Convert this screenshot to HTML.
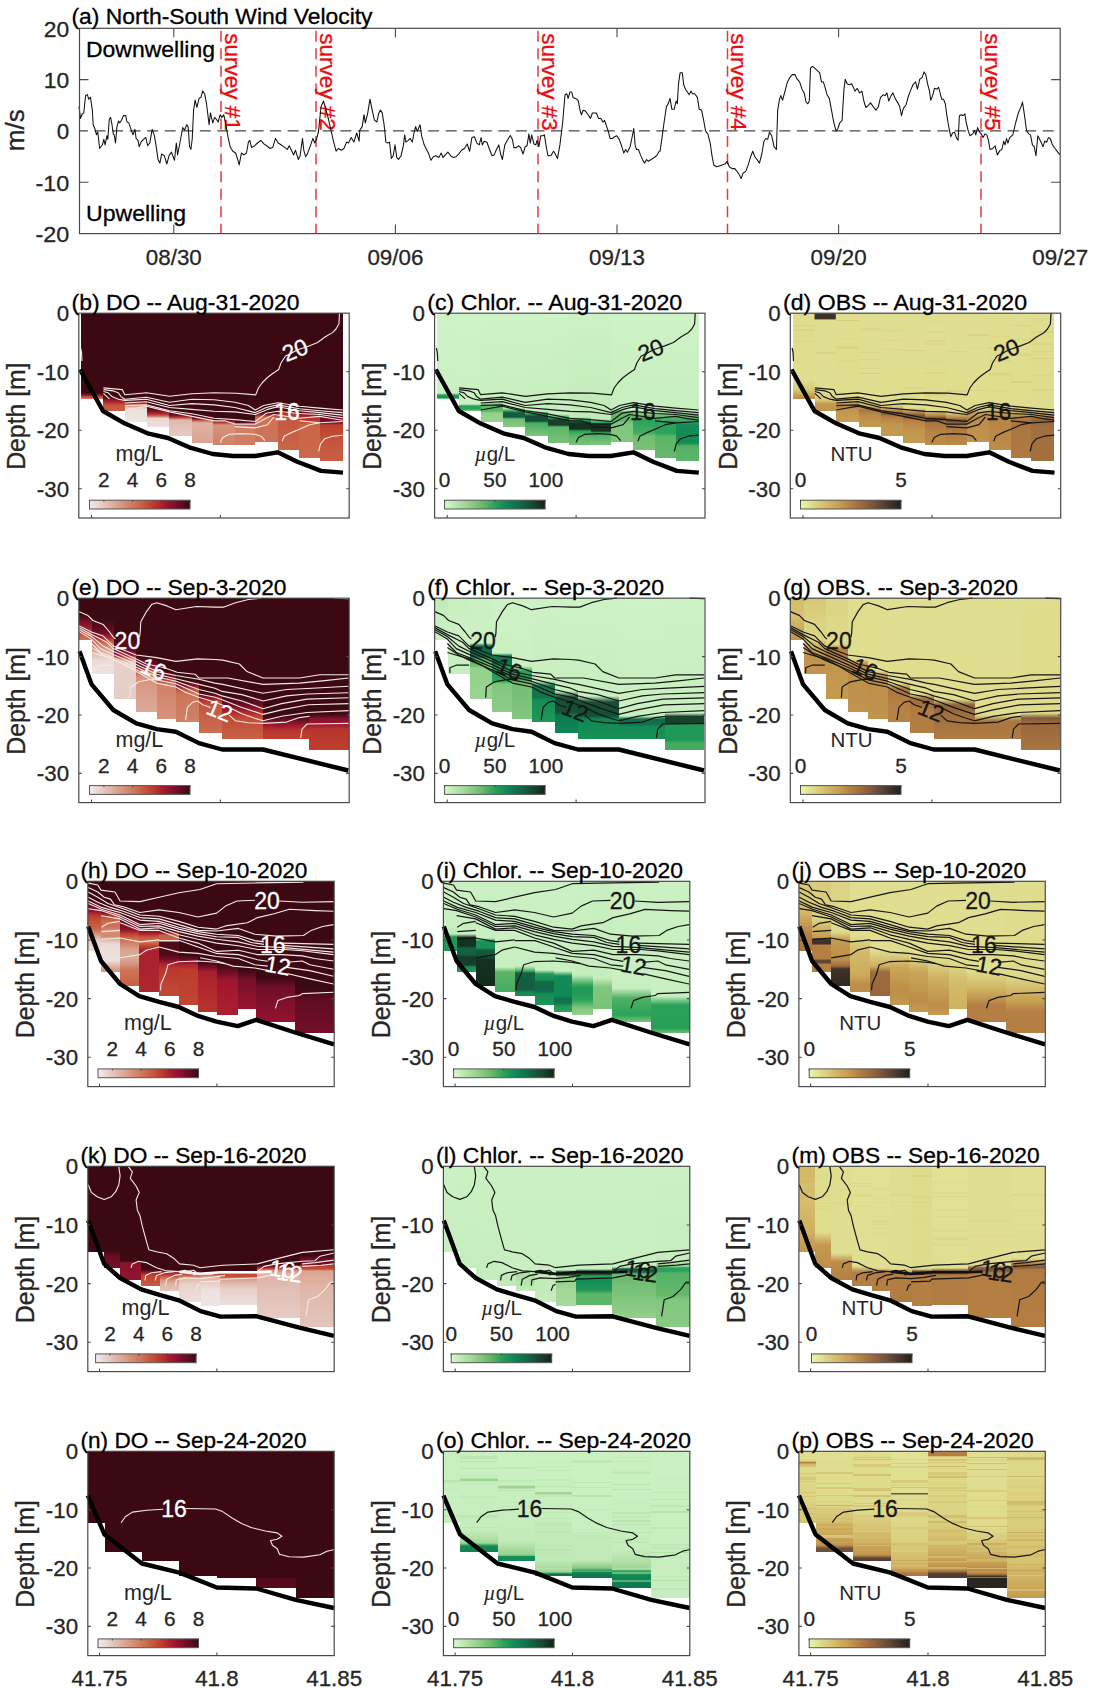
<!DOCTYPE html><html><head><meta charset="utf-8"><title>Figure</title><style>html,body{margin:0;padding:0;background:#fff}svg{display:block}text{font-family:"Liberation Sans",sans-serif}</style></head><body><svg width="1096" height="1688" viewBox="0 0 1096 1688" font-family="Liberation Sans, sans-serif"><defs><linearGradient id="g1" gradientUnits="userSpaceOnUse" x1="0" y1="313.2" x2="0" y2="399.2"><stop offset="0.9279" stop-color="#3c0912"/><stop offset="0.9512" stop-color="#90132d"/><stop offset="0.9744" stop-color="#c5563d"/><stop offset="1.0000" stop-color="#d18167"/></linearGradient><linearGradient id="g2" gradientUnits="userSpaceOnUse" x1="0" y1="313.2" x2="0" y2="410.7"><stop offset="0.8595" stop-color="#3c0912"/><stop offset="0.8903" stop-color="#90132d"/><stop offset="0.9210" stop-color="#b7332e"/><stop offset="0.9415" stop-color="#c5563d"/><stop offset="1.0000" stop-color="#c76044"/></linearGradient><linearGradient id="g3" gradientUnits="userSpaceOnUse" x1="0" y1="313.2" x2="0" y2="422.0"><stop offset="0.7886" stop-color="#3c0912"/><stop offset="0.8254" stop-color="#a41630"/><stop offset="0.8438" stop-color="#c96648"/><stop offset="0.8621" stop-color="#e0b7aa"/><stop offset="0.8805" stop-color="#eddfdc"/><stop offset="1.0000" stop-color="#eee5e2"/></linearGradient><linearGradient id="g4" gradientUnits="userSpaceOnUse" x1="0" y1="313.2" x2="0" y2="427.0"><stop offset="0.8243" stop-color="#3c0912"/><stop offset="0.8682" stop-color="#90132d"/><stop offset="0.8946" stop-color="#c04632"/><stop offset="0.9121" stop-color="#d89c88"/><stop offset="0.9253" stop-color="#ead7d2"/><stop offset="1.0000" stop-color="#eddfdc"/></linearGradient><linearGradient id="g5" gradientUnits="userSpaceOnUse" x1="0" y1="313.2" x2="0" y2="436.0"><stop offset="0.8127" stop-color="#3c0912"/><stop offset="0.8371" stop-color="#90132d"/><stop offset="0.8534" stop-color="#c5563d"/><stop offset="0.8697" stop-color="#e0b7aa"/><stop offset="1.0000" stop-color="#e6ccc5"/></linearGradient><linearGradient id="g6" gradientUnits="userSpaceOnUse" x1="0" y1="313.2" x2="0" y2="442.6"><stop offset="0.7944" stop-color="#3c0912"/><stop offset="0.8176" stop-color="#90132d"/><stop offset="0.8331" stop-color="#cd7458"/><stop offset="0.8485" stop-color="#deb2a3"/><stop offset="1.0031" stop-color="#dba592"/></linearGradient><linearGradient id="g7" gradientUnits="userSpaceOnUse" x1="0" y1="313.2" x2="0" y2="444.5"><stop offset="0.8058" stop-color="#3c0912"/><stop offset="0.8210" stop-color="#7d102a"/><stop offset="0.8363" stop-color="#c04632"/><stop offset="0.8515" stop-color="#d6947e"/><stop offset="1.0000" stop-color="#d18167"/></linearGradient><linearGradient id="g8" gradientUnits="userSpaceOnUse" x1="0" y1="313.2" x2="0" y2="444.5"><stop offset="0.8210" stop-color="#3c0912"/><stop offset="0.8439" stop-color="#7d102a"/><stop offset="0.8553" stop-color="#c96648"/><stop offset="0.8667" stop-color="#d18167"/><stop offset="1.0000" stop-color="#cf7c61"/></linearGradient><linearGradient id="g9" gradientUnits="userSpaceOnUse" x1="0" y1="313.2" x2="0" y2="442.0"><stop offset="0.7593" stop-color="#3c0912"/><stop offset="0.7826" stop-color="#680d24"/><stop offset="0.7981" stop-color="#c04632"/><stop offset="0.8137" stop-color="#cd7458"/><stop offset="1.0000" stop-color="#cd7458"/></linearGradient><linearGradient id="g10" gradientUnits="userSpaceOnUse" x1="0" y1="313.2" x2="0" y2="450.2"><stop offset="0.6920" stop-color="#3c0912"/><stop offset="0.7212" stop-color="#680d24"/><stop offset="0.7358" stop-color="#b9362e"/><stop offset="0.7650" stop-color="#c5563d"/><stop offset="0.9985" stop-color="#c96648"/></linearGradient><linearGradient id="g11" gradientUnits="userSpaceOnUse" x1="0" y1="313.2" x2="0" y2="457.9"><stop offset="0.6690" stop-color="#3c0912"/><stop offset="0.6966" stop-color="#7d102a"/><stop offset="0.7173" stop-color="#b32c2e"/><stop offset="0.7519" stop-color="#be402e"/><stop offset="0.7657" stop-color="#c96648"/><stop offset="1.0007" stop-color="#ca694b"/></linearGradient><linearGradient id="g12" gradientUnits="userSpaceOnUse" x1="0" y1="313.2" x2="0" y2="461.1"><stop offset="0.6815" stop-color="#3c0912"/><stop offset="0.7018" stop-color="#680d24"/><stop offset="0.7424" stop-color="#7d102a"/><stop offset="0.7559" stop-color="#be402e"/><stop offset="0.8573" stop-color="#c4533b"/><stop offset="0.9993" stop-color="#c76044"/></linearGradient><linearGradient id="g13" x1="0" y1="0" x2="1" y2="0"><stop offset="0.000" stop-color="#f1edec"/><stop offset="0.062" stop-color="#ecdcd8"/><stop offset="0.125" stop-color="#e6cbc3"/><stop offset="0.188" stop-color="#e1baae"/><stop offset="0.250" stop-color="#dcaa99"/><stop offset="0.312" stop-color="#d89984"/><stop offset="0.375" stop-color="#d3886f"/><stop offset="0.438" stop-color="#ce775c"/><stop offset="0.500" stop-color="#c96648"/><stop offset="0.562" stop-color="#c4523a"/><stop offset="0.625" stop-color="#be3e2d"/><stop offset="0.688" stop-color="#b12a2e"/><stop offset="0.750" stop-color="#a41630"/><stop offset="0.812" stop-color="#8c122c"/><stop offset="0.875" stop-color="#730e29"/><stop offset="0.938" stop-color="#580c1e"/><stop offset="1.000" stop-color="#3c0912"/></linearGradient><linearGradient id="g14" gradientUnits="userSpaceOnUse" x1="0" y1="313.2" x2="0" y2="399.2"><stop offset="-0.0023" stop-color="#cef3c6"/><stop offset="0.9279" stop-color="#cbf1c3"/><stop offset="0.9570" stop-color="#1f9757"/><stop offset="0.9802" stop-color="#1f9757"/><stop offset="1.0000" stop-color="#a2d798"/></linearGradient><linearGradient id="g15" gradientUnits="userSpaceOnUse" x1="0" y1="313.2" x2="0" y2="410.7"><stop offset="-0.0021" stop-color="#cef3c6"/><stop offset="0.9313" stop-color="#cbf1c3"/><stop offset="0.9518" stop-color="#2aa259"/><stop offset="0.9826" stop-color="#2aa259"/><stop offset="1.0000" stop-color="#82c77f"/></linearGradient><linearGradient id="g16" gradientUnits="userSpaceOnUse" x1="0" y1="313.2" x2="0" y2="422.0"><stop offset="-0.0018" stop-color="#cef3c6"/><stop offset="0.8162" stop-color="#c8efc0"/><stop offset="0.8438" stop-color="#5cb568"/><stop offset="0.8989" stop-color="#5cb568"/><stop offset="0.9173" stop-color="#94cf8b"/><stop offset="1.0000" stop-color="#9cd493"/></linearGradient><linearGradient id="g17" gradientUnits="userSpaceOnUse" x1="0" y1="313.2" x2="0" y2="427.0"><stop offset="-0.0018" stop-color="#cef3c6"/><stop offset="0.8330" stop-color="#c8efc0"/><stop offset="0.8594" stop-color="#2aa259"/><stop offset="0.8770" stop-color="#145c3f"/><stop offset="0.9121" stop-color="#145c3f"/><stop offset="0.9297" stop-color="#71be72"/><stop offset="1.0000" stop-color="#89ca84"/></linearGradient><linearGradient id="g18" gradientUnits="userSpaceOnUse" x1="0" y1="313.2" x2="0" y2="436.0"><stop offset="-0.0016" stop-color="#cef3c6"/><stop offset="0.3811" stop-color="#cbf1c3"/><stop offset="0.7964" stop-color="#c6edbd"/><stop offset="0.8208" stop-color="#2aa259"/><stop offset="0.8371" stop-color="#174f36"/><stop offset="0.8779" stop-color="#174f36"/><stop offset="0.8941" stop-color="#43ac61"/><stop offset="1.0000" stop-color="#82c77f"/></linearGradient><linearGradient id="g19" gradientUnits="userSpaceOnUse" x1="0" y1="313.2" x2="0" y2="442.6"><stop offset="-0.0015" stop-color="#cef3c6"/><stop offset="0.3617" stop-color="#caf0c2"/><stop offset="0.7790" stop-color="#c6edbd"/><stop offset="0.8099" stop-color="#2aa259"/><stop offset="0.8253" stop-color="#17412c"/><stop offset="0.8640" stop-color="#17412c"/><stop offset="0.8794" stop-color="#5cb568"/><stop offset="1.0031" stop-color="#78c277"/></linearGradient><linearGradient id="g20" gradientUnits="userSpaceOnUse" x1="0" y1="313.2" x2="0" y2="444.5"><stop offset="-0.0015" stop-color="#cdf2c5"/><stop offset="0.3564" stop-color="#c8efc0"/><stop offset="0.7906" stop-color="#c1eab8"/><stop offset="0.8210" stop-color="#148c56"/><stop offset="0.8363" stop-color="#143220"/><stop offset="0.8819" stop-color="#143220"/><stop offset="0.8972" stop-color="#2aa259"/><stop offset="0.9353" stop-color="#5cb568"/><stop offset="1.0000" stop-color="#78c277"/></linearGradient><linearGradient id="g21" gradientUnits="userSpaceOnUse" x1="0" y1="313.2" x2="0" y2="444.5"><stop offset="-0.0015" stop-color="#cdf2c5"/><stop offset="0.3564" stop-color="#c8efc0"/><stop offset="0.8058" stop-color="#c1eab8"/><stop offset="0.8363" stop-color="#148c56"/><stop offset="0.8515" stop-color="#143220"/><stop offset="0.8972" stop-color="#143220"/><stop offset="0.9124" stop-color="#43ac61"/><stop offset="1.0000" stop-color="#82c77f"/></linearGradient><linearGradient id="g22" gradientUnits="userSpaceOnUse" x1="0" y1="313.2" x2="0" y2="442.0"><stop offset="-0.0016" stop-color="#cef3c6"/><stop offset="0.7516" stop-color="#c8efc0"/><stop offset="0.7671" stop-color="#5cb568"/><stop offset="0.8292" stop-color="#66b96b"/><stop offset="0.8602" stop-color="#82c77f"/><stop offset="1.0000" stop-color="#82c77f"/></linearGradient><linearGradient id="g23" gradientUnits="userSpaceOnUse" x1="0" y1="313.2" x2="0" y2="450.2"><stop offset="-0.0015" stop-color="#cef3c6"/><stop offset="0.7066" stop-color="#c8efc0"/><stop offset="0.7358" stop-color="#82c77f"/><stop offset="0.7796" stop-color="#2aa259"/><stop offset="0.8745" stop-color="#43ac61"/><stop offset="0.8964" stop-color="#71be72"/><stop offset="0.9985" stop-color="#78c277"/></linearGradient><linearGradient id="g24" gradientUnits="userSpaceOnUse" x1="0" y1="313.2" x2="0" y2="457.9"><stop offset="-0.0014" stop-color="#cef3c6"/><stop offset="0.6690" stop-color="#c8efc0"/><stop offset="0.6966" stop-color="#82c77f"/><stop offset="0.7519" stop-color="#2aa259"/><stop offset="0.8279" stop-color="#2aa259"/><stop offset="0.8487" stop-color="#5cb568"/><stop offset="1.0007" stop-color="#66b96b"/></linearGradient><linearGradient id="g25" gradientUnits="userSpaceOnUse" x1="0" y1="313.2" x2="0" y2="461.1"><stop offset="-0.0014" stop-color="#cef3c6"/><stop offset="0.6680" stop-color="#c8efc0"/><stop offset="0.6951" stop-color="#71be72"/><stop offset="0.7559" stop-color="#148c56"/><stop offset="0.8776" stop-color="#148c56"/><stop offset="0.8979" stop-color="#52b165"/><stop offset="0.9993" stop-color="#5cb568"/></linearGradient><linearGradient id="g26" x1="0" y1="0" x2="1" y2="0"><stop offset="0.000" stop-color="#d7f9d0"/><stop offset="0.062" stop-color="#c6eebe"/><stop offset="0.125" stop-color="#b6e3ac"/><stop offset="0.188" stop-color="#a5d99c"/><stop offset="0.250" stop-color="#94cf8b"/><stop offset="0.312" stop-color="#7ec47c"/><stop offset="0.375" stop-color="#68ba6c"/><stop offset="0.438" stop-color="#49ae62"/><stop offset="0.500" stop-color="#2aa259"/><stop offset="0.562" stop-color="#1c9457"/><stop offset="0.625" stop-color="#0e8755"/><stop offset="0.688" stop-color="#10784e"/><stop offset="0.750" stop-color="#126948"/><stop offset="0.812" stop-color="#15583d"/><stop offset="0.875" stop-color="#184832"/><stop offset="0.938" stop-color="#153623"/><stop offset="1.000" stop-color="#122414"/></linearGradient><linearGradient id="g27" gradientUnits="userSpaceOnUse" x1="0" y1="313.2" x2="0" y2="399.2"><stop offset="-0.0023" stop-color="#e0dd8f"/><stop offset="0.7767" stop-color="#e0dd8f"/><stop offset="0.8930" stop-color="#d7c877"/><stop offset="0.9628" stop-color="#c49a50"/><stop offset="1.0000" stop-color="#bd8d49"/></linearGradient><linearGradient id="g28" gradientUnits="userSpaceOnUse" x1="0" y1="313.2" x2="0" y2="410.7"><stop offset="-0.0021" stop-color="#e0df91"/><stop offset="0.8082" stop-color="#e0de90"/><stop offset="0.8903" stop-color="#d7c877"/><stop offset="0.9313" stop-color="#c49a50"/><stop offset="1.0000" stop-color="#c1954d"/></linearGradient><linearGradient id="g29" gradientUnits="userSpaceOnUse" x1="0" y1="313.2" x2="0" y2="422.0"><stop offset="-0.0018" stop-color="#e0de90"/><stop offset="0.7610" stop-color="#e0dd8f"/><stop offset="0.8162" stop-color="#cfb161"/><stop offset="0.8529" stop-color="#b57f43"/><stop offset="0.8897" stop-color="#c1954d"/><stop offset="1.0000" stop-color="#c7a052"/></linearGradient><linearGradient id="g30" gradientUnits="userSpaceOnUse" x1="0" y1="313.2" x2="0" y2="427.0"><stop offset="-0.0018" stop-color="#e0df91"/><stop offset="0.7627" stop-color="#e0de90"/><stop offset="0.8155" stop-color="#cfb161"/><stop offset="0.8506" stop-color="#a97540"/><stop offset="0.9033" stop-color="#bd8d49"/><stop offset="1.0000" stop-color="#c49a50"/></linearGradient><linearGradient id="g31" gradientUnits="userSpaceOnUse" x1="0" y1="313.2" x2="0" y2="436.0"><stop offset="-0.0016" stop-color="#e0df91"/><stop offset="0.7394" stop-color="#e0dd8f"/><stop offset="0.7883" stop-color="#c49a50"/><stop offset="0.8127" stop-color="#80593b"/><stop offset="0.8453" stop-color="#b57f43"/><stop offset="0.9023" stop-color="#c1954d"/><stop offset="1.0000" stop-color="#c49a50"/></linearGradient><linearGradient id="g32" gradientUnits="userSpaceOnUse" x1="0" y1="313.2" x2="0" y2="442.6"><stop offset="-0.0015" stop-color="#e0df91"/><stop offset="0.7326" stop-color="#e0dd8f"/><stop offset="0.7635" stop-color="#bd8d49"/><stop offset="0.7944" stop-color="#70503a"/><stop offset="0.8253" stop-color="#b57f43"/><stop offset="0.9026" stop-color="#c1954d"/><stop offset="1.0031" stop-color="#c49a50"/></linearGradient><linearGradient id="g33" gradientUnits="userSpaceOnUse" x1="0" y1="313.2" x2="0" y2="444.5"><stop offset="-0.0015" stop-color="#e0df91"/><stop offset="0.7372" stop-color="#dfdc8d"/><stop offset="0.7829" stop-color="#b57f43"/><stop offset="0.8058" stop-color="#503c30"/><stop offset="0.8286" stop-color="#a97540"/><stop offset="0.9048" stop-color="#b88446"/><stop offset="1.0000" stop-color="#bd8d49"/></linearGradient><linearGradient id="g34" gradientUnits="userSpaceOnUse" x1="0" y1="313.2" x2="0" y2="444.5"><stop offset="-0.0015" stop-color="#e0df91"/><stop offset="0.7525" stop-color="#dfdc8d"/><stop offset="0.7982" stop-color="#b57f43"/><stop offset="0.8210" stop-color="#604635"/><stop offset="0.8439" stop-color="#a97540"/><stop offset="1.0000" stop-color="#bb8a48"/></linearGradient><linearGradient id="g35" gradientUnits="userSpaceOnUse" x1="0" y1="313.2" x2="0" y2="442.0"><stop offset="-0.0016" stop-color="#e0df91"/><stop offset="0.7360" stop-color="#e0dd8f"/><stop offset="0.7671" stop-color="#caa658"/><stop offset="0.8059" stop-color="#bd8d49"/><stop offset="1.0000" stop-color="#c1954d"/></linearGradient><linearGradient id="g36" gradientUnits="userSpaceOnUse" x1="0" y1="313.2" x2="0" y2="450.2"><stop offset="-0.0015" stop-color="#e0dd8f"/><stop offset="0.6774" stop-color="#e0dd8f"/><stop offset="0.7212" stop-color="#caa658"/><stop offset="0.7650" stop-color="#b88446"/><stop offset="0.9985" stop-color="#bd8d49"/></linearGradient><linearGradient id="g37" gradientUnits="userSpaceOnUse" x1="0" y1="313.2" x2="0" y2="457.9"><stop offset="-0.0014" stop-color="#e0de90"/><stop offset="0.6551" stop-color="#e0dd8f"/><stop offset="0.6897" stop-color="#caa658"/><stop offset="0.7381" stop-color="#a97540"/><stop offset="1.0007" stop-color="#b07b42"/></linearGradient><linearGradient id="g38" gradientUnits="userSpaceOnUse" x1="0" y1="313.2" x2="0" y2="461.1"><stop offset="-0.0014" stop-color="#e0dd8f"/><stop offset="0.6545" stop-color="#dfdc8d"/><stop offset="0.6951" stop-color="#bd8d49"/><stop offset="0.7221" stop-color="#90623c"/><stop offset="0.7627" stop-color="#a26f3f"/><stop offset="0.9993" stop-color="#a26f3f"/></linearGradient><linearGradient id="g39" x1="0" y1="0" x2="1" y2="0"><stop offset="0.000" stop-color="#e9f6ab"/><stop offset="0.062" stop-color="#e4e89a"/><stop offset="0.125" stop-color="#ded98a"/><stop offset="0.188" stop-color="#d8ca7a"/><stop offset="0.250" stop-color="#d3bc6a"/><stop offset="0.312" stop-color="#ceae5e"/><stop offset="0.375" stop-color="#c8a153"/><stop offset="0.438" stop-color="#be904b"/><stop offset="0.500" stop-color="#b57f43"/><stop offset="0.562" stop-color="#a67240"/><stop offset="0.625" stop-color="#98663c"/><stop offset="0.688" stop-color="#845b3b"/><stop offset="0.750" stop-color="#70503a"/><stop offset="0.812" stop-color="#5c4434"/><stop offset="0.875" stop-color="#48372d"/><stop offset="0.938" stop-color="#352b24"/><stop offset="1.000" stop-color="#221f1b"/></linearGradient><linearGradient id="g40" gradientUnits="userSpaceOnUse" x1="0" y1="598.2" x2="0" y2="639.7"><stop offset="0.4048" stop-color="#3c0912"/><stop offset="0.5735" stop-color="#7d102a"/><stop offset="0.7904" stop-color="#ae262f"/><stop offset="0.8627" stop-color="#c5563d"/><stop offset="1.0000" stop-color="#cd7458"/></linearGradient><linearGradient id="g41" gradientUnits="userSpaceOnUse" x1="0" y1="598.2" x2="0" y2="673.5"><stop offset="0.2895" stop-color="#3c0912"/><stop offset="0.4622" stop-color="#710e28"/><stop offset="0.5286" stop-color="#ae262f"/><stop offset="0.5817" stop-color="#c96648"/><stop offset="0.6746" stop-color="#d89c88"/><stop offset="0.7543" stop-color="#e4c4bb"/><stop offset="0.8340" stop-color="#ecddd8"/><stop offset="1.0000" stop-color="#ede2df"/></linearGradient><linearGradient id="g42" gradientUnits="userSpaceOnUse" x1="0" y1="598.2" x2="0" y2="699.1"><stop offset="0.3449" stop-color="#3c0912"/><stop offset="0.5134" stop-color="#680d24"/><stop offset="0.5629" stop-color="#98142e"/><stop offset="0.5927" stop-color="#c96648"/><stop offset="0.6224" stop-color="#e0b7aa"/><stop offset="0.6521" stop-color="#e8d2cb"/><stop offset="0.9990" stop-color="#e6ccc5"/></linearGradient><linearGradient id="g43" gradientUnits="userSpaceOnUse" x1="0" y1="598.2" x2="0" y2="711.9"><stop offset="0.4996" stop-color="#3c0912"/><stop offset="0.5875" stop-color="#680d24"/><stop offset="0.6227" stop-color="#ae262f"/><stop offset="0.6491" stop-color="#c96648"/><stop offset="0.7018" stop-color="#d6947e"/><stop offset="1.0009" stop-color="#dcaa99"/></linearGradient><linearGradient id="g44" gradientUnits="userSpaceOnUse" x1="0" y1="598.2" x2="0" y2="718.9"><stop offset="0.6031" stop-color="#3c0912"/><stop offset="0.6529" stop-color="#7d102a"/><stop offset="0.6860" stop-color="#c04632"/><stop offset="0.7191" stop-color="#d18167"/><stop offset="1.0008" stop-color="#d6927b"/></linearGradient><linearGradient id="g45" gradientUnits="userSpaceOnUse" x1="0" y1="598.2" x2="0" y2="721.8"><stop offset="0.6699" stop-color="#3c0912"/><stop offset="0.7104" stop-color="#90132d"/><stop offset="0.7427" stop-color="#c5563d"/><stop offset="0.7751" stop-color="#cd7458"/><stop offset="1.0016" stop-color="#d18167"/></linearGradient><linearGradient id="g46" gradientUnits="userSpaceOnUse" x1="0" y1="598.2" x2="0" y2="733.3"><stop offset="0.6943" stop-color="#3c0912"/><stop offset="0.7313" stop-color="#7d102a"/><stop offset="0.7609" stop-color="#b9362e"/><stop offset="0.7979" stop-color="#c5563d"/><stop offset="0.9978" stop-color="#cb6e51"/></linearGradient><linearGradient id="g47" gradientUnits="userSpaceOnUse" x1="0" y1="598.2" x2="0" y2="738.7"><stop offset="0.6890" stop-color="#3c0912"/><stop offset="0.7601" stop-color="#680d24"/><stop offset="0.8100" stop-color="#ae262f"/><stop offset="0.8527" stop-color="#c24c37"/><stop offset="1.0021" stop-color="#c76044"/></linearGradient><linearGradient id="g48" gradientUnits="userSpaceOnUse" x1="0" y1="598.2" x2="0" y2="738.7"><stop offset="0.8384" stop-color="#3c0912"/><stop offset="0.8811" stop-color="#7d102a"/><stop offset="0.9167" stop-color="#aa202f"/><stop offset="0.9452" stop-color="#b9362e"/><stop offset="1.0021" stop-color="#be402e"/></linearGradient><linearGradient id="g49" gradientUnits="userSpaceOnUse" x1="0" y1="598.2" x2="0" y2="750.2"><stop offset="0.7618" stop-color="#3c0912"/><stop offset="0.7947" stop-color="#89122c"/><stop offset="0.8276" stop-color="#98142e"/><stop offset="0.8605" stop-color="#b7332e"/><stop offset="0.9987" stop-color="#be402e"/></linearGradient><linearGradient id="g50" x1="0" y1="0" x2="1" y2="0"><stop offset="0.000" stop-color="#f1edec"/><stop offset="0.062" stop-color="#ecdcd8"/><stop offset="0.125" stop-color="#e6cbc3"/><stop offset="0.188" stop-color="#e1baae"/><stop offset="0.250" stop-color="#dcaa99"/><stop offset="0.312" stop-color="#d89984"/><stop offset="0.375" stop-color="#d3886f"/><stop offset="0.438" stop-color="#ce775c"/><stop offset="0.500" stop-color="#c96648"/><stop offset="0.562" stop-color="#c4523a"/><stop offset="0.625" stop-color="#be3e2d"/><stop offset="0.688" stop-color="#b12a2e"/><stop offset="0.750" stop-color="#a41630"/><stop offset="0.812" stop-color="#8c122c"/><stop offset="0.875" stop-color="#730e29"/><stop offset="0.938" stop-color="#580c1e"/><stop offset="1.000" stop-color="#3c0912"/></linearGradient><linearGradient id="g51" gradientUnits="userSpaceOnUse" x1="0" y1="598.2" x2="0" y2="639.7"><stop offset="-0.0048" stop-color="#c1eab8"/><stop offset="0.5253" stop-color="#c8efc0"/><stop offset="1.0000" stop-color="#cbf1c3"/></linearGradient><linearGradient id="g52" gradientUnits="userSpaceOnUse" x1="0" y1="598.2" x2="0" y2="673.5"><stop offset="-0.0027" stop-color="#c8efc0"/><stop offset="0.5551" stop-color="#cdf2c5"/><stop offset="0.7543" stop-color="#c8efc0"/><stop offset="1.0000" stop-color="#c6edbd"/></linearGradient><linearGradient id="g53" gradientUnits="userSpaceOnUse" x1="0" y1="598.2" x2="0" y2="699.1"><stop offset="-0.0020" stop-color="#cbf1c3"/><stop offset="0.4440" stop-color="#cbf1c3"/><stop offset="0.4737" stop-color="#126948"/><stop offset="0.5828" stop-color="#126948"/><stop offset="0.6026" stop-color="#5cb568"/><stop offset="0.6720" stop-color="#71be72"/><stop offset="0.6918" stop-color="#94cf8b"/><stop offset="0.9990" stop-color="#9cd493"/></linearGradient><linearGradient id="g54" gradientUnits="userSpaceOnUse" x1="0" y1="598.2" x2="0" y2="711.9"><stop offset="-0.0018" stop-color="#cdf2c5"/><stop offset="0.4820" stop-color="#cbf1c3"/><stop offset="0.5084" stop-color="#10754d"/><stop offset="0.5787" stop-color="#10754d"/><stop offset="0.5963" stop-color="#1f9757"/><stop offset="0.7282" stop-color="#2aa259"/><stop offset="0.7546" stop-color="#82c77f"/><stop offset="1.0009" stop-color="#8dcc86"/></linearGradient><linearGradient id="g55" gradientUnits="userSpaceOnUse" x1="0" y1="598.2" x2="0" y2="718.9"><stop offset="-0.0017" stop-color="#cdf2c5"/><stop offset="0.5617" stop-color="#cbf1c3"/><stop offset="0.6031" stop-color="#2aa259"/><stop offset="0.6694" stop-color="#2aa259"/><stop offset="0.6943" stop-color="#71be72"/><stop offset="1.0008" stop-color="#82c77f"/></linearGradient><linearGradient id="g56" gradientUnits="userSpaceOnUse" x1="0" y1="598.2" x2="0" y2="721.8"><stop offset="-0.0016" stop-color="#cdf2c5"/><stop offset="0.6699" stop-color="#c8efc0"/><stop offset="0.7104" stop-color="#10754d"/><stop offset="0.7994" stop-color="#10754d"/><stop offset="0.8236" stop-color="#148c56"/><stop offset="1.0016" stop-color="#1f9757"/></linearGradient><linearGradient id="g57" gradientUnits="userSpaceOnUse" x1="0" y1="598.2" x2="0" y2="733.3"><stop offset="-0.0015" stop-color="#cdf2c5"/><stop offset="0.6869" stop-color="#c8efc0"/><stop offset="0.7313" stop-color="#174f36"/><stop offset="0.8423" stop-color="#174f36"/><stop offset="0.8645" stop-color="#10754d"/><stop offset="0.9978" stop-color="#0f8855"/></linearGradient><linearGradient id="g58" gradientUnits="userSpaceOnUse" x1="0" y1="598.2" x2="0" y2="738.7"><stop offset="-0.0014" stop-color="#cdf2c5"/><stop offset="0.6961" stop-color="#c8efc0"/><stop offset="0.7388" stop-color="#174f36"/><stop offset="0.8384" stop-color="#174f36"/><stop offset="0.8598" stop-color="#0f8855"/><stop offset="1.0021" stop-color="#189156"/></linearGradient><linearGradient id="g59" gradientUnits="userSpaceOnUse" x1="0" y1="598.2" x2="0" y2="738.7"><stop offset="-0.0014" stop-color="#cef3c6"/><stop offset="0.8384" stop-color="#c8efc0"/><stop offset="0.8598" stop-color="#11704b"/><stop offset="0.8954" stop-color="#11704b"/><stop offset="0.9167" stop-color="#148c56"/><stop offset="1.0021" stop-color="#189156"/></linearGradient><linearGradient id="g60" gradientUnits="userSpaceOnUse" x1="0" y1="598.2" x2="0" y2="750.2"><stop offset="-0.0013" stop-color="#cdf2c5"/><stop offset="0.7553" stop-color="#c8efc0"/><stop offset="0.7783" stop-color="#17412c"/><stop offset="0.8211" stop-color="#17412c"/><stop offset="0.8342" stop-color="#1f9757"/><stop offset="0.9329" stop-color="#1f9757"/><stop offset="0.9526" stop-color="#43ac61"/><stop offset="0.9987" stop-color="#43ac61"/></linearGradient><linearGradient id="g61" x1="0" y1="0" x2="1" y2="0"><stop offset="0.000" stop-color="#d7f9d0"/><stop offset="0.062" stop-color="#c6eebe"/><stop offset="0.125" stop-color="#b6e3ac"/><stop offset="0.188" stop-color="#a5d99c"/><stop offset="0.250" stop-color="#94cf8b"/><stop offset="0.312" stop-color="#7ec47c"/><stop offset="0.375" stop-color="#68ba6c"/><stop offset="0.438" stop-color="#49ae62"/><stop offset="0.500" stop-color="#2aa259"/><stop offset="0.562" stop-color="#1c9457"/><stop offset="0.625" stop-color="#0e8755"/><stop offset="0.688" stop-color="#10784e"/><stop offset="0.750" stop-color="#126948"/><stop offset="0.812" stop-color="#15583d"/><stop offset="0.875" stop-color="#184832"/><stop offset="0.938" stop-color="#153623"/><stop offset="1.000" stop-color="#122414"/></linearGradient><linearGradient id="g62" gradientUnits="userSpaceOnUse" x1="0" y1="598.2" x2="0" y2="639.7"><stop offset="-0.0048" stop-color="#d3bc6a"/><stop offset="0.4048" stop-color="#d6c372"/><stop offset="0.6458" stop-color="#cfb161"/><stop offset="1.0000" stop-color="#c1954d"/></linearGradient><linearGradient id="g63" gradientUnits="userSpaceOnUse" x1="0" y1="598.2" x2="0" y2="673.5"><stop offset="-0.0027" stop-color="#d7c877"/><stop offset="0.3559" stop-color="#dcd384"/><stop offset="0.5551" stop-color="#dcd384"/><stop offset="0.6348" stop-color="#cfb161"/><stop offset="0.7410" stop-color="#c1954d"/><stop offset="1.0000" stop-color="#c1954d"/></linearGradient><linearGradient id="g64" gradientUnits="userSpaceOnUse" x1="0" y1="598.2" x2="0" y2="699.1"><stop offset="-0.0020" stop-color="#dcd384"/><stop offset="0.4539" stop-color="#dfdc8d"/><stop offset="0.5035" stop-color="#b57f43"/><stop offset="0.5629" stop-color="#b57f43"/><stop offset="0.6323" stop-color="#c1954d"/><stop offset="0.9990" stop-color="#c49a50"/></linearGradient><linearGradient id="g65" gradientUnits="userSpaceOnUse" x1="0" y1="598.2" x2="0" y2="711.9"><stop offset="-0.0018" stop-color="#e0dd8f"/><stop offset="0.5347" stop-color="#e0dd8f"/><stop offset="0.5787" stop-color="#bd8d49"/><stop offset="1.0009" stop-color="#c1954d"/></linearGradient><linearGradient id="g66" gradientUnits="userSpaceOnUse" x1="0" y1="598.2" x2="0" y2="718.9"><stop offset="-0.0017" stop-color="#e0de90"/><stop offset="0.6031" stop-color="#e0dd8f"/><stop offset="0.6446" stop-color="#bd8d49"/><stop offset="1.0008" stop-color="#c1954d"/></linearGradient><linearGradient id="g67" gradientUnits="userSpaceOnUse" x1="0" y1="598.2" x2="0" y2="721.8"><stop offset="-0.0016" stop-color="#e0df91"/><stop offset="0.6861" stop-color="#e0dd8f"/><stop offset="0.7346" stop-color="#a97540"/><stop offset="0.8236" stop-color="#b57f43"/><stop offset="1.0016" stop-color="#b88446"/></linearGradient><linearGradient id="g68" gradientUnits="userSpaceOnUse" x1="0" y1="598.2" x2="0" y2="733.3"><stop offset="-0.0015" stop-color="#e0df91"/><stop offset="0.7091" stop-color="#e0dd8f"/><stop offset="0.7461" stop-color="#9e6b3d"/><stop offset="0.8275" stop-color="#b07b42"/><stop offset="0.9978" stop-color="#b57f43"/></linearGradient><linearGradient id="g69" gradientUnits="userSpaceOnUse" x1="0" y1="598.2" x2="0" y2="738.7"><stop offset="-0.0014" stop-color="#e0df91"/><stop offset="0.7174" stop-color="#e0dd8f"/><stop offset="0.7601" stop-color="#90623c"/><stop offset="0.8313" stop-color="#a26f3f"/><stop offset="1.0021" stop-color="#b07b42"/></linearGradient><linearGradient id="g70" gradientUnits="userSpaceOnUse" x1="0" y1="598.2" x2="0" y2="738.7"><stop offset="-0.0014" stop-color="#e0df91"/><stop offset="0.8313" stop-color="#e0dd8f"/><stop offset="0.8740" stop-color="#a97540"/><stop offset="1.0021" stop-color="#b07b42"/></linearGradient><linearGradient id="g71" gradientUnits="userSpaceOnUse" x1="0" y1="598.2" x2="0" y2="750.2"><stop offset="-0.0013" stop-color="#e0dd8f"/><stop offset="0.7553" stop-color="#dfdb8c"/><stop offset="0.7882" stop-color="#80593b"/><stop offset="0.8145" stop-color="#99673c"/><stop offset="0.9987" stop-color="#a97540"/></linearGradient><linearGradient id="g72" x1="0" y1="0" x2="1" y2="0"><stop offset="0.000" stop-color="#e9f6ab"/><stop offset="0.062" stop-color="#e4e89a"/><stop offset="0.125" stop-color="#ded98a"/><stop offset="0.188" stop-color="#d8ca7a"/><stop offset="0.250" stop-color="#d3bc6a"/><stop offset="0.312" stop-color="#ceae5e"/><stop offset="0.375" stop-color="#c8a153"/><stop offset="0.438" stop-color="#be904b"/><stop offset="0.500" stop-color="#b57f43"/><stop offset="0.562" stop-color="#a67240"/><stop offset="0.625" stop-color="#98663c"/><stop offset="0.688" stop-color="#845b3b"/><stop offset="0.750" stop-color="#70503a"/><stop offset="0.812" stop-color="#5c4434"/><stop offset="0.875" stop-color="#48372d"/><stop offset="0.938" stop-color="#352b24"/><stop offset="1.000" stop-color="#221f1b"/></linearGradient><linearGradient id="g73" gradientUnits="userSpaceOnUse" x1="0" y1="881.3" x2="0" y2="950.8"><stop offset="0.2691" stop-color="#3c0912"/><stop offset="0.3698" stop-color="#710e28"/><stop offset="0.4273" stop-color="#90132d"/><stop offset="0.4849" stop-color="#b9362e"/><stop offset="0.5568" stop-color="#c24c37"/><stop offset="0.6863" stop-color="#c96648"/><stop offset="0.7727" stop-color="#d89c88"/><stop offset="0.8446" stop-color="#e6ccc5"/><stop offset="1.0029" stop-color="#ecddd8"/></linearGradient><linearGradient id="g74" gradientUnits="userSpaceOnUse" x1="0" y1="881.3" x2="0" y2="971.9"><stop offset="0.2837" stop-color="#3c0912"/><stop offset="0.3499" stop-color="#7d102a"/><stop offset="0.3830" stop-color="#be402e"/><stop offset="0.4272" stop-color="#c96648"/><stop offset="0.5044" stop-color="#cd7458"/><stop offset="0.5486" stop-color="#d58f77"/><stop offset="0.6038" stop-color="#d3876d"/><stop offset="0.6479" stop-color="#e0b7aa"/><stop offset="0.6921" stop-color="#ebdad5"/><stop offset="0.8687" stop-color="#ede2df"/><stop offset="0.9128" stop-color="#e4c4bb"/><stop offset="0.9570" stop-color="#dba592"/><stop offset="1.0011" stop-color="#d79781"/></linearGradient><linearGradient id="g75" gradientUnits="userSpaceOnUse" x1="0" y1="881.3" x2="0" y2="985.9"><stop offset="0.3222" stop-color="#3c0912"/><stop offset="0.4082" stop-color="#680d24"/><stop offset="0.4656" stop-color="#90132d"/><stop offset="0.5038" stop-color="#be402e"/><stop offset="0.5421" stop-color="#c96648"/><stop offset="0.5994" stop-color="#d3876d"/><stop offset="0.6568" stop-color="#dba592"/><stop offset="0.7333" stop-color="#dcaa99"/><stop offset="0.7906" stop-color="#d6947e"/><stop offset="0.8480" stop-color="#cd7458"/><stop offset="1.0010" stop-color="#c76044"/></linearGradient><linearGradient id="g76" gradientUnits="userSpaceOnUse" x1="0" y1="881.3" x2="0" y2="991.7"><stop offset="0.3596" stop-color="#3c0912"/><stop offset="0.4321" stop-color="#710e28"/><stop offset="0.4683" stop-color="#a41630"/><stop offset="0.5045" stop-color="#c5563d"/><stop offset="0.5498" stop-color="#cd7458"/><stop offset="0.5861" stop-color="#c04632"/><stop offset="0.6223" stop-color="#aa202f"/><stop offset="1.0027" stop-color="#ae262f"/></linearGradient><linearGradient id="g77" gradientUnits="userSpaceOnUse" x1="0" y1="881.3" x2="0" y2="996.1"><stop offset="0.4329" stop-color="#3c0912"/><stop offset="0.4503" stop-color="#90132d"/><stop offset="0.4678" stop-color="#c76044"/><stop offset="0.5200" stop-color="#c96648"/><stop offset="0.5331" stop-color="#520b1b"/><stop offset="0.6420" stop-color="#520b1b"/><stop offset="0.6855" stop-color="#7d102a"/><stop offset="0.7204" stop-color="#aa202f"/><stop offset="0.7552" stop-color="#b9362e"/><stop offset="0.9991" stop-color="#c24c37"/></linearGradient><linearGradient id="g78" gradientUnits="userSpaceOnUse" x1="0" y1="881.3" x2="0" y2="1005.1"><stop offset="0.5953" stop-color="#3c0912"/><stop offset="0.6438" stop-color="#7d102a"/><stop offset="0.6761" stop-color="#ae262f"/><stop offset="0.7165" stop-color="#bd3c2d"/><stop offset="0.9992" stop-color="#c04632"/></linearGradient><linearGradient id="g79" gradientUnits="userSpaceOnUse" x1="0" y1="881.3" x2="0" y2="1011.5"><stop offset="0.6198" stop-color="#3c0912"/><stop offset="0.6659" stop-color="#7d102a"/><stop offset="0.6966" stop-color="#aa202f"/><stop offset="0.9962" stop-color="#b7332e"/></linearGradient><linearGradient id="g80" gradientUnits="userSpaceOnUse" x1="0" y1="881.3" x2="0" y2="1014.7"><stop offset="0.6199" stop-color="#3c0912"/><stop offset="0.7024" stop-color="#7d102a"/><stop offset="0.7399" stop-color="#a0152f"/><stop offset="1.0022" stop-color="#aa202f"/></linearGradient><linearGradient id="g81" gradientUnits="userSpaceOnUse" x1="0" y1="881.3" x2="0" y2="1008.9"><stop offset="0.6951" stop-color="#3c0912"/><stop offset="0.7735" stop-color="#790f2a"/><stop offset="1.0008" stop-color="#98142e"/></linearGradient><linearGradient id="g82" gradientUnits="userSpaceOnUse" x1="0" y1="881.3" x2="0" y2="1021.7"><stop offset="0.6887" stop-color="#3c0912"/><stop offset="0.7600" stop-color="#710e28"/><stop offset="1.0021" stop-color="#94132e"/></linearGradient><linearGradient id="g83" gradientUnits="userSpaceOnUse" x1="0" y1="881.3" x2="0" y2="1033.2"><stop offset="0.7156" stop-color="#3c0912"/><stop offset="0.7749" stop-color="#5f0c21"/><stop offset="0.9987" stop-color="#750e29"/></linearGradient><linearGradient id="g84" x1="0" y1="0" x2="1" y2="0"><stop offset="0.000" stop-color="#f1edec"/><stop offset="0.062" stop-color="#ecdcd8"/><stop offset="0.125" stop-color="#e6cbc3"/><stop offset="0.188" stop-color="#e1baae"/><stop offset="0.250" stop-color="#dcaa99"/><stop offset="0.312" stop-color="#d89984"/><stop offset="0.375" stop-color="#d3886f"/><stop offset="0.438" stop-color="#ce775c"/><stop offset="0.500" stop-color="#c96648"/><stop offset="0.562" stop-color="#c4523a"/><stop offset="0.625" stop-color="#be3e2d"/><stop offset="0.688" stop-color="#b12a2e"/><stop offset="0.750" stop-color="#a41630"/><stop offset="0.812" stop-color="#8c122c"/><stop offset="0.875" stop-color="#730e29"/><stop offset="0.938" stop-color="#580c1e"/><stop offset="1.000" stop-color="#3c0912"/></linearGradient><linearGradient id="g85" gradientUnits="userSpaceOnUse" x1="0" y1="881.3" x2="0" y2="950.8"><stop offset="-0.0043" stop-color="#cbf1c3"/><stop offset="0.6288" stop-color="#c8efc0"/><stop offset="0.7583" stop-color="#c1eab8"/><stop offset="0.8014" stop-color="#1f9757"/><stop offset="1.0029" stop-color="#1f9757"/></linearGradient><linearGradient id="g86" gradientUnits="userSpaceOnUse" x1="0" y1="881.3" x2="0" y2="971.9"><stop offset="-0.0033" stop-color="#cbf1c3"/><stop offset="0.5817" stop-color="#c8efc0"/><stop offset="0.6203" stop-color="#143220"/><stop offset="0.7141" stop-color="#143220"/><stop offset="0.7362" stop-color="#136143"/><stop offset="0.8135" stop-color="#136143"/><stop offset="0.8355" stop-color="#163b27"/><stop offset="0.9238" stop-color="#17412c"/><stop offset="0.9459" stop-color="#148c56"/><stop offset="1.0011" stop-color="#1f9757"/></linearGradient><linearGradient id="g87" gradientUnits="userSpaceOnUse" x1="0" y1="881.3" x2="0" y2="985.9"><stop offset="-0.0029" stop-color="#cbf1c3"/><stop offset="0.5421" stop-color="#c8efc0"/><stop offset="0.5707" stop-color="#189156"/><stop offset="0.6377" stop-color="#189156"/><stop offset="0.6568" stop-color="#145c3f"/><stop offset="0.7237" stop-color="#174f36"/><stop offset="0.7524" stop-color="#14301e"/><stop offset="1.0010" stop-color="#132d1b"/></linearGradient><linearGradient id="g88" gradientUnits="userSpaceOnUse" x1="0" y1="881.3" x2="0" y2="991.7"><stop offset="-0.0027" stop-color="#cbf1c3"/><stop offset="0.7763" stop-color="#c8efc0"/><stop offset="0.8216" stop-color="#5cb568"/><stop offset="1.0027" stop-color="#43ac61"/></linearGradient><linearGradient id="g89" gradientUnits="userSpaceOnUse" x1="0" y1="881.3" x2="0" y2="996.1"><stop offset="-0.0026" stop-color="#cbf1c3"/><stop offset="0.7378" stop-color="#c8efc0"/><stop offset="0.7814" stop-color="#43ac61"/><stop offset="0.7988" stop-color="#136143"/><stop offset="0.9469" stop-color="#145c3f"/><stop offset="0.9643" stop-color="#148c56"/><stop offset="0.9991" stop-color="#148c56"/></linearGradient><linearGradient id="g90" gradientUnits="userSpaceOnUse" x1="0" y1="881.3" x2="0" y2="1005.1"><stop offset="-0.0024" stop-color="#cbf1c3"/><stop offset="0.7165" stop-color="#c8efc0"/><stop offset="0.7488" stop-color="#1f9757"/><stop offset="0.7973" stop-color="#148c56"/><stop offset="0.8134" stop-color="#126948"/><stop offset="0.8861" stop-color="#126948"/><stop offset="0.9103" stop-color="#148c56"/><stop offset="0.9992" stop-color="#1f9757"/></linearGradient><linearGradient id="g91" gradientUnits="userSpaceOnUse" x1="0" y1="881.3" x2="0" y2="1011.5"><stop offset="-0.0023" stop-color="#cbf1c3"/><stop offset="0.6889" stop-color="#c8efc0"/><stop offset="0.7273" stop-color="#148c56"/><stop offset="0.8810" stop-color="#0f8855"/><stop offset="0.9040" stop-color="#11704b"/><stop offset="0.9347" stop-color="#10754d"/><stop offset="0.9578" stop-color="#1f9757"/><stop offset="0.9962" stop-color="#2aa259"/></linearGradient><linearGradient id="g92" gradientUnits="userSpaceOnUse" x1="0" y1="881.3" x2="0" y2="1014.7"><stop offset="-0.0022" stop-color="#cbf1c3"/><stop offset="0.7024" stop-color="#c6edbd"/><stop offset="0.7699" stop-color="#43ac61"/><stop offset="0.7999" stop-color="#1f9757"/><stop offset="0.8898" stop-color="#2aa259"/><stop offset="0.9498" stop-color="#82c77f"/><stop offset="1.0022" stop-color="#94cf8b"/></linearGradient><linearGradient id="g93" gradientUnits="userSpaceOnUse" x1="0" y1="881.3" x2="0" y2="1008.9"><stop offset="-0.0024" stop-color="#c8efc0"/><stop offset="0.7578" stop-color="#c6edbd"/><stop offset="0.8284" stop-color="#82c77f"/><stop offset="1.0008" stop-color="#78c277"/></linearGradient><linearGradient id="g94" gradientUnits="userSpaceOnUse" x1="0" y1="881.3" x2="0" y2="1021.7"><stop offset="-0.0021" stop-color="#cbf1c3"/><stop offset="0.7600" stop-color="#c8efc0"/><stop offset="0.8312" stop-color="#52b165"/><stop offset="0.9523" stop-color="#2aa259"/><stop offset="1.0021" stop-color="#7bc37a"/></linearGradient><linearGradient id="g95" gradientUnits="userSpaceOnUse" x1="0" y1="881.3" x2="0" y2="1033.2"><stop offset="-0.0020" stop-color="#cbf1c3"/><stop offset="0.7551" stop-color="#c8efc0"/><stop offset="0.8144" stop-color="#2aa259"/><stop offset="0.9658" stop-color="#269e58"/><stop offset="0.9987" stop-color="#71be72"/></linearGradient><linearGradient id="g96" x1="0" y1="0" x2="1" y2="0"><stop offset="0.000" stop-color="#d7f9d0"/><stop offset="0.062" stop-color="#c6eebe"/><stop offset="0.125" stop-color="#b6e3ac"/><stop offset="0.188" stop-color="#a5d99c"/><stop offset="0.250" stop-color="#94cf8b"/><stop offset="0.312" stop-color="#7ec47c"/><stop offset="0.375" stop-color="#68ba6c"/><stop offset="0.438" stop-color="#49ae62"/><stop offset="0.500" stop-color="#2aa259"/><stop offset="0.562" stop-color="#1c9457"/><stop offset="0.625" stop-color="#0e8755"/><stop offset="0.688" stop-color="#10784e"/><stop offset="0.750" stop-color="#126948"/><stop offset="0.812" stop-color="#15583d"/><stop offset="0.875" stop-color="#184832"/><stop offset="0.938" stop-color="#153623"/><stop offset="1.000" stop-color="#122414"/></linearGradient><linearGradient id="g97" gradientUnits="userSpaceOnUse" x1="0" y1="881.3" x2="0" y2="950.8"><stop offset="-0.0043" stop-color="#d7c877"/><stop offset="0.2691" stop-color="#d7c877"/><stop offset="0.4849" stop-color="#cfb161"/><stop offset="0.7727" stop-color="#b57f43"/><stop offset="1.0029" stop-color="#a97540"/></linearGradient><linearGradient id="g98" gradientUnits="userSpaceOnUse" x1="0" y1="881.3" x2="0" y2="971.9"><stop offset="-0.0033" stop-color="#d9cc7c"/><stop offset="0.4272" stop-color="#dbd181"/><stop offset="0.5375" stop-color="#cfb161"/><stop offset="0.6258" stop-color="#c49a50"/><stop offset="0.6369" stop-color="#403229"/><stop offset="0.6921" stop-color="#403229"/><stop offset="0.7031" stop-color="#b57f43"/><stop offset="0.8576" stop-color="#b57f43"/><stop offset="0.8687" stop-color="#604635"/><stop offset="0.9018" stop-color="#604635"/><stop offset="0.9128" stop-color="#b57f43"/><stop offset="1.0011" stop-color="#b57f43"/></linearGradient><linearGradient id="g99" gradientUnits="userSpaceOnUse" x1="0" y1="881.3" x2="0" y2="985.9"><stop offset="-0.0029" stop-color="#dcd384"/><stop offset="0.4847" stop-color="#dfdb8c"/><stop offset="0.5612" stop-color="#c49a50"/><stop offset="0.7524" stop-color="#bd8d49"/><stop offset="0.8098" stop-color="#9e6b3d"/><stop offset="0.8384" stop-color="#403229"/><stop offset="1.0010" stop-color="#312922"/></linearGradient><linearGradient id="g100" gradientUnits="userSpaceOnUse" x1="0" y1="881.3" x2="0" y2="991.7"><stop offset="-0.0027" stop-color="#e0df91"/><stop offset="0.4864" stop-color="#e0dd8f"/><stop offset="0.6223" stop-color="#d3bc6a"/><stop offset="0.8487" stop-color="#ccab5b"/><stop offset="0.9393" stop-color="#bd8d49"/><stop offset="1.0027" stop-color="#bd8d49"/></linearGradient><linearGradient id="g101" gradientUnits="userSpaceOnUse" x1="0" y1="881.3" x2="0" y2="996.1"><stop offset="-0.0026" stop-color="#e0df91"/><stop offset="0.5984" stop-color="#e0dd8f"/><stop offset="0.7378" stop-color="#cfb161"/><stop offset="0.7901" stop-color="#9e6b3d"/><stop offset="0.9991" stop-color="#99673c"/></linearGradient><linearGradient id="g102" gradientUnits="userSpaceOnUse" x1="0" y1="881.3" x2="0" y2="1005.1"><stop offset="-0.0024" stop-color="#e0df91"/><stop offset="0.5549" stop-color="#e0dd8f"/><stop offset="0.7003" stop-color="#caa658"/><stop offset="0.8780" stop-color="#bd8d49"/><stop offset="0.9992" stop-color="#c49a50"/></linearGradient><linearGradient id="g103" gradientUnits="userSpaceOnUse" x1="0" y1="881.3" x2="0" y2="1011.5"><stop offset="-0.0023" stop-color="#e0df91"/><stop offset="0.5661" stop-color="#e0dd8f"/><stop offset="0.6966" stop-color="#caa658"/><stop offset="0.9117" stop-color="#bd8d49"/><stop offset="0.9962" stop-color="#c49a50"/></linearGradient><linearGradient id="g104" gradientUnits="userSpaceOnUse" x1="0" y1="881.3" x2="0" y2="1014.7"><stop offset="-0.0022" stop-color="#e0df91"/><stop offset="0.5750" stop-color="#e0dd8f"/><stop offset="0.7249" stop-color="#cfb161"/><stop offset="0.9273" stop-color="#bd8d49"/><stop offset="1.0022" stop-color="#c49a50"/></linearGradient><linearGradient id="g105" gradientUnits="userSpaceOnUse" x1="0" y1="881.3" x2="0" y2="1008.9"><stop offset="-0.0024" stop-color="#e0df91"/><stop offset="0.6168" stop-color="#e0dd8f"/><stop offset="0.7892" stop-color="#d3bc6a"/><stop offset="1.0008" stop-color="#cfb161"/></linearGradient><linearGradient id="g106" gradientUnits="userSpaceOnUse" x1="0" y1="881.3" x2="0" y2="1021.7"><stop offset="-0.0021" stop-color="#e0df91"/><stop offset="0.6318" stop-color="#e0dd8f"/><stop offset="0.7742" stop-color="#cfb161"/><stop offset="0.8811" stop-color="#b57f43"/><stop offset="1.0021" stop-color="#b57f43"/></linearGradient><linearGradient id="g107" gradientUnits="userSpaceOnUse" x1="0" y1="881.3" x2="0" y2="1033.2"><stop offset="-0.0020" stop-color="#e0dd8f"/><stop offset="0.6169" stop-color="#dfdb8c"/><stop offset="0.7683" stop-color="#caa658"/><stop offset="0.8604" stop-color="#b57f43"/><stop offset="0.9987" stop-color="#b57f43"/></linearGradient><linearGradient id="g108" x1="0" y1="0" x2="1" y2="0"><stop offset="0.000" stop-color="#e9f6ab"/><stop offset="0.062" stop-color="#e4e89a"/><stop offset="0.125" stop-color="#ded98a"/><stop offset="0.188" stop-color="#d8ca7a"/><stop offset="0.250" stop-color="#d3bc6a"/><stop offset="0.312" stop-color="#ceae5e"/><stop offset="0.375" stop-color="#c8a153"/><stop offset="0.438" stop-color="#be904b"/><stop offset="0.500" stop-color="#b57f43"/><stop offset="0.562" stop-color="#a67240"/><stop offset="0.625" stop-color="#98663c"/><stop offset="0.688" stop-color="#845b3b"/><stop offset="0.750" stop-color="#70503a"/><stop offset="0.812" stop-color="#5c4434"/><stop offset="0.875" stop-color="#48372d"/><stop offset="0.938" stop-color="#352b24"/><stop offset="1.000" stop-color="#221f1b"/></linearGradient><linearGradient id="g109" gradientUnits="userSpaceOnUse" x1="0" y1="1166.3" x2="0" y2="1252.4"><stop offset="0.9954" stop-color="#3c0912"/></linearGradient><linearGradient id="g110" gradientUnits="userSpaceOnUse" x1="0" y1="1166.3" x2="0" y2="1267.7"><stop offset="0.8254" stop-color="#3c0912"/><stop offset="0.8846" stop-color="#680d24"/><stop offset="1.0030" stop-color="#710e28"/></linearGradient><linearGradient id="g111" gradientUnits="userSpaceOnUse" x1="0" y1="1166.3" x2="0" y2="1279.9"><stop offset="0.8336" stop-color="#3c0912"/><stop offset="0.8512" stop-color="#89122c"/><stop offset="1.0009" stop-color="#90132d"/></linearGradient><linearGradient id="g112" gradientUnits="userSpaceOnUse" x1="0" y1="1166.3" x2="0" y2="1286.2"><stop offset="0.8649" stop-color="#3c0912"/><stop offset="0.8816" stop-color="#90132d"/><stop offset="0.9066" stop-color="#be402e"/><stop offset="0.9983" stop-color="#c76044"/></linearGradient><linearGradient id="g113" gradientUnits="userSpaceOnUse" x1="0" y1="1166.3" x2="0" y2="1290.7"><stop offset="0.8336" stop-color="#3c0912"/><stop offset="0.8497" stop-color="#90132d"/><stop offset="0.8738" stop-color="#be402e"/><stop offset="0.8979" stop-color="#cd7458"/><stop offset="0.9220" stop-color="#d89c88"/><stop offset="0.9542" stop-color="#e0b7aa"/><stop offset="1.0024" stop-color="#e4c4bb"/></linearGradient><linearGradient id="g114" gradientUnits="userSpaceOnUse" x1="0" y1="1166.3" x2="0" y2="1301.6"><stop offset="0.7738" stop-color="#3c0912"/><stop offset="0.7886" stop-color="#ae262f"/><stop offset="0.8108" stop-color="#cd7458"/><stop offset="0.8330" stop-color="#e0b7aa"/><stop offset="0.8699" stop-color="#e8d2cb"/><stop offset="1.0030" stop-color="#eddfdc"/></linearGradient><linearGradient id="g115" gradientUnits="userSpaceOnUse" x1="0" y1="1166.3" x2="0" y2="1306.0"><stop offset="0.7566" stop-color="#3c0912"/><stop offset="0.7709" stop-color="#c04632"/><stop offset="0.7924" stop-color="#dcaa99"/><stop offset="0.8282" stop-color="#e6ccc5"/><stop offset="0.8855" stop-color="#ede2df"/><stop offset="1.0000" stop-color="#eee5e2"/></linearGradient><linearGradient id="g116" gradientUnits="userSpaceOnUse" x1="0" y1="1166.3" x2="0" y2="1305.4"><stop offset="0.7527" stop-color="#3c0912"/><stop offset="0.7635" stop-color="#d89c88"/><stop offset="0.7743" stop-color="#c04632"/><stop offset="0.7958" stop-color="#c5563d"/><stop offset="0.8102" stop-color="#d89c88"/><stop offset="0.8390" stop-color="#e0b7aa"/><stop offset="0.8893" stop-color="#e8d2cb"/><stop offset="0.9971" stop-color="#eddfdc"/></linearGradient><linearGradient id="g117" gradientUnits="userSpaceOnUse" x1="0" y1="1166.3" x2="0" y2="1318.2"><stop offset="0.6498" stop-color="#3c0912"/><stop offset="0.6695" stop-color="#ae262f"/><stop offset="0.6827" stop-color="#d18167"/><stop offset="0.7024" stop-color="#deb2a3"/><stop offset="0.8144" stop-color="#e2bfb4"/><stop offset="0.9987" stop-color="#e6ccc5"/></linearGradient><linearGradient id="g118" gradientUnits="userSpaceOnUse" x1="0" y1="1166.3" x2="0" y2="1326.5"><stop offset="0.5599" stop-color="#3c0912"/><stop offset="0.5724" stop-color="#680d24"/><stop offset="0.6099" stop-color="#680d24"/><stop offset="0.6223" stop-color="#be402e"/><stop offset="0.6411" stop-color="#c24c37"/><stop offset="0.6536" stop-color="#dba592"/><stop offset="0.7722" stop-color="#e0b7aa"/><stop offset="0.9969" stop-color="#e4c4bb"/></linearGradient><linearGradient id="g119" x1="0" y1="0" x2="1" y2="0"><stop offset="0.000" stop-color="#f1edec"/><stop offset="0.062" stop-color="#ecdcd8"/><stop offset="0.125" stop-color="#e6cbc3"/><stop offset="0.188" stop-color="#e1baae"/><stop offset="0.250" stop-color="#dcaa99"/><stop offset="0.312" stop-color="#d89984"/><stop offset="0.375" stop-color="#d3886f"/><stop offset="0.438" stop-color="#ce775c"/><stop offset="0.500" stop-color="#c96648"/><stop offset="0.562" stop-color="#c4523a"/><stop offset="0.625" stop-color="#be3e2d"/><stop offset="0.688" stop-color="#b12a2e"/><stop offset="0.750" stop-color="#a41630"/><stop offset="0.812" stop-color="#8c122c"/><stop offset="0.875" stop-color="#730e29"/><stop offset="0.938" stop-color="#580c1e"/><stop offset="1.000" stop-color="#3c0912"/></linearGradient><linearGradient id="g120" gradientUnits="userSpaceOnUse" x1="0" y1="1166.3" x2="0" y2="1252.4"><stop offset="-0.0035" stop-color="#cbf1c3"/><stop offset="0.9954" stop-color="#c8efc0"/></linearGradient><linearGradient id="g121" gradientUnits="userSpaceOnUse" x1="0" y1="1166.3" x2="0" y2="1267.7"><stop offset="-0.0030" stop-color="#cbf1c3"/><stop offset="1.0030" stop-color="#c6edbd"/></linearGradient><linearGradient id="g122" gradientUnits="userSpaceOnUse" x1="0" y1="1166.3" x2="0" y2="1279.9"><stop offset="-0.0026" stop-color="#cbf1c3"/><stop offset="1.0009" stop-color="#c6edbd"/></linearGradient><linearGradient id="g123" gradientUnits="userSpaceOnUse" x1="0" y1="1166.3" x2="0" y2="1286.2"><stop offset="-0.0025" stop-color="#cbf1c3"/><stop offset="0.8899" stop-color="#c8efc0"/><stop offset="0.9149" stop-color="#c3ebba"/><stop offset="0.9983" stop-color="#c3ebba"/></linearGradient><linearGradient id="g124" gradientUnits="userSpaceOnUse" x1="0" y1="1166.3" x2="0" y2="1290.7"><stop offset="-0.0024" stop-color="#cbf1c3"/><stop offset="0.8416" stop-color="#c8efc0"/><stop offset="0.8658" stop-color="#acdda3"/><stop offset="1.0024" stop-color="#c3ebba"/></linearGradient><linearGradient id="g125" gradientUnits="userSpaceOnUse" x1="0" y1="1166.3" x2="0" y2="1301.6"><stop offset="-0.0022" stop-color="#cbf1c3"/><stop offset="0.7738" stop-color="#c8efc0"/><stop offset="0.7960" stop-color="#c1eab8"/><stop offset="1.0030" stop-color="#c6edbd"/></linearGradient><linearGradient id="g126" gradientUnits="userSpaceOnUse" x1="0" y1="1166.3" x2="0" y2="1306.0"><stop offset="-0.0021" stop-color="#cbf1c3"/><stop offset="0.7423" stop-color="#c8efc0"/><stop offset="0.7566" stop-color="#17412c"/><stop offset="0.7781" stop-color="#17412c"/><stop offset="0.7888" stop-color="#94cf8b"/><stop offset="0.8855" stop-color="#a2d798"/><stop offset="1.0000" stop-color="#a7da9d"/></linearGradient><linearGradient id="g127" gradientUnits="userSpaceOnUse" x1="0" y1="1166.3" x2="0" y2="1305.4"><stop offset="-0.0022" stop-color="#cbf1c3"/><stop offset="0.7383" stop-color="#c8efc0"/><stop offset="0.7527" stop-color="#17412c"/><stop offset="0.7743" stop-color="#17412c"/><stop offset="0.7886" stop-color="#2aa259"/><stop offset="0.8174" stop-color="#148c56"/><stop offset="0.8893" stop-color="#1f9757"/><stop offset="0.9180" stop-color="#5cb568"/><stop offset="0.9971" stop-color="#5cb568"/></linearGradient><linearGradient id="g128" gradientUnits="userSpaceOnUse" x1="0" y1="1166.3" x2="0" y2="1318.2"><stop offset="-0.0020" stop-color="#cbf1c3"/><stop offset="0.6629" stop-color="#c8efc0"/><stop offset="0.6761" stop-color="#145c3f"/><stop offset="0.6959" stop-color="#145c3f"/><stop offset="0.7090" stop-color="#66b96b"/><stop offset="0.8144" stop-color="#78c277"/><stop offset="0.9987" stop-color="#94cf8b"/></linearGradient><linearGradient id="g129" gradientUnits="userSpaceOnUse" x1="0" y1="1166.3" x2="0" y2="1326.5"><stop offset="-0.0019" stop-color="#cbf1c3"/><stop offset="0.5849" stop-color="#c6edbd"/><stop offset="0.6223" stop-color="#a2d798"/><stop offset="0.6348" stop-color="#2aa259"/><stop offset="0.6536" stop-color="#2aa259"/><stop offset="0.6660" stop-color="#52b165"/><stop offset="0.8034" stop-color="#66b96b"/><stop offset="0.8346" stop-color="#82c77f"/><stop offset="0.9969" stop-color="#89ca84"/></linearGradient><linearGradient id="g130" x1="0" y1="0" x2="1" y2="0"><stop offset="0.000" stop-color="#d7f9d0"/><stop offset="0.062" stop-color="#c6eebe"/><stop offset="0.125" stop-color="#b6e3ac"/><stop offset="0.188" stop-color="#a5d99c"/><stop offset="0.250" stop-color="#94cf8b"/><stop offset="0.312" stop-color="#7ec47c"/><stop offset="0.375" stop-color="#68ba6c"/><stop offset="0.438" stop-color="#49ae62"/><stop offset="0.500" stop-color="#2aa259"/><stop offset="0.562" stop-color="#1c9457"/><stop offset="0.625" stop-color="#0e8755"/><stop offset="0.688" stop-color="#10784e"/><stop offset="0.750" stop-color="#126948"/><stop offset="0.812" stop-color="#15583d"/><stop offset="0.875" stop-color="#184832"/><stop offset="0.938" stop-color="#153623"/><stop offset="1.000" stop-color="#122414"/></linearGradient><linearGradient id="g131" gradientUnits="userSpaceOnUse" x1="0" y1="1166.3" x2="0" y2="1252.4"><stop offset="-0.0035" stop-color="#d1b866"/><stop offset="0.3914" stop-color="#d4be6d"/><stop offset="0.7398" stop-color="#cfb161"/><stop offset="0.9954" stop-color="#c1954d"/></linearGradient><linearGradient id="g132" gradientUnits="userSpaceOnUse" x1="0" y1="1166.3" x2="0" y2="1267.7"><stop offset="-0.0030" stop-color="#e0dd8f"/><stop offset="0.6479" stop-color="#e0dd8f"/><stop offset="0.7761" stop-color="#c49a50"/><stop offset="1.0030" stop-color="#bd8d49"/></linearGradient><linearGradient id="g133" gradientUnits="userSpaceOnUse" x1="0" y1="1166.3" x2="0" y2="1279.9"><stop offset="-0.0026" stop-color="#e0df91"/><stop offset="0.7632" stop-color="#e0df91"/><stop offset="0.8424" stop-color="#bd8d49"/><stop offset="1.0009" stop-color="#b57f43"/></linearGradient><linearGradient id="g134" gradientUnits="userSpaceOnUse" x1="0" y1="1166.3" x2="0" y2="1286.2"><stop offset="-0.0025" stop-color="#e1e294"/><stop offset="0.8315" stop-color="#e0df91"/><stop offset="0.8816" stop-color="#b57f43"/><stop offset="0.9983" stop-color="#b57f43"/></linearGradient><linearGradient id="g135" gradientUnits="userSpaceOnUse" x1="0" y1="1166.3" x2="0" y2="1290.7"><stop offset="-0.0024" stop-color="#e1e294"/><stop offset="0.8175" stop-color="#e0df91"/><stop offset="0.8497" stop-color="#b57f43"/><stop offset="1.0024" stop-color="#b57f43"/></linearGradient><linearGradient id="g136" gradientUnits="userSpaceOnUse" x1="0" y1="1166.3" x2="0" y2="1301.6"><stop offset="-0.0022" stop-color="#e0df91"/><stop offset="0.7591" stop-color="#e0df91"/><stop offset="0.7960" stop-color="#b57f43"/><stop offset="1.0030" stop-color="#b07b42"/></linearGradient><linearGradient id="g137" gradientUnits="userSpaceOnUse" x1="0" y1="1166.3" x2="0" y2="1306.0"><stop offset="-0.0021" stop-color="#dfdc8d"/><stop offset="0.7351" stop-color="#dfdb8c"/><stop offset="0.7530" stop-color="#604635"/><stop offset="0.7709" stop-color="#604635"/><stop offset="0.7817" stop-color="#b57f43"/><stop offset="1.0000" stop-color="#b57f43"/></linearGradient><linearGradient id="g138" gradientUnits="userSpaceOnUse" x1="0" y1="1166.3" x2="0" y2="1305.4"><stop offset="-0.0022" stop-color="#e1e294"/><stop offset="0.7311" stop-color="#e0df91"/><stop offset="0.7527" stop-color="#604635"/><stop offset="0.7671" stop-color="#604635"/><stop offset="0.7815" stop-color="#b07b42"/><stop offset="0.9971" stop-color="#b07b42"/></linearGradient><linearGradient id="g139" gradientUnits="userSpaceOnUse" x1="0" y1="1166.3" x2="0" y2="1318.2"><stop offset="-0.0020" stop-color="#e0df91"/><stop offset="0.6498" stop-color="#e0df91"/><stop offset="0.6695" stop-color="#80593b"/><stop offset="0.6893" stop-color="#80593b"/><stop offset="0.7024" stop-color="#b57f43"/><stop offset="0.9987" stop-color="#b57f43"/></linearGradient><linearGradient id="g140" gradientUnits="userSpaceOnUse" x1="0" y1="1166.3" x2="0" y2="1326.5"><stop offset="-0.0019" stop-color="#e1e193"/><stop offset="0.5724" stop-color="#e0df91"/><stop offset="0.6099" stop-color="#b57f43"/><stop offset="0.6286" stop-color="#80593b"/><stop offset="0.6473" stop-color="#b07b42"/><stop offset="0.9969" stop-color="#b57f43"/></linearGradient><linearGradient id="g141" x1="0" y1="0" x2="1" y2="0"><stop offset="0.000" stop-color="#e9f6ab"/><stop offset="0.062" stop-color="#e4e89a"/><stop offset="0.125" stop-color="#ded98a"/><stop offset="0.188" stop-color="#d8ca7a"/><stop offset="0.250" stop-color="#d3bc6a"/><stop offset="0.312" stop-color="#ceae5e"/><stop offset="0.375" stop-color="#c8a153"/><stop offset="0.438" stop-color="#be904b"/><stop offset="0.500" stop-color="#b57f43"/><stop offset="0.562" stop-color="#a67240"/><stop offset="0.625" stop-color="#98663c"/><stop offset="0.688" stop-color="#845b3b"/><stop offset="0.750" stop-color="#70503a"/><stop offset="0.812" stop-color="#5c4434"/><stop offset="0.875" stop-color="#48372d"/><stop offset="0.938" stop-color="#352b24"/><stop offset="1.000" stop-color="#221f1b"/></linearGradient><linearGradient id="g142" gradientUnits="userSpaceOnUse" x1="0" y1="1451.3" x2="0" y2="1522.7"><stop offset="-0.0042" stop-color="#3c0912"/></linearGradient><linearGradient id="g143" gradientUnits="userSpaceOnUse" x1="0" y1="1451.3" x2="0" y2="1551.7"><stop offset="-0.0030" stop-color="#3c0912"/></linearGradient><linearGradient id="g144" gradientUnits="userSpaceOnUse" x1="0" y1="1451.3" x2="0" y2="1561.4"><stop offset="-0.0027" stop-color="#3c0912"/></linearGradient><linearGradient id="g145" gradientUnits="userSpaceOnUse" x1="0" y1="1451.3" x2="0" y2="1576.1"><stop offset="-0.0024" stop-color="#3c0912"/></linearGradient><linearGradient id="g146" gradientUnits="userSpaceOnUse" x1="0" y1="1451.3" x2="0" y2="1578.0"><stop offset="-0.0024" stop-color="#3c0912"/></linearGradient><linearGradient id="g147" gradientUnits="userSpaceOnUse" x1="0" y1="1451.3" x2="0" y2="1588.0"><stop offset="-0.0022" stop-color="#3c0912"/><stop offset="0.9232" stop-color="#3c0912"/><stop offset="0.9305" stop-color="#560b1d"/><stop offset="1.0000" stop-color="#560b1d"/></linearGradient><linearGradient id="g148" gradientUnits="userSpaceOnUse" x1="0" y1="1451.3" x2="0" y2="1598.0"><stop offset="-0.0020" stop-color="#3c0912"/></linearGradient><linearGradient id="g149" x1="0" y1="0" x2="1" y2="0"><stop offset="0.000" stop-color="#f1edec"/><stop offset="0.062" stop-color="#ecdcd8"/><stop offset="0.125" stop-color="#e6cbc3"/><stop offset="0.188" stop-color="#e1baae"/><stop offset="0.250" stop-color="#dcaa99"/><stop offset="0.312" stop-color="#d89984"/><stop offset="0.375" stop-color="#d3886f"/><stop offset="0.438" stop-color="#ce775c"/><stop offset="0.500" stop-color="#c96648"/><stop offset="0.562" stop-color="#c4523a"/><stop offset="0.625" stop-color="#be3e2d"/><stop offset="0.688" stop-color="#b12a2e"/><stop offset="0.750" stop-color="#a41630"/><stop offset="0.812" stop-color="#8c122c"/><stop offset="0.875" stop-color="#730e29"/><stop offset="0.938" stop-color="#580c1e"/><stop offset="1.000" stop-color="#3c0912"/></linearGradient><linearGradient id="g150" gradientUnits="userSpaceOnUse" x1="0" y1="1451.3" x2="0" y2="1522.7"><stop offset="-0.0042" stop-color="#c8efc0"/><stop offset="0.9902" stop-color="#c8efc0"/></linearGradient><linearGradient id="g151" gradientUnits="userSpaceOnUse" x1="0" y1="1451.3" x2="0" y2="1551.7"><stop offset="-0.0030" stop-color="#c8efc0"/><stop offset="0.2659" stop-color="#c8efc0"/><stop offset="0.2759" stop-color="#9cd493"/><stop offset="0.2908" stop-color="#9cd493"/><stop offset="0.3008" stop-color="#c8efc0"/><stop offset="0.7839" stop-color="#c6edbd"/><stop offset="0.9133" stop-color="#a2d798"/><stop offset="0.9432" stop-color="#148c56"/><stop offset="1.0000" stop-color="#0f8152"/></linearGradient><linearGradient id="g152" gradientUnits="userSpaceOnUse" x1="0" y1="1451.3" x2="0" y2="1561.4"><stop offset="-0.0027" stop-color="#cbf1c3"/><stop offset="0.3106" stop-color="#c8efc0"/><stop offset="0.3197" stop-color="#9cd493"/><stop offset="0.3333" stop-color="#9cd493"/><stop offset="0.3424" stop-color="#c8efc0"/><stop offset="0.8056" stop-color="#c4ecbb"/><stop offset="0.9237" stop-color="#9cd493"/><stop offset="0.9510" stop-color="#148c56"/><stop offset="1.0000" stop-color="#148c56"/></linearGradient><linearGradient id="g153" gradientUnits="userSpaceOnUse" x1="0" y1="1451.3" x2="0" y2="1576.1"><stop offset="-0.0024" stop-color="#cbf1c3"/><stop offset="0.3221" stop-color="#c8efc0"/><stop offset="0.3301" stop-color="#a2d798"/><stop offset="0.3421" stop-color="#a2d798"/><stop offset="0.3502" stop-color="#c8efc0"/><stop offset="0.5825" stop-color="#c7eebf"/><stop offset="0.6066" stop-color="#c3ebba"/><stop offset="0.8710" stop-color="#c1eab8"/><stop offset="0.9671" stop-color="#9cd493"/><stop offset="0.9832" stop-color="#10754d"/><stop offset="0.9992" stop-color="#10754d"/></linearGradient><linearGradient id="g154" gradientUnits="userSpaceOnUse" x1="0" y1="1451.3" x2="0" y2="1578.0"><stop offset="-0.0024" stop-color="#cbf1c3"/><stop offset="0.6448" stop-color="#c8efc0"/><stop offset="0.6764" stop-color="#c3ebba"/><stop offset="0.8579" stop-color="#c1eab8"/><stop offset="0.9211" stop-color="#89ca84"/><stop offset="0.9526" stop-color="#0f8152"/><stop offset="1.0000" stop-color="#10754d"/></linearGradient><linearGradient id="g155" gradientUnits="userSpaceOnUse" x1="0" y1="1451.3" x2="0" y2="1588.0"><stop offset="-0.0022" stop-color="#cbf1c3"/><stop offset="0.2831" stop-color="#c8efc0"/><stop offset="0.7220" stop-color="#c6edbd"/><stop offset="0.8537" stop-color="#a2d798"/><stop offset="0.8830" stop-color="#1f9757"/><stop offset="0.9122" stop-color="#0f8855"/><stop offset="1.0000" stop-color="#10754d"/></linearGradient><linearGradient id="g156" gradientUnits="userSpaceOnUse" x1="0" y1="1451.3" x2="0" y2="1598.0"><stop offset="-0.0020" stop-color="#cbf1c3"/><stop offset="1.0000" stop-color="#c6edbd"/></linearGradient><linearGradient id="g157" x1="0" y1="0" x2="1" y2="0"><stop offset="0.000" stop-color="#d7f9d0"/><stop offset="0.062" stop-color="#c6eebe"/><stop offset="0.125" stop-color="#b6e3ac"/><stop offset="0.188" stop-color="#a5d99c"/><stop offset="0.250" stop-color="#94cf8b"/><stop offset="0.312" stop-color="#7ec47c"/><stop offset="0.375" stop-color="#68ba6c"/><stop offset="0.438" stop-color="#49ae62"/><stop offset="0.500" stop-color="#2aa259"/><stop offset="0.562" stop-color="#1c9457"/><stop offset="0.625" stop-color="#0e8755"/><stop offset="0.688" stop-color="#10784e"/><stop offset="0.750" stop-color="#126948"/><stop offset="0.812" stop-color="#15583d"/><stop offset="0.875" stop-color="#184832"/><stop offset="0.938" stop-color="#153623"/><stop offset="1.000" stop-color="#122414"/></linearGradient><linearGradient id="g158" gradientUnits="userSpaceOnUse" x1="0" y1="1451.3" x2="0" y2="1522.7"><stop offset="-0.0042" stop-color="#e0df91"/><stop offset="0.1359" stop-color="#e0dd8f"/><stop offset="0.1499" stop-color="#b57f43"/><stop offset="0.1779" stop-color="#b57f43"/><stop offset="0.1919" stop-color="#dfdb8c"/><stop offset="0.6821" stop-color="#dcd384"/><stop offset="0.9902" stop-color="#d6c372"/></linearGradient><linearGradient id="g159" gradientUnits="userSpaceOnUse" x1="0" y1="1451.3" x2="0" y2="1551.7"><stop offset="-0.0030" stop-color="#e0df91"/><stop offset="0.4851" stop-color="#dfdc8d"/><stop offset="0.7839" stop-color="#cfb161"/><stop offset="0.9333" stop-color="#c1954d"/><stop offset="0.9681" stop-color="#70503a"/><stop offset="1.0000" stop-color="#70503a"/></linearGradient><linearGradient id="g160" gradientUnits="userSpaceOnUse" x1="0" y1="1451.3" x2="0" y2="1561.4"><stop offset="-0.0027" stop-color="#dfdc8d"/><stop offset="0.5332" stop-color="#dfdb8c"/><stop offset="0.8056" stop-color="#cfb161"/><stop offset="0.9419" stop-color="#c1954d"/><stop offset="0.9691" stop-color="#604635"/><stop offset="1.0000" stop-color="#503c30"/></linearGradient><linearGradient id="g161" gradientUnits="userSpaceOnUse" x1="0" y1="1451.3" x2="0" y2="1576.1"><stop offset="-0.0024" stop-color="#e1e294"/><stop offset="0.3301" stop-color="#e0df91"/><stop offset="0.3341" stop-color="#403229"/><stop offset="0.3438" stop-color="#403229"/><stop offset="0.3478" stop-color="#e0df91"/><stop offset="0.7107" stop-color="#dbd181"/><stop offset="0.9351" stop-color="#cfb161"/><stop offset="0.9671" stop-color="#b57f43"/><stop offset="0.9992" stop-color="#a97540"/></linearGradient><linearGradient id="g162" gradientUnits="userSpaceOnUse" x1="0" y1="1451.3" x2="0" y2="1578.0"><stop offset="-0.0024" stop-color="#e0dd8f"/><stop offset="0.0016" stop-color="#b57f43"/><stop offset="0.0371" stop-color="#b57f43"/><stop offset="0.0450" stop-color="#e0dd8f"/><stop offset="0.5422" stop-color="#dbd181"/><stop offset="0.7790" stop-color="#cfb161"/><stop offset="0.9369" stop-color="#bd8d49"/><stop offset="0.9684" stop-color="#503c30"/><stop offset="1.0000" stop-color="#503c30"/></linearGradient><linearGradient id="g163" gradientUnits="userSpaceOnUse" x1="0" y1="1451.3" x2="0" y2="1588.0"><stop offset="-0.0022" stop-color="#e0df91"/><stop offset="0.5757" stop-color="#dfdb8c"/><stop offset="0.7952" stop-color="#caa658"/><stop offset="0.8976" stop-color="#b57f43"/><stop offset="0.9195" stop-color="#2b251f"/><stop offset="1.0000" stop-color="#2b251f"/></linearGradient><linearGradient id="g164" gradientUnits="userSpaceOnUse" x1="0" y1="1451.3" x2="0" y2="1598.0"><stop offset="-0.0020" stop-color="#dfdb8c"/><stop offset="0.3320" stop-color="#dbd181"/><stop offset="0.7410" stop-color="#d6c372"/><stop offset="0.9455" stop-color="#caa658"/><stop offset="1.0000" stop-color="#c49a50"/></linearGradient><linearGradient id="g165" x1="0" y1="0" x2="1" y2="0"><stop offset="0.000" stop-color="#e9f6ab"/><stop offset="0.062" stop-color="#e4e89a"/><stop offset="0.125" stop-color="#ded98a"/><stop offset="0.188" stop-color="#d8ca7a"/><stop offset="0.250" stop-color="#d3bc6a"/><stop offset="0.312" stop-color="#ceae5e"/><stop offset="0.375" stop-color="#c8a153"/><stop offset="0.438" stop-color="#be904b"/><stop offset="0.500" stop-color="#b57f43"/><stop offset="0.562" stop-color="#a67240"/><stop offset="0.625" stop-color="#98663c"/><stop offset="0.688" stop-color="#845b3b"/><stop offset="0.750" stop-color="#70503a"/><stop offset="0.812" stop-color="#5c4434"/><stop offset="0.875" stop-color="#48372d"/><stop offset="0.938" stop-color="#352b24"/><stop offset="1.000" stop-color="#221f1b"/></linearGradient></defs><rect width="100%" height="100%" fill="#fff"/><path d="M79.5 130.9 H1060.2" stroke="#1a1a1a" stroke-width="1" stroke-dasharray="11 6.56" stroke-dashoffset="2.6" fill="none"/>
<path d="M221.0 28.3 V233.6" stroke="#e23a46" stroke-width="1.5" stroke-dasharray="11 6.55" stroke-dashoffset="15.1" fill="none"/>
<text x="224.7" y="33.2" font-size="22.50" text-anchor="start" fill="#ee0a12" stroke="#ee0a12" stroke-width="0.3" textLength="97.5" lengthAdjust="spacingAndGlyphs" transform="rotate(90 224.7 33.2)">survey #1</text>
<path d="M316.0 28.3 V233.6" stroke="#e23a46" stroke-width="1.5" stroke-dasharray="11 6.55" stroke-dashoffset="15.1" fill="none"/>
<text x="319.7" y="33.2" font-size="22.50" text-anchor="start" fill="#ee0a12" stroke="#ee0a12" stroke-width="0.3" textLength="97.5" lengthAdjust="spacingAndGlyphs" transform="rotate(90 319.7 33.2)">survey #2</text>
<path d="M538.0 28.3 V233.6" stroke="#e23a46" stroke-width="1.5" stroke-dasharray="11 6.55" stroke-dashoffset="15.1" fill="none"/>
<text x="541.7" y="33.2" font-size="22.50" text-anchor="start" fill="#ee0a12" stroke="#ee0a12" stroke-width="0.3" textLength="97.5" lengthAdjust="spacingAndGlyphs" transform="rotate(90 541.7 33.2)">survey #3</text>
<path d="M727.5 28.3 V233.6" stroke="#e23a46" stroke-width="1.5" stroke-dasharray="11 6.55" stroke-dashoffset="15.1" fill="none"/>
<text x="731.2" y="33.2" font-size="22.50" text-anchor="start" fill="#ee0a12" stroke="#ee0a12" stroke-width="0.3" textLength="97.5" lengthAdjust="spacingAndGlyphs" transform="rotate(90 731.2 33.2)">survey #4</text>
<path d="M981.0 28.3 V233.6" stroke="#e23a46" stroke-width="1.5" stroke-dasharray="11 6.55" stroke-dashoffset="15.1" fill="none"/>
<text x="984.7" y="33.2" font-size="22.50" text-anchor="start" fill="#ee0a12" stroke="#ee0a12" stroke-width="0.3" textLength="97.5" lengthAdjust="spacingAndGlyphs" transform="rotate(90 984.7 33.2)">survey #5</text>
<path d="M79.0 106.5 L80.5 118.4 L82.3 113.8 L83.8 112.9 L85.6 95.5 L87.4 94.6 L88.7 99.2 L90.5 97.4 L92.3 110.1 L93.2 124.7 L95.1 129.3 L96.5 134.8 L97.8 132.0 L99.6 148.5 L102.4 144.8 L103.8 139.3 L105.1 144.8 L106.9 135.7 L107.8 139.3 L109.3 119.3 L110.6 117.4 L112.0 124.7 L113.3 133.9 L114.2 134.8 L115.5 143.0 L117.0 126.6 L118.4 121.1 L119.7 122.9 L121.5 120.2 L123.4 115.6 L125.7 115.6 L127.0 122.0 L128.8 122.9 L130.7 128.4 L133.0 134.8 L134.9 129.3 L136.1 138.4 L138.0 140.3 L139.2 146.6 L141.1 142.1 L143.4 139.3 L145.8 137.5 L147.6 145.7 L149.8 143.0 L152.2 129.3 L154.4 135.7 L156.2 146.6 L158.0 159.4 L159.9 163.1 L161.7 153.9 L164.4 155.8 L166.8 164.0 L169.0 155.8 L171.4 152.1 L174.5 160.3 L176.3 143.0 L177.6 154.9 L179.9 143.0 L182.7 127.5 L184.5 130.2 L186.7 124.7 L188.1 126.6 L189.6 146.6 L190.9 149.4 L192.2 139.3 L193.6 110.1 L195.1 100.1 L196.9 107.4 L199.1 98.3 L200.9 97.4 L202.7 91.0 L204.6 93.7 L206.4 102.8 L209.1 124.7 L210.4 112.9 L212.8 122.9 L214.6 117.4 L216.4 119.3 L218.2 122.0 L220.1 114.7 L221.9 117.4 L223.7 114.7 L225.5 122.9 L227.4 133.9 L230.1 146.6 L232.8 151.2 L235.6 153.0 L238.0 160.3 L239.2 164.9 L241.4 153.0 L243.8 154.9 L246.5 153.0 L248.4 142.1 L249.8 140.3 L251.6 147.6 L254.7 145.7 L257.5 143.0 L260.8 140.3 L263.9 143.9 L266.6 145.7 L270.0 148.5 L272.7 147.6 L275.5 138.4 L278.2 143.0 L280.9 144.8 L283.7 146.6 L287.3 149.4 L289.2 145.7 L291.9 151.2 L293.7 154.9 L295.5 150.3 L298.3 159.4 L300.1 155.8 L302.5 138.4 L303.8 150.3 L305.6 156.7 L307.4 153.9 L310.1 146.6 L312.9 138.4 L314.7 143.0 L316.5 139.3 L318.4 132.0 L321.1 106.5 L323.5 101.0 L325.7 108.3 L328.0 117.4 L330.2 126.6 L333.0 139.3 L336.1 151.2 L338.4 148.5 L341.2 150.3 L343.9 148.5 L346.6 142.1 L348.5 143.0 L351.2 137.5 L353.9 142.1 L356.7 133.0 L359.1 141.2 L359.8 130.2 L362.2 126.6 L364.0 114.7 L365.3 122.9 L367.6 113.8 L370.0 99.2 L371.8 108.3 L374.4 120.2 L376.8 122.0 L378.6 113.8 L380.4 110.1 L382.2 112.9 L384.1 124.7 L385.9 142.1 L387.7 143.0 L389.5 142.1 L391.4 158.5 L393.2 155.8 L395.0 144.8 L396.8 157.6 L398.6 159.4 L401.0 155.8 L403.2 146.6 L404.7 134.8 L405.9 142.1 L408.3 140.3 L410.1 138.4 L412.3 142.1 L414.2 132.0 L415.6 126.6 L417.4 131.1 L420.0 124.7 L421.8 136.6 L424.2 144.8 L426.6 149.4 L428.8 153.9 L430.9 160.3 L433.3 156.7 L436.1 155.8 L438.8 157.6 L441.2 153.0 L443.0 157.6 L445.2 154.9 L447.9 152.1 L450.7 155.8 L453.4 157.6 L456.1 156.7 L458.9 153.9 L461.6 150.3 L464.3 148.5 L465.0 147.6 L467.2 144.0 L469.6 151.3 L471.9 137.6 L474.5 136.7 L476.9 143.1 L479.2 144.9 L481.1 137.6 L482.3 144.9 L484.2 141.2 L486.9 142.2 L489.6 149.5 L492.0 155.8 L494.2 154.9 L496.4 149.5 L498.8 144.9 L500.6 154.0 L502.4 159.5 L504.8 144.9 L507.3 140.3 L510.3 135.4 L512.4 139.4 L513.9 147.6 L516.1 147.6 L518.8 145.8 L520.7 147.6 L523.0 154.0 L525.2 146.7 L527.0 145.8 L528.9 133.9 L530.3 143.1 L531.6 134.9 L534.0 144.0 L535.8 144.9 L537.1 140.3 L538.9 146.7 L540.7 135.8 L543.1 135.8 L544.4 134.9 L546.2 146.7 L548.0 155.8 L550.8 155.8 L553.5 151.3 L555.3 154.0 L557.5 158.6 L559.9 144.9 L562.6 123.0 L565.0 94.7 L566.8 93.8 L568.1 98.4 L569.9 92.0 L571.8 92.0 L573.0 97.4 L575.4 98.4 L578.1 100.2 L580.0 110.2 L581.4 114.8 L583.2 110.2 L585.4 111.1 L588.2 114.8 L590.5 118.4 L592.4 113.0 L594.6 113.0 L596.4 113.0 L598.6 118.4 L600.9 118.4 L602.8 122.1 L604.6 120.3 L606.4 125.7 L608.2 131.2 L610.1 138.5 L612.4 138.5 L614.6 136.7 L616.8 135.8 L619.2 139.4 L621.6 145.8 L623.8 153.1 L625.6 149.5 L627.4 152.2 L630.1 146.7 L632.0 137.6 L633.8 128.5 L635.1 144.9 L636.5 149.5 L638.4 149.5 L640.5 154.9 L642.9 160.4 L644.7 163.1 L646.6 159.5 L648.4 161.3 L651.1 159.5 L653.9 157.7 L656.6 155.8 L659.3 151.3 L660.0 151.3 L661.8 139.4 L664.0 123.0 L666.4 106.6 L668.2 103.8 L670.0 98.4 L671.9 109.3 L674.2 109.3 L676.1 101.1 L677.3 103.8 L678.6 82.8 L680.1 72.8 L682.3 72.8 L683.7 84.7 L685.5 89.2 L687.4 92.0 L689.2 94.7 L691.0 91.1 L692.5 93.8 L694.7 93.8 L697.4 97.4 L699.2 109.3 L701.6 110.2 L703.8 121.2 L705.6 131.2 L707.8 133.9 L710.2 143.1 L712.0 155.8 L713.8 165.0 L716.6 166.8 L719.3 165.9 L722.0 165.0 L724.8 164.1 L727.2 161.3 L729.3 166.8 L732.1 168.6 L734.8 168.6 L737.6 172.3 L739.4 175.0 L741.2 178.6 L743.0 173.2 L745.8 171.4 L748.5 164.1 L750.3 157.7 L752.7 151.3 L754.9 156.8 L757.6 160.4 L759.5 163.1 L761.8 154.0 L764.0 141.2 L765.8 138.5 L767.7 139.4 L769.5 132.1 L771.7 135.8 L774.1 146.7 L776.4 149.5 L777.7 110.2 L779.5 99.3 L780.8 95.6 L782.6 100.2 L785.0 91.1 L787.4 81.9 L789.9 77.4 L792.3 74.6 L795.0 74.6 L797.2 79.2 L799.6 81.9 L802.0 89.2 L804.2 92.9 L806.0 102.0 L807.8 103.8 L809.3 101.1 L810.5 68.2 L812.4 66.4 L814.7 68.2 L816.9 70.1 L819.7 72.8 L821.5 81.9 L823.3 81.9 L825.1 87.4 L827.0 94.7 L829.3 98.4 L831.5 110.2 L833.7 122.1 L836.1 131.2 L837.9 128.5 L839.7 123.0 L842.1 120.3 L843.9 90.1 L845.2 79.2 L847.0 83.8 L849.4 84.7 L851.6 83.8 L853.4 87.4 L855.0 91.1 L857.2 88.3 L859.6 92.9 L861.9 91.1 L864.1 102.0 L865.9 107.5 L868.1 105.7 L870.5 102.9 L873.2 106.6 L876.0 110.2 L878.4 106.6 L880.5 97.4 L883.3 94.7 L885.1 95.6 L886.9 92.9 L888.8 101.1 L891.1 95.6 L893.0 92.9 L895.1 98.4 L897.9 102.9 L899.7 106.6 L901.5 115.7 L903.4 108.4 L906.1 104.7 L908.3 96.5 L910.7 90.1 L913.0 84.7 L915.6 81.9 L917.4 89.2 L919.8 79.2 L922.2 77.4 L924.0 71.9 L925.8 74.6 L927.6 83.8 L929.5 91.1 L930.7 100.2 L932.6 95.6 L934.4 88.3 L936.8 89.2 L938.6 87.4 L940.4 93.8 L941.7 99.3 L943.5 99.3 L945.3 103.8 L946.6 113.9 L948.1 123.0 L949.5 130.3 L950.8 136.7 L952.6 133.0 L954.5 132.1 L956.3 137.6 L958.1 140.3 L959.4 115.7 L961.2 114.8 L963.0 115.7 L964.9 113.9 L966.3 123.0 L968.1 130.3 L970.0 135.8 L972.7 133.9 L974.5 130.3 L975.8 134.9 L977.6 127.6 L979.5 132.1 L981.3 133.9 L983.1 137.6 L984.9 133.9 L986.8 134.9 L988.6 141.2 L990.0 149.5 L992.8 148.5 L995.1 145.8 L997.3 154.9 L1000.1 150.4 L1001.9 149.5 L1003.7 141.2 L1005.0 144.9 L1006.5 138.5 L1007.9 143.1 L1009.7 137.6 L1012.8 134.9 L1015.6 123.0 L1018.3 113.0 L1021.1 106.6 L1022.5 102.0 L1024.3 113.9 L1026.5 130.3 L1028.7 133.9 L1030.5 134.9 L1032.4 144.9 L1034.2 146.7 L1036.0 155.8 L1037.8 135.8 L1039.7 139.4 L1041.5 143.1 L1043.0 146.7 L1044.8 141.2 L1046.6 142.2 L1048.4 137.6 L1050.3 138.5 L1052.1 144.0 L1055.0 148.5 L1059.9 154.9" stroke="#111" stroke-width="1.05" fill="none" stroke-linejoin="round"/>
<rect x="79.5" y="28.3" width="980.7" height="205.3" fill="none" stroke="#4a4a4a" stroke-width="1.2"/>
<path d="M79.5 79.6 h9 M1060.2 79.6 h-9" stroke="#4a4a4a" stroke-width="1.1"/>
<path d="M79.5 182.3 h9 M1060.2 182.3 h-9" stroke="#4a4a4a" stroke-width="1.1"/>
<path d="M173.8 233.6 v-9 M173.8 28.3 v9" stroke="#4a4a4a" stroke-width="1.1"/>
<text x="173.8" y="265.0" font-size="22.00" text-anchor="middle" fill="#262626" stroke="#262626" stroke-width="0.3" textLength="56.0" lengthAdjust="spacingAndGlyphs">08/30</text>
<path d="M395.4 233.6 v-9 M395.4 28.3 v9" stroke="#4a4a4a" stroke-width="1.1"/>
<text x="395.4" y="265.0" font-size="22.00" text-anchor="middle" fill="#262626" stroke="#262626" stroke-width="0.3" textLength="56.0" lengthAdjust="spacingAndGlyphs">09/06</text>
<path d="M617.0 233.6 v-9 M617.0 28.3 v9" stroke="#4a4a4a" stroke-width="1.1"/>
<text x="617.0" y="265.0" font-size="22.00" text-anchor="middle" fill="#262626" stroke="#262626" stroke-width="0.3" textLength="56.0" lengthAdjust="spacingAndGlyphs">09/13</text>
<path d="M838.6 233.6 v-9 M838.6 28.3 v9" stroke="#4a4a4a" stroke-width="1.1"/>
<text x="838.6" y="265.0" font-size="22.00" text-anchor="middle" fill="#262626" stroke="#262626" stroke-width="0.3" textLength="56.0" lengthAdjust="spacingAndGlyphs">09/20</text>
<text x="1060.2" y="265.0" font-size="22.00" text-anchor="middle" fill="#262626" stroke="#262626" stroke-width="0.3" textLength="56.0" lengthAdjust="spacingAndGlyphs">09/27</text>
<text x="69.2" y="36.5" font-size="22.40" text-anchor="end" fill="#262626" stroke="#262626" stroke-width="0.3" textLength="25.4" lengthAdjust="spacingAndGlyphs">20</text>
<text x="69.2" y="87.8" font-size="22.40" text-anchor="end" fill="#262626" stroke="#262626" stroke-width="0.3" textLength="25.4" lengthAdjust="spacingAndGlyphs">10</text>
<text x="69.2" y="139.1" font-size="22.40" text-anchor="end" fill="#262626" stroke="#262626" stroke-width="0.3">0</text>
<text x="69.2" y="190.5" font-size="22.40" text-anchor="end" fill="#262626" stroke="#262626" stroke-width="0.3" textLength="33.8" lengthAdjust="spacingAndGlyphs">-10</text>
<text x="69.2" y="241.8" font-size="22.40" text-anchor="end" fill="#262626" stroke="#262626" stroke-width="0.3" textLength="33.8" lengthAdjust="spacingAndGlyphs">-20</text>
<text x="23.8" y="130.3" font-size="26.00" text-anchor="middle" fill="#262626" stroke="#262626" stroke-width="0.3" transform="rotate(-90 23.8 130.3)">m/s</text>
<text x="71.5" y="24.0" font-size="22.00" text-anchor="start" fill="#000" stroke="#000" stroke-width="0.3" textLength="301.0" lengthAdjust="spacingAndGlyphs">(a) North-South Wind Velocity</text>
<text x="86.0" y="57.0" font-size="22.00" text-anchor="start" fill="#000" stroke="#000" stroke-width="0.3" textLength="129.0" lengthAdjust="spacingAndGlyphs">Downwelling</text>
<text x="86.0" y="221.0" font-size="22.00" text-anchor="start" fill="#000" stroke="#000" stroke-width="0.3" textLength="100.0" lengthAdjust="spacingAndGlyphs">Upwelling</text>
<rect x="81.10" y="313.20" width="22.30" height="86.00" fill="url(#g1)" shape-rendering="crispEdges"/>
<rect x="103.40" y="313.20" width="21.40" height="97.50" fill="url(#g2)" shape-rendering="crispEdges"/>
<rect x="124.80" y="313.20" width="22.40" height="108.80" fill="url(#g3)" shape-rendering="crispEdges"/>
<rect x="147.20" y="313.20" width="22.10" height="113.80" fill="url(#g4)" shape-rendering="crispEdges"/>
<rect x="169.30" y="313.20" width="22.60" height="122.80" fill="url(#g5)" shape-rendering="crispEdges"/>
<rect x="191.90" y="313.20" width="21.10" height="129.40" fill="url(#g6)" shape-rendering="crispEdges"/>
<rect x="213.00" y="313.20" width="21.90" height="131.30" fill="url(#g7)" shape-rendering="crispEdges"/>
<rect x="234.90" y="313.20" width="20.40" height="131.30" fill="url(#g8)" shape-rendering="crispEdges"/>
<rect x="255.30" y="313.20" width="22.40" height="128.80" fill="url(#g9)" shape-rendering="crispEdges"/>
<rect x="277.70" y="313.20" width="21.30" height="137.00" fill="url(#g10)" shape-rendering="crispEdges"/>
<rect x="299.00" y="313.20" width="20.80" height="144.70" fill="url(#g11)" shape-rendering="crispEdges"/>
<rect x="319.80" y="313.20" width="23.00" height="147.90" fill="url(#g12)" shape-rendering="crispEdges"/>
<path d="M339.5 313.0 L338.9 324.0 L336.0 329.0 L332.8 332.4 L325.0 337.0 L317.6 342.5 L309.0 345.9 L297.0 350.0 L290.0 354.0 L285.5 356.0 L281.0 363.0 L278.7 369.5 L272.0 374.0 L266.9 378.0 L262.0 383.0 L258.4 388.0 L255.7 394.9 L236.5 393.2 L214.2 392.8 L191.9 393.8 L169.5 396.3 L146.5 392.8 L124.8 394.7 L122.3 389.6 L103.4 387.9" stroke="#f5e9e6" stroke-width="1.1" fill="none" stroke-linejoin="round"/>
<path d="M103.4 389.6 L113.3 390.9 L118.4 392.8 L121.0 396.6 L124.8 399.2 L146.5 397.2 L169.5 402.3 L191.9 399.2 L214.2 399.8 L234.9 402.3 L248.3 405.5 L255.3 410.0 L263.6 405.5 L277.7 402.7 L299.4 406.2 L319.8 408.1 L342.8 410.0" stroke="#f5e9e6" stroke-width="1.1" fill="none" stroke-linejoin="round"/>
<path d="M103.4 391.5 L108.2 392.8 L112.0 396.6 L118.4 399.2 L124.8 400.4 L146.5 399.2 L169.5 405.5 L191.9 403.6 L214.2 404.9 L234.9 407.5 L255.3 412.6 L266.2 407.5 L277.7 404.9 L299.4 408.7 L319.8 410.7 L342.8 412.6" stroke="#f5e9e6" stroke-width="1.1" fill="none" stroke-linejoin="round"/>
<path d="M103.4 393.4 L106.9 396.6 L109.5 398.9" stroke="#f5e9e6" stroke-width="1.1" fill="none" stroke-linejoin="round"/>
<path d="M124.8 403.0 L146.5 401.7 L169.5 407.5 L191.9 409.4 L214.2 411.3 L234.9 411.9 L255.3 414.5 L267.5 409.4 L277.7 406.8 L299.4 410.7 L319.8 412.6 L342.8 415.1" stroke="#f5e9e6" stroke-width="1.1" fill="none" stroke-linejoin="round"/>
<path d="M124.8 405.5 L146.5 404.9 L169.5 410.7 L191.9 413.8 L214.2 418.3 L234.9 419.6 L255.3 421.5 L266.2 413.2 L277.7 411.3 L299.4 413.5 L319.8 414.5 L342.8 417.7" stroke="#f5e9e6" stroke-width="1.1" fill="none" stroke-linejoin="round"/>
<path d="M124.8 410.0 L146.5 406.2 L169.5 411.9 L191.9 416.4 L214.2 420.9 L225.3 420.9 L234.9 424.1 L255.3 424.1 L266.2 418.3 L273.9 414.5 L299.4 418.3 L319.8 416.4 L330.1 418.3 L342.8 420.2" stroke="#f5e9e6" stroke-width="1.1" fill="none" stroke-linejoin="round"/>
<path d="M234.9 426.6 L255.3 427.9 L267.5 424.7 L273.9 417.0" stroke="#f5e9e6" stroke-width="1.1" fill="none" stroke-linejoin="round"/>
<path d="M299.4 420.9 L319.8 422.8 L342.8 421.5" stroke="#f5e9e6" stroke-width="1.1" fill="none" stroke-linejoin="round"/>
<path d="M220.2 442.6 L222.8 437.5 L229.2 434.3 L241.9 433.6 L254.7 434.3 L261.1 436.2 L264.9 440.7" stroke="#f5e9e6" stroke-width="1.1" fill="none" stroke-linejoin="round"/>
<path d="M282.2 441.3 L284.1 436.2 L291.7 432.4 L299.4 429.2 L309.6 424.7 L319.8 422.8" stroke="#f5e9e6" stroke-width="1.1" fill="none" stroke-linejoin="round"/>
<path d="M318.6 451.5 L320.5 443.9 L324.9 438.7 L332.6 436.2 L342.8 435.2" stroke="#f5e9e6" stroke-width="1.1" fill="none" stroke-linejoin="round"/>
<path d="M80.6 348.0 L81.5 352.0 L82.0 361.0" stroke="#f5e9e6" stroke-width="1.1" fill="none" stroke-linejoin="round"/>
<text x="298.0" y="357.5" font-size="23.00" text-anchor="middle" fill="#ffffff" stroke="#ffffff" stroke-width="0.3" transform="rotate(-22 298.0 357.5)">20</text>
<text x="287.0" y="420.0" font-size="23.00" text-anchor="middle" fill="#ffffff" stroke="#ffffff" stroke-width="0.3" transform="rotate(0 287.0 420.0)">16</text>
<path d="M80.0 369.5 L103.0 411.0 L125.0 423.6 L148.6 433.7 L168.0 438.0 L190.9 447.9 L212.8 454.0 L233.0 456.0 L255.0 456.0 L277.7 452.3 L297.3 461.8 L321.0 470.9 L343.0 472.6" stroke="#000" stroke-width="4.4" fill="none" stroke-linejoin="round"/>
<rect x="78.8" y="313.2" width="270.4" height="204.8" fill="none" stroke="#4a4a4a" stroke-width="1.2"/>
<text x="69.1" y="321.2" font-size="22.30" text-anchor="end" fill="#262626" stroke="#262626" stroke-width="0.3">0</text>
<path d="M78.8 371.7 h3 M349.2 371.7 h-3" stroke="#4a4a4a" stroke-width="1.1"/>
<text x="69.1" y="379.7" font-size="22.30" text-anchor="end" fill="#262626" stroke="#262626" stroke-width="0.3">-10</text>
<path d="M78.8 430.2 h3 M349.2 430.2 h-3" stroke="#4a4a4a" stroke-width="1.1"/>
<text x="69.1" y="438.2" font-size="22.30" text-anchor="end" fill="#262626" stroke="#262626" stroke-width="0.3">-20</text>
<path d="M78.8 488.7 h3 M349.2 488.7 h-3" stroke="#4a4a4a" stroke-width="1.1"/>
<text x="69.1" y="496.7" font-size="22.30" text-anchor="end" fill="#262626" stroke="#262626" stroke-width="0.3">-30</text>
<path d="M91.5 518.0 v-3" stroke="#4a4a4a" stroke-width="1.1"/>
<path d="M220.4 518.0 v-3" stroke="#4a4a4a" stroke-width="1.1"/>
<text x="25.4" y="416.1" font-size="25.00" text-anchor="middle" fill="#262626" stroke="#262626" stroke-width="0.3" textLength="107.5" lengthAdjust="spacingAndGlyphs" transform="rotate(-90 25.4 416.1)">Depth [m]</text>
<text x="71.5" y="309.6" font-size="22.00" text-anchor="start" fill="#000" stroke="#000" stroke-width="0.3" textLength="228.0" lengthAdjust="spacingAndGlyphs">(b) DO -- Aug-31-2020</text>
<rect x="89.5" y="500.2" width="100.5" height="8.8" fill="url(#g13)" stroke="#555" stroke-width="1"/>
<path d="M103.9 500.2 v1.6" stroke="#333" stroke-width="0.8"/>
<text x="103.9" y="487.3" font-size="20.80" text-anchor="middle" fill="#262626" stroke="#262626" stroke-width="0.3">2</text>
<path d="M132.6 500.2 v1.6" stroke="#333" stroke-width="0.8"/>
<text x="132.6" y="487.3" font-size="20.80" text-anchor="middle" fill="#262626" stroke="#262626" stroke-width="0.3">4</text>
<path d="M161.3 500.2 v1.6" stroke="#333" stroke-width="0.8"/>
<text x="161.3" y="487.3" font-size="20.80" text-anchor="middle" fill="#262626" stroke="#262626" stroke-width="0.3">6</text>
<path d="M190.0 500.2 v1.6" stroke="#333" stroke-width="0.8"/>
<text x="190.0" y="487.3" font-size="20.80" text-anchor="middle" fill="#262626" stroke="#262626" stroke-width="0.3">8</text>
<text x="115.5" y="461.1" font-size="21.5" fill="#262626">mg/L</text>
<rect x="436.85" y="313.20" width="22.30" height="86.00" fill="url(#g14)" shape-rendering="crispEdges"/>
<rect x="459.15" y="313.20" width="21.40" height="97.50" fill="url(#g15)" shape-rendering="crispEdges"/>
<rect x="480.55" y="313.20" width="22.40" height="108.80" fill="url(#g16)" shape-rendering="crispEdges"/>
<rect x="502.95" y="313.20" width="22.10" height="113.80" fill="url(#g17)" shape-rendering="crispEdges"/>
<rect x="525.05" y="313.20" width="22.60" height="122.80" fill="url(#g18)" shape-rendering="crispEdges"/>
<rect x="547.65" y="313.20" width="21.10" height="129.40" fill="url(#g19)" shape-rendering="crispEdges"/>
<rect x="568.75" y="313.20" width="21.90" height="131.30" fill="url(#g20)" shape-rendering="crispEdges"/>
<rect x="590.65" y="313.20" width="20.40" height="131.30" fill="url(#g21)" shape-rendering="crispEdges"/>
<rect x="611.05" y="313.20" width="22.40" height="128.80" fill="url(#g22)" shape-rendering="crispEdges"/>
<rect x="633.45" y="313.20" width="21.30" height="137.00" fill="url(#g23)" shape-rendering="crispEdges"/>
<rect x="654.75" y="313.20" width="20.80" height="144.70" fill="url(#g24)" shape-rendering="crispEdges"/>
<rect x="675.55" y="313.20" width="23.00" height="147.90" fill="url(#g25)" shape-rendering="crispEdges"/>
<path d="M695.2 313.0 L694.6 324.0 L691.8 329.0 L688.5 332.4 L680.8 337.0 L673.4 342.5 L664.8 345.9 L652.8 350.0 L645.8 354.0 L641.2 356.0 L636.8 363.0 L634.5 369.5 L627.8 374.0 L622.6 378.0 L617.8 383.0 L614.1 388.0 L611.5 394.9 L592.2 393.2 L570.0 392.8 L547.6 393.8 L525.2 396.3 L502.2 392.8 L480.6 394.7 L478.1 389.6 L459.1 387.9" stroke="#151515" stroke-width="1.2" fill="none" stroke-linejoin="round"/>
<path d="M459.1 389.6 L469.1 390.9 L474.2 392.8 L476.7 396.6 L480.6 399.2 L502.3 397.2 L525.3 402.3 L547.6 399.2 L570.0 399.8 L590.7 402.3 L604.1 405.5 L611.1 410.0 L619.4 405.5 L633.4 402.7 L655.1 406.2 L675.6 408.1 L698.6 410.0" stroke="#151515" stroke-width="1.2" fill="none" stroke-linejoin="round"/>
<path d="M459.1 391.5 L464.0 392.8 L467.8 396.6 L474.2 399.2 L480.6 400.4 L502.3 399.2 L525.3 405.5 L547.6 403.6 L570.0 404.9 L590.7 407.5 L611.1 412.6 L621.9 407.5 L633.4 404.9 L655.1 408.7 L675.6 410.7 L698.6 412.6" stroke="#151515" stroke-width="1.2" fill="none" stroke-linejoin="round"/>
<path d="M459.1 393.4 L462.7 396.6 L465.2 398.9" stroke="#151515" stroke-width="1.2" fill="none" stroke-linejoin="round"/>
<path d="M480.6 403.0 L502.3 401.7 L525.3 407.5 L547.6 409.4 L570.0 411.3 L590.7 411.9 L611.1 414.5 L623.2 409.4 L633.4 406.8 L655.1 410.7 L675.6 412.6 L698.6 415.1" stroke="#151515" stroke-width="1.2" fill="none" stroke-linejoin="round"/>
<path d="M480.6 405.5 L502.3 404.9 L525.3 410.7 L547.6 413.8 L570.0 418.3 L590.7 419.6 L611.1 421.5 L621.9 413.2 L633.4 411.3 L655.1 413.5 L675.6 414.5 L698.6 417.7" stroke="#151515" stroke-width="1.2" fill="none" stroke-linejoin="round"/>
<path d="M480.6 410.0 L502.3 406.2 L525.3 411.9 L547.6 416.4 L570.0 420.9 L581.1 420.9 L590.7 424.1 L611.1 424.1 L621.9 418.3 L629.6 414.5 L655.1 418.3 L675.6 416.4 L685.8 418.3 L698.6 420.2" stroke="#151515" stroke-width="1.2" fill="none" stroke-linejoin="round"/>
<path d="M590.7 426.6 L611.1 427.9 L623.2 424.7 L629.6 417.0" stroke="#151515" stroke-width="1.2" fill="none" stroke-linejoin="round"/>
<path d="M655.1 420.9 L675.6 422.8 L698.6 421.5" stroke="#151515" stroke-width="1.2" fill="none" stroke-linejoin="round"/>
<path d="M576.0 442.6 L578.5 437.5 L584.9 434.3 L597.7 433.6 L610.4 434.3 L616.8 436.2 L620.7 440.7" stroke="#151515" stroke-width="1.2" fill="none" stroke-linejoin="round"/>
<path d="M637.9 441.3 L639.8 436.2 L647.5 432.4 L655.1 429.2 L665.4 424.7 L675.6 422.8" stroke="#151515" stroke-width="1.2" fill="none" stroke-linejoin="round"/>
<path d="M674.3 451.5 L676.2 443.9 L680.7 438.7 L688.4 436.2 L698.6 435.2" stroke="#151515" stroke-width="1.2" fill="none" stroke-linejoin="round"/>
<path d="M436.4 348.0 L437.2 352.0 L437.8 361.0" stroke="#151515" stroke-width="1.2" fill="none" stroke-linejoin="round"/>
<text x="653.8" y="357.5" font-size="23.00" text-anchor="middle" fill="#151515" stroke="#151515" stroke-width="0.3" transform="rotate(-22 653.8 357.5)">20</text>
<text x="642.8" y="420.0" font-size="23.00" text-anchor="middle" fill="#151515" stroke="#151515" stroke-width="0.3" transform="rotate(0 642.8 420.0)">16</text>
<path d="M435.8 369.5 L458.8 411.0 L480.8 423.6 L504.4 433.7 L523.8 438.0 L546.6 447.9 L568.5 454.0 L588.8 456.0 L610.8 456.0 L633.5 452.3 L653.0 461.8 L676.8 470.9 L698.8 472.6" stroke="#000" stroke-width="4.4" fill="none" stroke-linejoin="round"/>
<rect x="434.6" y="313.2" width="270.4" height="204.8" fill="none" stroke="#4a4a4a" stroke-width="1.2"/>
<text x="424.9" y="321.2" font-size="22.30" text-anchor="end" fill="#262626" stroke="#262626" stroke-width="0.3">0</text>
<path d="M434.6 371.7 h3 M705.0 371.7 h-3" stroke="#4a4a4a" stroke-width="1.1"/>
<text x="424.9" y="379.7" font-size="22.30" text-anchor="end" fill="#262626" stroke="#262626" stroke-width="0.3">-10</text>
<path d="M434.6 430.2 h3 M705.0 430.2 h-3" stroke="#4a4a4a" stroke-width="1.1"/>
<text x="424.9" y="438.2" font-size="22.30" text-anchor="end" fill="#262626" stroke="#262626" stroke-width="0.3">-20</text>
<path d="M434.6 488.7 h3 M705.0 488.7 h-3" stroke="#4a4a4a" stroke-width="1.1"/>
<text x="424.9" y="496.7" font-size="22.30" text-anchor="end" fill="#262626" stroke="#262626" stroke-width="0.3">-30</text>
<path d="M447.2 518.0 v-3" stroke="#4a4a4a" stroke-width="1.1"/>
<path d="M576.1 518.0 v-3" stroke="#4a4a4a" stroke-width="1.1"/>
<text x="381.2" y="416.1" font-size="25.00" text-anchor="middle" fill="#262626" stroke="#262626" stroke-width="0.3" textLength="107.5" lengthAdjust="spacingAndGlyphs" transform="rotate(-90 381.2 416.1)">Depth [m]</text>
<text x="427.2" y="309.6" font-size="22.00" text-anchor="start" fill="#000" stroke="#000" stroke-width="0.3" textLength="255.0" lengthAdjust="spacingAndGlyphs">(c) Chlor. -- Aug-31-2020</text>
<rect x="444.6" y="500.2" width="100.5" height="8.8" fill="url(#g26)" stroke="#555" stroke-width="1"/>
<path d="M444.6 500.2 v1.6" stroke="#333" stroke-width="0.8"/>
<text x="444.6" y="487.3" font-size="20.80" text-anchor="middle" fill="#262626" stroke="#262626" stroke-width="0.3">0</text>
<path d="M494.9 500.2 v1.6" stroke="#333" stroke-width="0.8"/>
<text x="494.9" y="487.3" font-size="20.80" text-anchor="middle" fill="#262626" stroke="#262626" stroke-width="0.3">50</text>
<path d="M545.1 500.2 v1.6" stroke="#333" stroke-width="0.8"/>
<text x="545.9" y="487.3" font-size="20.80" text-anchor="middle" fill="#262626" stroke="#262626" stroke-width="0.3">100</text>
<text x="474.6" y="461.1" font-size="20.5" fill="#262626"><tspan font-family="Liberation Serif, serif" font-style="italic" font-size="21">µ</tspan>g/L</text>
<rect x="792.60" y="313.20" width="22.30" height="86.00" fill="url(#g27)" shape-rendering="crispEdges"/>
<rect x="814.90" y="313.20" width="21.40" height="97.50" fill="url(#g28)" shape-rendering="crispEdges"/>
<rect x="836.30" y="313.20" width="22.40" height="108.80" fill="url(#g29)" shape-rendering="crispEdges"/>
<rect x="858.70" y="313.20" width="22.10" height="113.80" fill="url(#g30)" shape-rendering="crispEdges"/>
<rect x="880.80" y="313.20" width="22.60" height="122.80" fill="url(#g31)" shape-rendering="crispEdges"/>
<rect x="903.40" y="313.20" width="21.10" height="129.40" fill="url(#g32)" shape-rendering="crispEdges"/>
<rect x="924.50" y="313.20" width="21.90" height="131.30" fill="url(#g33)" shape-rendering="crispEdges"/>
<rect x="946.40" y="313.20" width="20.40" height="131.30" fill="url(#g34)" shape-rendering="crispEdges"/>
<rect x="966.80" y="313.20" width="22.40" height="128.80" fill="url(#g35)" shape-rendering="crispEdges"/>
<rect x="989.20" y="313.20" width="21.30" height="137.00" fill="url(#g36)" shape-rendering="crispEdges"/>
<rect x="1010.50" y="313.20" width="20.80" height="144.70" fill="url(#g37)" shape-rendering="crispEdges"/>
<rect x="1031.30" y="313.20" width="23.00" height="147.90" fill="url(#g38)" shape-rendering="crispEdges"/>
<rect x="814.5" y="313.4" width="21.3" height="6" fill="#403229"/><rect x="792.6" y="325.3" width="22.3" height="1.0" fill="#d4bf6d" opacity="0.37" shape-rendering="crispEdges"/><rect x="792.6" y="329.2" width="22.3" height="2.0" fill="#d8ca79" opacity="0.39" shape-rendering="crispEdges"/><rect x="792.6" y="335.1" width="22.3" height="2.5" fill="#dace7e" opacity="0.25" shape-rendering="crispEdges"/><rect x="792.6" y="340.1" width="22.3" height="2.5" fill="#ded98a" opacity="0.45" shape-rendering="crispEdges"/><rect x="814.9" y="352.4" width="21.4" height="1.5" fill="#d7c675" opacity="0.48" shape-rendering="crispEdges"/><rect x="836.3" y="319.7" width="22.4" height="1.5" fill="#d3bd6b" opacity="0.48" shape-rendering="crispEdges"/><rect x="836.3" y="338.1" width="22.4" height="1.0" fill="#dace7e" opacity="0.29" shape-rendering="crispEdges"/><rect x="836.3" y="346.3" width="22.4" height="2.5" fill="#d6c372" opacity="0.34" shape-rendering="crispEdges"/><rect x="836.3" y="358.7" width="22.4" height="1.0" fill="#ded889" opacity="0.40" shape-rendering="crispEdges"/><rect x="836.3" y="360.3" width="22.4" height="2.0" fill="#dbd182" opacity="0.32" shape-rendering="crispEdges"/><rect x="858.7" y="328.3" width="22.1" height="2.5" fill="#dbd282" opacity="0.41" shape-rendering="crispEdges"/><rect x="858.7" y="351.5" width="22.1" height="1.5" fill="#d9cc7c" opacity="0.42" shape-rendering="crispEdges"/><rect x="858.7" y="359.4" width="22.1" height="1.0" fill="#d4bd6c" opacity="0.26" shape-rendering="crispEdges"/><rect x="858.7" y="367.7" width="22.1" height="1.5" fill="#d5c16f" opacity="0.32" shape-rendering="crispEdges"/><rect x="858.7" y="372.7" width="22.1" height="1.0" fill="#d3bd6b" opacity="0.42" shape-rendering="crispEdges"/><rect x="880.8" y="329.1" width="22.6" height="2.5" fill="#dbd081" opacity="0.33" shape-rendering="crispEdges"/><rect x="880.8" y="339.7" width="22.6" height="1.5" fill="#d6c473" opacity="0.30" shape-rendering="crispEdges"/><rect x="880.8" y="348.8" width="22.6" height="1.0" fill="#dbd181" opacity="0.46" shape-rendering="crispEdges"/><rect x="903.4" y="350.2" width="21.1" height="1.0" fill="#d4bf6d" opacity="0.42" shape-rendering="crispEdges"/><rect x="903.4" y="386.7" width="21.1" height="2.5" fill="#d4bf6e" opacity="0.28" shape-rendering="crispEdges"/><rect x="924.5" y="320.7" width="21.9" height="1.0" fill="#d9cb7b" opacity="0.39" shape-rendering="crispEdges"/><rect x="924.5" y="330.5" width="21.9" height="1.5" fill="#d6c371" opacity="0.25" shape-rendering="crispEdges"/><rect x="924.5" y="332.2" width="21.9" height="1.0" fill="#ded98a" opacity="0.37" shape-rendering="crispEdges"/><rect x="924.5" y="339.9" width="21.9" height="2.0" fill="#d7c776" opacity="0.40" shape-rendering="crispEdges"/><rect x="924.5" y="343.0" width="21.9" height="1.5" fill="#dacd7d" opacity="0.28" shape-rendering="crispEdges"/><rect x="924.5" y="360.1" width="21.9" height="2.0" fill="#ded98a" opacity="0.41" shape-rendering="crispEdges"/><rect x="924.5" y="372.4" width="21.9" height="1.5" fill="#d6c574" opacity="0.27" shape-rendering="crispEdges"/><rect x="924.5" y="393.1" width="21.9" height="2.5" fill="#d5c271" opacity="0.42" shape-rendering="crispEdges"/><rect x="946.4" y="323.5" width="20.4" height="2.0" fill="#ded98a" opacity="0.27" shape-rendering="crispEdges"/><rect x="946.4" y="327.7" width="20.4" height="1.0" fill="#ded98a" opacity="0.28" shape-rendering="crispEdges"/><rect x="946.4" y="350.9" width="20.4" height="1.0" fill="#d7c776" opacity="0.36" shape-rendering="crispEdges"/><rect x="946.4" y="389.7" width="20.4" height="2.0" fill="#d4bf6d" opacity="0.29" shape-rendering="crispEdges"/><rect x="966.8" y="333.9" width="22.4" height="2.5" fill="#d4bd6c" opacity="0.32" shape-rendering="crispEdges"/><rect x="966.8" y="346.6" width="22.4" height="1.0" fill="#dbd282" opacity="0.45" shape-rendering="crispEdges"/><rect x="966.8" y="390.3" width="22.4" height="1.0" fill="#d5c06f" opacity="0.31" shape-rendering="crispEdges"/><rect x="989.2" y="335.6" width="21.3" height="1.0" fill="#dbd282" opacity="0.48" shape-rendering="crispEdges"/><rect x="989.2" y="346.9" width="21.3" height="2.5" fill="#d6c473" opacity="0.37" shape-rendering="crispEdges"/><rect x="989.2" y="354.4" width="21.3" height="2.0" fill="#ddd788" opacity="0.47" shape-rendering="crispEdges"/><rect x="989.2" y="360.0" width="21.3" height="1.5" fill="#d7c675" opacity="0.34" shape-rendering="crispEdges"/><rect x="989.2" y="373.3" width="21.3" height="1.5" fill="#d7c675" opacity="0.38" shape-rendering="crispEdges"/><rect x="989.2" y="389.6" width="21.3" height="2.0" fill="#ddd687" opacity="0.48" shape-rendering="crispEdges"/><rect x="1010.5" y="325.1" width="20.8" height="1.0" fill="#d6c372" opacity="0.39" shape-rendering="crispEdges"/><rect x="1010.5" y="338.0" width="20.8" height="2.5" fill="#dbd282" opacity="0.42" shape-rendering="crispEdges"/><rect x="1010.5" y="352.7" width="20.8" height="2.0" fill="#d5c16f" opacity="0.28" shape-rendering="crispEdges"/><rect x="1010.5" y="355.4" width="20.8" height="1.0" fill="#d8c978" opacity="0.48" shape-rendering="crispEdges"/><rect x="1010.5" y="376.1" width="20.8" height="1.0" fill="#dcd485" opacity="0.31" shape-rendering="crispEdges"/><rect x="1010.5" y="381.2" width="20.8" height="2.0" fill="#d4bf6e" opacity="0.49" shape-rendering="crispEdges"/><rect x="1010.5" y="405.7" width="20.8" height="1.0" fill="#d9cb7b" opacity="0.38" shape-rendering="crispEdges"/><rect x="1031.3" y="318.8" width="23.0" height="2.5" fill="#dcd484" opacity="0.45" shape-rendering="crispEdges"/><rect x="1031.3" y="330.9" width="23.0" height="2.0" fill="#d5c271" opacity="0.41" shape-rendering="crispEdges"/><rect x="1031.3" y="335.2" width="23.0" height="2.5" fill="#deda8b" opacity="0.33" shape-rendering="crispEdges"/><rect x="1031.3" y="342.8" width="23.0" height="2.5" fill="#d6c371" opacity="0.26" shape-rendering="crispEdges"/><rect x="1031.3" y="350.6" width="23.0" height="1.0" fill="#d5c06f" opacity="0.36" shape-rendering="crispEdges"/><rect x="1031.3" y="357.5" width="23.0" height="1.0" fill="#d5c16f" opacity="0.43" shape-rendering="crispEdges"/><rect x="1031.3" y="374.8" width="23.0" height="1.5" fill="#dacf7f" opacity="0.34" shape-rendering="crispEdges"/><rect x="1031.3" y="381.2" width="23.0" height="1.0" fill="#dbd283" opacity="0.34" shape-rendering="crispEdges"/><rect x="1031.3" y="388.7" width="23.0" height="2.5" fill="#dace7e" opacity="0.29" shape-rendering="crispEdges"/><rect x="1031.3" y="390.4" width="23.0" height="1.0" fill="#d9cd7d" opacity="0.30" shape-rendering="crispEdges"/><rect x="1031.3" y="398.6" width="23.0" height="1.0" fill="#dcd383" opacity="0.26" shape-rendering="crispEdges"/><rect x="1031.3" y="407.8" width="23.0" height="2.0" fill="#d9cc7b" opacity="0.29" shape-rendering="crispEdges"/>
<path d="M1051.0 313.0 L1050.4 324.0 L1047.5 329.0 L1044.3 332.4 L1036.5 337.0 L1029.1 342.5 L1020.5 345.9 L1008.5 350.0 L1001.5 354.0 L997.0 356.0 L992.5 363.0 L990.2 369.5 L983.5 374.0 L978.4 378.0 L973.5 383.0 L969.9 388.0 L967.2 394.9 L948.0 393.2 L925.7 392.8 L903.4 393.8 L881.0 396.3 L858.0 392.8 L836.3 394.7 L833.8 389.6 L814.9 387.9" stroke="#151515" stroke-width="1.2" fill="none" stroke-linejoin="round"/>
<path d="M814.9 389.6 L824.8 390.9 L829.9 392.8 L832.5 396.6 L836.3 399.2 L858.0 397.2 L881.0 402.3 L903.4 399.2 L925.7 399.8 L946.4 402.3 L959.8 405.5 L966.8 410.0 L975.1 405.5 L989.2 402.7 L1010.9 406.2 L1031.3 408.1 L1054.3 410.0" stroke="#151515" stroke-width="1.2" fill="none" stroke-linejoin="round"/>
<path d="M814.9 391.5 L819.7 392.8 L823.5 396.6 L829.9 399.2 L836.3 400.4 L858.0 399.2 L881.0 405.5 L903.4 403.6 L925.7 404.9 L946.4 407.5 L966.8 412.6 L977.7 407.5 L989.2 404.9 L1010.9 408.7 L1031.3 410.7 L1054.3 412.6" stroke="#151515" stroke-width="1.2" fill="none" stroke-linejoin="round"/>
<path d="M814.9 393.4 L818.4 396.6 L821.0 398.9" stroke="#151515" stroke-width="1.2" fill="none" stroke-linejoin="round"/>
<path d="M836.3 403.0 L858.0 401.7 L881.0 407.5 L903.4 409.4 L925.7 411.3 L946.4 411.9 L966.8 414.5 L979.0 409.4 L989.2 406.8 L1010.9 410.7 L1031.3 412.6 L1054.3 415.1" stroke="#151515" stroke-width="1.2" fill="none" stroke-linejoin="round"/>
<path d="M836.3 405.5 L858.0 404.9 L881.0 410.7 L903.4 413.8 L925.7 418.3 L946.4 419.6 L966.8 421.5 L977.7 413.2 L989.2 411.3 L1010.9 413.5 L1031.3 414.5 L1054.3 417.7" stroke="#151515" stroke-width="1.2" fill="none" stroke-linejoin="round"/>
<path d="M836.3 410.0 L858.0 406.2 L881.0 411.9 L903.4 416.4 L925.7 420.9 L936.8 420.9 L946.4 424.1 L966.8 424.1 L977.7 418.3 L985.4 414.5 L1010.9 418.3 L1031.3 416.4 L1041.6 418.3 L1054.3 420.2" stroke="#151515" stroke-width="1.2" fill="none" stroke-linejoin="round"/>
<path d="M946.4 426.6 L966.8 427.9 L979.0 424.7 L985.4 417.0" stroke="#151515" stroke-width="1.2" fill="none" stroke-linejoin="round"/>
<path d="M1010.9 420.9 L1031.3 422.8 L1054.3 421.5" stroke="#151515" stroke-width="1.2" fill="none" stroke-linejoin="round"/>
<path d="M931.7 442.6 L934.3 437.5 L940.7 434.3 L953.4 433.6 L966.2 434.3 L972.6 436.2 L976.4 440.7" stroke="#151515" stroke-width="1.2" fill="none" stroke-linejoin="round"/>
<path d="M993.7 441.3 L995.6 436.2 L1003.2 432.4 L1010.9 429.2 L1021.1 424.7 L1031.3 422.8" stroke="#151515" stroke-width="1.2" fill="none" stroke-linejoin="round"/>
<path d="M1030.1 451.5 L1032.0 443.9 L1036.4 438.7 L1044.1 436.2 L1054.3 435.2" stroke="#151515" stroke-width="1.2" fill="none" stroke-linejoin="round"/>
<path d="M792.1 348.0 L793.0 352.0 L793.5 361.0" stroke="#151515" stroke-width="1.2" fill="none" stroke-linejoin="round"/>
<text x="1009.5" y="357.5" font-size="23.00" text-anchor="middle" fill="#151515" stroke="#151515" stroke-width="0.3" transform="rotate(-22 1009.5 357.5)">20</text>
<text x="998.5" y="420.0" font-size="23.00" text-anchor="middle" fill="#151515" stroke="#151515" stroke-width="0.3" transform="rotate(0 998.5 420.0)">16</text>
<path d="M791.5 369.5 L814.5 411.0 L836.5 423.6 L860.1 433.7 L879.5 438.0 L902.4 447.9 L924.3 454.0 L944.5 456.0 L966.5 456.0 L989.2 452.3 L1008.8 461.8 L1032.5 470.9 L1054.5 472.6" stroke="#000" stroke-width="4.4" fill="none" stroke-linejoin="round"/>
<rect x="790.3" y="313.2" width="270.4" height="204.8" fill="none" stroke="#4a4a4a" stroke-width="1.2"/>
<text x="780.6" y="321.2" font-size="22.30" text-anchor="end" fill="#262626" stroke="#262626" stroke-width="0.3">0</text>
<path d="M790.3 371.7 h3 M1060.7 371.7 h-3" stroke="#4a4a4a" stroke-width="1.1"/>
<text x="780.6" y="379.7" font-size="22.30" text-anchor="end" fill="#262626" stroke="#262626" stroke-width="0.3">-10</text>
<path d="M790.3 430.2 h3 M1060.7 430.2 h-3" stroke="#4a4a4a" stroke-width="1.1"/>
<text x="780.6" y="438.2" font-size="22.30" text-anchor="end" fill="#262626" stroke="#262626" stroke-width="0.3">-20</text>
<path d="M790.3 488.7 h3 M1060.7 488.7 h-3" stroke="#4a4a4a" stroke-width="1.1"/>
<text x="780.6" y="496.7" font-size="22.30" text-anchor="end" fill="#262626" stroke="#262626" stroke-width="0.3">-30</text>
<path d="M803.0 518.0 v-3" stroke="#4a4a4a" stroke-width="1.1"/>
<path d="M931.9 518.0 v-3" stroke="#4a4a4a" stroke-width="1.1"/>
<text x="736.9" y="416.1" font-size="25.00" text-anchor="middle" fill="#262626" stroke="#262626" stroke-width="0.3" textLength="107.5" lengthAdjust="spacingAndGlyphs" transform="rotate(-90 736.9 416.1)">Depth [m]</text>
<text x="783.0" y="309.6" font-size="22.00" text-anchor="start" fill="#000" stroke="#000" stroke-width="0.3" textLength="244.0" lengthAdjust="spacingAndGlyphs">(d) OBS -- Aug-31-2020</text>
<rect x="800.5" y="500.2" width="100.5" height="8.8" fill="url(#g39)" stroke="#555" stroke-width="1"/>
<path d="M800.5 500.2 v1.6" stroke="#333" stroke-width="0.8"/>
<text x="800.5" y="487.3" font-size="20.80" text-anchor="middle" fill="#262626" stroke="#262626" stroke-width="0.3">0</text>
<path d="M901.0 500.2 v1.6" stroke="#333" stroke-width="0.8"/>
<text x="901.0" y="487.3" font-size="20.80" text-anchor="middle" fill="#262626" stroke="#262626" stroke-width="0.3">5</text>
<text x="830.5" y="461.1" font-size="20.5" fill="#262626">NTU</text>
<rect x="78.80" y="598.20" width="13.20" height="41.50" fill="url(#g40)" shape-rendering="crispEdges"/>
<rect x="92.00" y="598.20" width="22.00" height="75.30" fill="url(#g41)" shape-rendering="crispEdges"/>
<rect x="114.00" y="598.20" width="22.00" height="100.90" fill="url(#g42)" shape-rendering="crispEdges"/>
<rect x="136.00" y="598.20" width="20.70" height="113.70" fill="url(#g43)" shape-rendering="crispEdges"/>
<rect x="156.70" y="598.20" width="19.60" height="120.70" fill="url(#g44)" shape-rendering="crispEdges"/>
<rect x="176.30" y="598.20" width="22.60" height="123.60" fill="url(#g45)" shape-rendering="crispEdges"/>
<rect x="198.90" y="598.20" width="23.20" height="135.10" fill="url(#g46)" shape-rendering="crispEdges"/>
<rect x="222.10" y="598.20" width="40.90" height="140.50" fill="url(#g47)" shape-rendering="crispEdges"/>
<rect x="263.00" y="598.20" width="46.00" height="140.50" fill="url(#g48)" shape-rendering="crispEdges"/>
<rect x="309.00" y="598.20" width="39.60" height="152.00" fill="url(#g49)" shape-rendering="crispEdges"/>
<path d="M78.8 611.6 L87.8 615.4 L92.9 620.5 L103.1 624.4 L109.5 632.0 L113.3 637.1 L115.6 639.1" stroke="#f5e9e6" stroke-width="1.1" fill="none" stroke-linejoin="round"/>
<path d="M139.5 637.1 L140.1 633.3 L140.8 621.8 L146.5 611.6 L151.6 604.6 L156.7 602.7 L167.0 605.9 L175.9 609.7 L196.3 606.5 L215.0 607.1 L224.0 607.1 L235.5 602.7 L248.3 599.5 L261.1 598.1" stroke="#f5e9e6" stroke-width="1.1" fill="none" stroke-linejoin="round"/>
<path d="M78.8 625.7 L91.6 632.0 L103.1 635.9 L113.3 646.1 L136.3 655.0 L156.7 657.6 L175.9 661.4 L197.6 658.9 L215.0 659.5 L222.8 660.1 L239.4 664.0 L247.0 671.6 L263.0 678.0 L299.4 678.0 L319.8 674.8 L348.6 674.8" stroke="#f5e9e6" stroke-width="1.1" fill="none" stroke-linejoin="round"/>
<path d="M78.8 627.6 L91.6 634.6 L106.9 642.3 L113.3 648.6 L136.3 658.9 L146.5 664.0 L164.4 667.8 L177.2 672.3 L195.1 674.2 L198.9 678.0 L215.0 678.0 L227.9 678.0 L263.0 684.4 L299.4 683.1 L324.9 680.6 L348.6 678.0" stroke="#f5e9e6" stroke-width="1.1" fill="none" stroke-linejoin="round"/>
<path d="M78.8 629.5 L91.6 636.5 L103.1 646.1 L113.3 651.2 L136.3 661.4 L156.7 671.6 L175.9 675.5 L198.9 679.3 L215.0 683.1 L222.8 684.4 L263.0 693.3 L286.6 689.5 L312.2 688.2 L348.6 686.3" stroke="#f5e9e6" stroke-width="1.1" fill="none" stroke-linejoin="round"/>
<path d="M78.8 631.4 L91.6 639.1 L100.5 648.6 L113.3 654.4 L136.3 664.6 L156.7 674.2 L175.9 678.7 L198.9 684.4 L215.0 688.2 L222.1 691.4 L241.9 694.6 L263.0 701.0 L286.6 695.9 L307.1 694.0 L348.6 692.7" stroke="#f5e9e6" stroke-width="1.1" fill="none" stroke-linejoin="round"/>
<path d="M91.6 643.5 L100.5 652.5 L113.3 657.6 L136.3 667.2 L156.7 676.7 L175.9 681.2 L198.9 689.5 L215.0 693.3 L222.1 695.9 L241.9 701.0 L263.0 708.7 L281.5 703.6 L307.1 699.1 L348.6 697.8" stroke="#f5e9e6" stroke-width="1.1" fill="none" stroke-linejoin="round"/>
<path d="M91.6 647.4 L103.1 655.0 L113.3 660.1 L136.3 669.7 L156.7 679.9 L175.9 683.8 L198.9 694.0 L215.0 697.2 L222.1 699.7 L241.9 707.4 L263.0 714.4 L281.5 709.9 L308.3 704.8 L348.6 703.6" stroke="#f5e9e6" stroke-width="1.1" fill="none" stroke-linejoin="round"/>
<path d="M91.6 652.5 L113.3 658.9 L126.1 665.2 L136.3 671.6 L156.7 683.1 L175.9 687.0 L184.8 692.1 L198.9 697.2 L215.0 702.3 L229.2 707.4 L241.9 713.8 L254.7 718.2 L263.0 720.8 L281.5 716.3 L307.1 712.5 L348.6 710.6" stroke="#f5e9e6" stroke-width="1.1" fill="none" stroke-linejoin="round"/>
<path d="M229.2 715.1 L235.5 720.8 L248.3 722.7 L263.0 723.4 L286.6 722.1 L299.4 717.6 L309.6 716.3" stroke="#f5e9e6" stroke-width="1.1" fill="none" stroke-linejoin="round"/>
<path d="M94.2 672.9 L94.2 667.8 L100.5 665.2 L113.3 665.2" stroke="#f5e9e6" stroke-width="1.1" fill="none" stroke-linejoin="round"/>
<path d="M129.9 697.8 L130.6 687.0 L138.9 681.8 L151.6 679.3 L161.8 679.3" stroke="#f5e9e6" stroke-width="1.1" fill="none" stroke-linejoin="round"/>
<path d="M185.5 720.2 L187.4 707.4 L192.5 702.3 L197.6 701.0 L202.7 704.8 L210.4 707.4" stroke="#f5e9e6" stroke-width="1.1" fill="none" stroke-linejoin="round"/>
<path d="M300.7 738.0 L302.0 729.1 L307.1 724.0 L348.6 723.4" stroke="#f5e9e6" stroke-width="1.1" fill="none" stroke-linejoin="round"/>
<path d="M333.9 598.2 L348.6 598.6" stroke="#f5e9e6" stroke-width="1.1" fill="none" stroke-linejoin="round"/>
<text x="127.4" y="648.5" font-size="23.00" text-anchor="middle" fill="#ffffff" stroke="#ffffff" stroke-width="0.3" transform="rotate(0 127.4 648.5)">20</text>
<text x="150.5" y="676.5" font-size="23.00" text-anchor="middle" fill="#ffffff" stroke="#ffffff" stroke-width="0.3" transform="rotate(22 150.5 676.5)">16</text>
<text x="216.5" y="718.0" font-size="23.00" text-anchor="middle" fill="#ffffff" stroke="#ffffff" stroke-width="0.3" transform="rotate(22 216.5 718.0)">12</text>
<path d="M79.5 651.2 L91.6 684.4 L113.3 710.0 L136.3 723.4 L156.7 729.1 L175.9 731.7 L198.9 743.1 L222.1 749.5 L263.0 749.5 L348.3 770.5" stroke="#000" stroke-width="4.4" fill="none" stroke-linejoin="round"/>
<rect x="78.8" y="598.2" width="270.4" height="204.4" fill="none" stroke="#4a4a4a" stroke-width="1.2"/>
<text x="69.1" y="606.2" font-size="22.30" text-anchor="end" fill="#262626" stroke="#262626" stroke-width="0.3">0</text>
<path d="M78.8 656.6 h3 M349.2 656.6 h-3" stroke="#4a4a4a" stroke-width="1.1"/>
<text x="69.1" y="664.6" font-size="22.30" text-anchor="end" fill="#262626" stroke="#262626" stroke-width="0.3">-10</text>
<path d="M78.8 715.0 h3 M349.2 715.0 h-3" stroke="#4a4a4a" stroke-width="1.1"/>
<text x="69.1" y="723.0" font-size="22.30" text-anchor="end" fill="#262626" stroke="#262626" stroke-width="0.3">-20</text>
<path d="M78.8 773.4 h3 M349.2 773.4 h-3" stroke="#4a4a4a" stroke-width="1.1"/>
<text x="69.1" y="781.4" font-size="22.30" text-anchor="end" fill="#262626" stroke="#262626" stroke-width="0.3">-30</text>
<path d="M91.5 802.6 v-3" stroke="#4a4a4a" stroke-width="1.1"/>
<path d="M220.4 802.6 v-3" stroke="#4a4a4a" stroke-width="1.1"/>
<text x="25.4" y="700.9" font-size="25.00" text-anchor="middle" fill="#262626" stroke="#262626" stroke-width="0.3" textLength="107.5" lengthAdjust="spacingAndGlyphs" transform="rotate(-90 25.4 700.9)">Depth [m]</text>
<text x="71.5" y="594.6" font-size="22.00" text-anchor="start" fill="#000" stroke="#000" stroke-width="0.3" textLength="215.0" lengthAdjust="spacingAndGlyphs">(e) DO -- Sep-3-2020</text>
<rect x="89.5" y="785.6" width="100.5" height="8.8" fill="url(#g50)" stroke="#555" stroke-width="1"/>
<path d="M103.9 785.6 v1.6" stroke="#333" stroke-width="0.8"/>
<text x="103.9" y="772.7" font-size="20.80" text-anchor="middle" fill="#262626" stroke="#262626" stroke-width="0.3">2</text>
<path d="M132.6 785.6 v1.6" stroke="#333" stroke-width="0.8"/>
<text x="132.6" y="772.7" font-size="20.80" text-anchor="middle" fill="#262626" stroke="#262626" stroke-width="0.3">4</text>
<path d="M161.3 785.6 v1.6" stroke="#333" stroke-width="0.8"/>
<text x="161.3" y="772.7" font-size="20.80" text-anchor="middle" fill="#262626" stroke="#262626" stroke-width="0.3">6</text>
<path d="M190.0 785.6 v1.6" stroke="#333" stroke-width="0.8"/>
<text x="190.0" y="772.7" font-size="20.80" text-anchor="middle" fill="#262626" stroke="#262626" stroke-width="0.3">8</text>
<text x="115.5" y="746.5" font-size="21.5" fill="#262626">mg/L</text>
<rect x="434.55" y="598.20" width="13.20" height="41.50" fill="url(#g51)" shape-rendering="crispEdges"/>
<rect x="447.75" y="598.20" width="22.00" height="75.30" fill="url(#g52)" shape-rendering="crispEdges"/>
<rect x="469.75" y="598.20" width="22.00" height="100.90" fill="url(#g53)" shape-rendering="crispEdges"/>
<rect x="491.75" y="598.20" width="20.70" height="113.70" fill="url(#g54)" shape-rendering="crispEdges"/>
<rect x="512.45" y="598.20" width="19.60" height="120.70" fill="url(#g55)" shape-rendering="crispEdges"/>
<rect x="532.05" y="598.20" width="22.60" height="123.60" fill="url(#g56)" shape-rendering="crispEdges"/>
<rect x="554.65" y="598.20" width="23.20" height="135.10" fill="url(#g57)" shape-rendering="crispEdges"/>
<rect x="577.85" y="598.20" width="40.90" height="140.50" fill="url(#g58)" shape-rendering="crispEdges"/>
<rect x="618.75" y="598.20" width="46.00" height="140.50" fill="url(#g59)" shape-rendering="crispEdges"/>
<rect x="664.75" y="598.20" width="39.60" height="152.00" fill="url(#g60)" shape-rendering="crispEdges"/>
<path d="M434.6 611.6 L443.5 615.4 L448.6 620.5 L458.8 624.4 L465.2 632.0 L469.1 637.1 L471.4 639.1" stroke="#151515" stroke-width="1.2" fill="none" stroke-linejoin="round"/>
<path d="M495.2 637.1 L495.9 633.3 L496.5 621.8 L502.3 611.6 L507.4 604.6 L512.5 602.7 L522.7 605.9 L531.6 609.7 L552.1 606.5 L570.7 607.1 L579.8 607.1 L591.3 602.7 L604.1 599.5 L616.8 598.1" stroke="#151515" stroke-width="1.2" fill="none" stroke-linejoin="round"/>
<path d="M434.6 625.7 L447.4 632.0 L458.8 635.9 L469.1 646.1 L492.1 655.0 L512.5 657.6 L531.6 661.4 L553.4 658.9 L570.7 659.5 L578.5 660.1 L595.1 664.0 L602.8 671.6 L618.8 678.0 L655.1 678.0 L675.6 674.8 L704.3 674.8" stroke="#151515" stroke-width="1.2" fill="none" stroke-linejoin="round"/>
<path d="M434.6 627.6 L447.4 634.6 L462.7 642.3 L469.1 648.6 L492.1 658.9 L502.3 664.0 L520.1 667.8 L532.9 672.3 L550.8 674.2 L554.6 678.0 L570.7 678.0 L583.6 678.0 L618.8 684.4 L655.1 683.1 L680.7 680.6 L704.3 678.0" stroke="#151515" stroke-width="1.2" fill="none" stroke-linejoin="round"/>
<path d="M434.6 629.5 L447.4 636.5 L458.8 646.1 L469.1 651.2 L492.1 661.4 L512.5 671.6 L531.6 675.5 L554.6 679.3 L570.7 683.1 L578.5 684.4 L618.8 693.3 L642.4 689.5 L667.9 688.2 L704.3 686.3" stroke="#151515" stroke-width="1.2" fill="none" stroke-linejoin="round"/>
<path d="M434.6 631.4 L447.4 639.1 L456.3 648.6 L469.1 654.4 L492.1 664.6 L512.5 674.2 L531.6 678.7 L554.6 684.4 L570.7 688.2 L577.9 691.4 L597.7 694.6 L618.8 701.0 L642.4 695.9 L662.8 694.0 L704.3 692.7" stroke="#151515" stroke-width="1.2" fill="none" stroke-linejoin="round"/>
<path d="M447.4 643.5 L456.3 652.5 L469.1 657.6 L492.1 667.2 L512.5 676.7 L531.6 681.2 L554.6 689.5 L570.7 693.3 L577.9 695.9 L597.7 701.0 L618.8 708.7 L637.3 703.6 L662.8 699.1 L704.3 697.8" stroke="#151515" stroke-width="1.2" fill="none" stroke-linejoin="round"/>
<path d="M447.4 647.4 L458.8 655.0 L469.1 660.1 L492.1 669.7 L512.5 679.9 L531.6 683.8 L554.6 694.0 L570.7 697.2 L577.9 699.7 L597.7 707.4 L618.8 714.4 L637.3 709.9 L664.1 704.8 L704.3 703.6" stroke="#151515" stroke-width="1.2" fill="none" stroke-linejoin="round"/>
<path d="M447.4 652.5 L469.1 658.9 L481.8 665.2 L492.1 671.6 L512.5 683.1 L531.6 687.0 L540.6 692.1 L554.6 697.2 L570.7 702.3 L584.9 707.4 L597.7 713.8 L610.4 718.2 L618.8 720.8 L637.3 716.3 L662.8 712.5 L704.3 710.6" stroke="#151515" stroke-width="1.2" fill="none" stroke-linejoin="round"/>
<path d="M584.9 715.1 L591.3 720.8 L604.1 722.7 L618.8 723.4 L642.4 722.1 L655.1 717.6 L665.4 716.3" stroke="#151515" stroke-width="1.2" fill="none" stroke-linejoin="round"/>
<path d="M449.9 672.9 L449.9 667.8 L456.3 665.2 L469.1 665.2" stroke="#151515" stroke-width="1.2" fill="none" stroke-linejoin="round"/>
<path d="M485.7 697.8 L486.3 687.0 L494.6 681.8 L507.4 679.3 L517.6 679.3" stroke="#151515" stroke-width="1.2" fill="none" stroke-linejoin="round"/>
<path d="M541.2 720.2 L543.1 707.4 L548.2 702.3 L553.4 701.0 L558.5 704.8 L566.1 707.4" stroke="#151515" stroke-width="1.2" fill="none" stroke-linejoin="round"/>
<path d="M656.4 738.0 L657.7 729.1 L662.8 724.0 L704.3 723.4" stroke="#151515" stroke-width="1.2" fill="none" stroke-linejoin="round"/>
<path d="M689.6 598.2 L704.3 598.6" stroke="#151515" stroke-width="1.2" fill="none" stroke-linejoin="round"/>
<text x="483.1" y="648.5" font-size="23.00" text-anchor="middle" fill="#151515" stroke="#151515" stroke-width="0.3" transform="rotate(0 483.1 648.5)">20</text>
<text x="506.2" y="676.5" font-size="23.00" text-anchor="middle" fill="#151515" stroke="#151515" stroke-width="0.3" transform="rotate(22 506.2 676.5)">16</text>
<text x="572.2" y="718.0" font-size="23.00" text-anchor="middle" fill="#151515" stroke="#151515" stroke-width="0.3" transform="rotate(22 572.2 718.0)">12</text>
<path d="M435.2 651.2 L447.4 684.4 L469.1 710.0 L492.1 723.4 L512.5 729.1 L531.6 731.7 L554.6 743.1 L577.9 749.5 L618.8 749.5 L704.0 770.5" stroke="#000" stroke-width="4.4" fill="none" stroke-linejoin="round"/>
<rect x="434.6" y="598.2" width="270.4" height="204.4" fill="none" stroke="#4a4a4a" stroke-width="1.2"/>
<text x="424.9" y="606.2" font-size="22.30" text-anchor="end" fill="#262626" stroke="#262626" stroke-width="0.3">0</text>
<path d="M434.6 656.6 h3 M705.0 656.6 h-3" stroke="#4a4a4a" stroke-width="1.1"/>
<text x="424.9" y="664.6" font-size="22.30" text-anchor="end" fill="#262626" stroke="#262626" stroke-width="0.3">-10</text>
<path d="M434.6 715.0 h3 M705.0 715.0 h-3" stroke="#4a4a4a" stroke-width="1.1"/>
<text x="424.9" y="723.0" font-size="22.30" text-anchor="end" fill="#262626" stroke="#262626" stroke-width="0.3">-20</text>
<path d="M434.6 773.4 h3 M705.0 773.4 h-3" stroke="#4a4a4a" stroke-width="1.1"/>
<text x="424.9" y="781.4" font-size="22.30" text-anchor="end" fill="#262626" stroke="#262626" stroke-width="0.3">-30</text>
<path d="M447.2 802.6 v-3" stroke="#4a4a4a" stroke-width="1.1"/>
<path d="M576.1 802.6 v-3" stroke="#4a4a4a" stroke-width="1.1"/>
<text x="381.2" y="700.9" font-size="25.00" text-anchor="middle" fill="#262626" stroke="#262626" stroke-width="0.3" textLength="107.5" lengthAdjust="spacingAndGlyphs" transform="rotate(-90 381.2 700.9)">Depth [m]</text>
<text x="427.2" y="594.6" font-size="22.00" text-anchor="start" fill="#000" stroke="#000" stroke-width="0.3" textLength="237.0" lengthAdjust="spacingAndGlyphs">(f) Chlor. -- Sep-3-2020</text>
<rect x="444.6" y="785.6" width="100.5" height="8.8" fill="url(#g61)" stroke="#555" stroke-width="1"/>
<path d="M444.6 785.6 v1.6" stroke="#333" stroke-width="0.8"/>
<text x="444.6" y="772.7" font-size="20.80" text-anchor="middle" fill="#262626" stroke="#262626" stroke-width="0.3">0</text>
<path d="M494.9 785.6 v1.6" stroke="#333" stroke-width="0.8"/>
<text x="494.9" y="772.7" font-size="20.80" text-anchor="middle" fill="#262626" stroke="#262626" stroke-width="0.3">50</text>
<path d="M545.1 785.6 v1.6" stroke="#333" stroke-width="0.8"/>
<text x="545.9" y="772.7" font-size="20.80" text-anchor="middle" fill="#262626" stroke="#262626" stroke-width="0.3">100</text>
<text x="474.6" y="746.5" font-size="20.5" fill="#262626"><tspan font-family="Liberation Serif, serif" font-style="italic" font-size="21">µ</tspan>g/L</text>
<rect x="790.30" y="598.20" width="13.20" height="41.50" fill="url(#g62)" shape-rendering="crispEdges"/>
<rect x="803.50" y="598.20" width="22.00" height="75.30" fill="url(#g63)" shape-rendering="crispEdges"/>
<rect x="825.50" y="598.20" width="22.00" height="100.90" fill="url(#g64)" shape-rendering="crispEdges"/>
<rect x="847.50" y="598.20" width="20.70" height="113.70" fill="url(#g65)" shape-rendering="crispEdges"/>
<rect x="868.20" y="598.20" width="19.60" height="120.70" fill="url(#g66)" shape-rendering="crispEdges"/>
<rect x="887.80" y="598.20" width="22.60" height="123.60" fill="url(#g67)" shape-rendering="crispEdges"/>
<rect x="910.40" y="598.20" width="23.20" height="135.10" fill="url(#g68)" shape-rendering="crispEdges"/>
<rect x="933.60" y="598.20" width="40.90" height="140.50" fill="url(#g69)" shape-rendering="crispEdges"/>
<rect x="974.50" y="598.20" width="46.00" height="140.50" fill="url(#g70)" shape-rendering="crispEdges"/>
<rect x="1020.50" y="598.20" width="39.60" height="152.00" fill="url(#g71)" shape-rendering="crispEdges"/>
<path d="M790.3 611.6 L799.3 615.4 L804.4 620.5 L814.6 624.4 L821.0 632.0 L824.8 637.1 L827.1 639.1" stroke="#151515" stroke-width="1.2" fill="none" stroke-linejoin="round"/>
<path d="M851.0 637.1 L851.6 633.3 L852.3 621.8 L858.0 611.6 L863.1 604.6 L868.2 602.7 L878.5 605.9 L887.4 609.7 L907.8 606.5 L926.5 607.1 L935.5 607.1 L947.0 602.7 L959.8 599.5 L972.6 598.1" stroke="#151515" stroke-width="1.2" fill="none" stroke-linejoin="round"/>
<path d="M790.3 625.7 L803.1 632.0 L814.6 635.9 L824.8 646.1 L847.8 655.0 L868.2 657.6 L887.4 661.4 L909.1 658.9 L926.5 659.5 L934.3 660.1 L950.9 664.0 L958.5 671.6 L974.5 678.0 L1010.9 678.0 L1031.3 674.8 L1060.1 674.8" stroke="#151515" stroke-width="1.2" fill="none" stroke-linejoin="round"/>
<path d="M790.3 627.6 L803.1 634.6 L818.4 642.3 L824.8 648.6 L847.8 658.9 L858.0 664.0 L875.9 667.8 L888.7 672.3 L906.6 674.2 L910.4 678.0 L926.5 678.0 L939.4 678.0 L974.5 684.4 L1010.9 683.1 L1036.4 680.6 L1060.1 678.0" stroke="#151515" stroke-width="1.2" fill="none" stroke-linejoin="round"/>
<path d="M790.3 629.5 L803.1 636.5 L814.6 646.1 L824.8 651.2 L847.8 661.4 L868.2 671.6 L887.4 675.5 L910.4 679.3 L926.5 683.1 L934.3 684.4 L974.5 693.3 L998.1 689.5 L1023.7 688.2 L1060.1 686.3" stroke="#151515" stroke-width="1.2" fill="none" stroke-linejoin="round"/>
<path d="M790.3 631.4 L803.1 639.1 L812.0 648.6 L824.8 654.4 L847.8 664.6 L868.2 674.2 L887.4 678.7 L910.4 684.4 L926.5 688.2 L933.6 691.4 L953.4 694.6 L974.5 701.0 L998.1 695.9 L1018.6 694.0 L1060.1 692.7" stroke="#151515" stroke-width="1.2" fill="none" stroke-linejoin="round"/>
<path d="M803.1 643.5 L812.0 652.5 L824.8 657.6 L847.8 667.2 L868.2 676.7 L887.4 681.2 L910.4 689.5 L926.5 693.3 L933.6 695.9 L953.4 701.0 L974.5 708.7 L993.0 703.6 L1018.6 699.1 L1060.1 697.8" stroke="#151515" stroke-width="1.2" fill="none" stroke-linejoin="round"/>
<path d="M803.1 647.4 L814.6 655.0 L824.8 660.1 L847.8 669.7 L868.2 679.9 L887.4 683.8 L910.4 694.0 L926.5 697.2 L933.6 699.7 L953.4 707.4 L974.5 714.4 L993.0 709.9 L1019.8 704.8 L1060.1 703.6" stroke="#151515" stroke-width="1.2" fill="none" stroke-linejoin="round"/>
<path d="M803.1 652.5 L824.8 658.9 L837.6 665.2 L847.8 671.6 L868.2 683.1 L887.4 687.0 L896.3 692.1 L910.4 697.2 L926.5 702.3 L940.7 707.4 L953.4 713.8 L966.2 718.2 L974.5 720.8 L993.0 716.3 L1018.6 712.5 L1060.1 710.6" stroke="#151515" stroke-width="1.2" fill="none" stroke-linejoin="round"/>
<path d="M940.7 715.1 L947.0 720.8 L959.8 722.7 L974.5 723.4 L998.1 722.1 L1010.9 717.6 L1021.1 716.3" stroke="#151515" stroke-width="1.2" fill="none" stroke-linejoin="round"/>
<path d="M805.7 672.9 L805.7 667.8 L812.0 665.2 L824.8 665.2" stroke="#151515" stroke-width="1.2" fill="none" stroke-linejoin="round"/>
<path d="M841.4 697.8 L842.1 687.0 L850.4 681.8 L863.1 679.3 L873.3 679.3" stroke="#151515" stroke-width="1.2" fill="none" stroke-linejoin="round"/>
<path d="M897.0 720.2 L898.9 707.4 L904.0 702.3 L909.1 701.0 L914.2 704.8 L921.9 707.4" stroke="#151515" stroke-width="1.2" fill="none" stroke-linejoin="round"/>
<path d="M1012.2 738.0 L1013.5 729.1 L1018.6 724.0 L1060.1 723.4" stroke="#151515" stroke-width="1.2" fill="none" stroke-linejoin="round"/>
<path d="M1045.4 598.2 L1060.1 598.6" stroke="#151515" stroke-width="1.2" fill="none" stroke-linejoin="round"/>
<text x="838.9" y="648.5" font-size="23.00" text-anchor="middle" fill="#151515" stroke="#151515" stroke-width="0.3" transform="rotate(0 838.9 648.5)">20</text>
<text x="862.0" y="676.5" font-size="23.00" text-anchor="middle" fill="#151515" stroke="#151515" stroke-width="0.3" transform="rotate(22 862.0 676.5)">16</text>
<text x="928.0" y="718.0" font-size="23.00" text-anchor="middle" fill="#151515" stroke="#151515" stroke-width="0.3" transform="rotate(22 928.0 718.0)">12</text>
<path d="M791.0 651.2 L803.1 684.4 L824.8 710.0 L847.8 723.4 L868.2 729.1 L887.4 731.7 L910.4 743.1 L933.6 749.5 L974.5 749.5 L1059.8 770.5" stroke="#000" stroke-width="4.4" fill="none" stroke-linejoin="round"/>
<rect x="790.3" y="598.2" width="270.4" height="204.4" fill="none" stroke="#4a4a4a" stroke-width="1.2"/>
<text x="780.6" y="606.2" font-size="22.30" text-anchor="end" fill="#262626" stroke="#262626" stroke-width="0.3">0</text>
<path d="M790.3 656.6 h3 M1060.7 656.6 h-3" stroke="#4a4a4a" stroke-width="1.1"/>
<text x="780.6" y="664.6" font-size="22.30" text-anchor="end" fill="#262626" stroke="#262626" stroke-width="0.3">-10</text>
<path d="M790.3 715.0 h3 M1060.7 715.0 h-3" stroke="#4a4a4a" stroke-width="1.1"/>
<text x="780.6" y="723.0" font-size="22.30" text-anchor="end" fill="#262626" stroke="#262626" stroke-width="0.3">-20</text>
<path d="M790.3 773.4 h3 M1060.7 773.4 h-3" stroke="#4a4a4a" stroke-width="1.1"/>
<text x="780.6" y="781.4" font-size="22.30" text-anchor="end" fill="#262626" stroke="#262626" stroke-width="0.3">-30</text>
<path d="M803.0 802.6 v-3" stroke="#4a4a4a" stroke-width="1.1"/>
<path d="M931.9 802.6 v-3" stroke="#4a4a4a" stroke-width="1.1"/>
<text x="736.9" y="700.9" font-size="25.00" text-anchor="middle" fill="#262626" stroke="#262626" stroke-width="0.3" textLength="107.5" lengthAdjust="spacingAndGlyphs" transform="rotate(-90 736.9 700.9)">Depth [m]</text>
<text x="783.0" y="594.6" font-size="22.00" text-anchor="start" fill="#000" stroke="#000" stroke-width="0.3" textLength="235.0" lengthAdjust="spacingAndGlyphs">(g) OBS. -- Sep-3-2020</text>
<rect x="800.5" y="785.6" width="100.5" height="8.8" fill="url(#g72)" stroke="#555" stroke-width="1"/>
<path d="M800.5 785.6 v1.6" stroke="#333" stroke-width="0.8"/>
<text x="800.5" y="772.7" font-size="20.80" text-anchor="middle" fill="#262626" stroke="#262626" stroke-width="0.3">0</text>
<path d="M901.0 785.6 v1.6" stroke="#333" stroke-width="0.8"/>
<text x="901.0" y="772.7" font-size="20.80" text-anchor="middle" fill="#262626" stroke="#262626" stroke-width="0.3">5</text>
<text x="830.5" y="746.5" font-size="20.5" fill="#262626">NTU</text>
<rect x="88.20" y="881.30" width="12.80" height="69.50" fill="url(#g73)" shape-rendering="crispEdges"/>
<rect x="101.00" y="881.30" width="19.10" height="90.60" fill="url(#g74)" shape-rendering="crispEdges"/>
<rect x="120.10" y="881.30" width="19.20" height="104.60" fill="url(#g75)" shape-rendering="crispEdges"/>
<rect x="139.30" y="881.30" width="19.80" height="110.40" fill="url(#g76)" shape-rendering="crispEdges"/>
<rect x="159.10" y="881.30" width="19.80" height="114.80" fill="url(#g77)" shape-rendering="crispEdges"/>
<rect x="178.90" y="881.30" width="19.10" height="123.80" fill="url(#g78)" shape-rendering="crispEdges"/>
<rect x="198.00" y="881.30" width="18.60" height="130.20" fill="url(#g79)" shape-rendering="crispEdges"/>
<rect x="216.60" y="881.30" width="21.10" height="133.40" fill="url(#g80)" shape-rendering="crispEdges"/>
<rect x="237.70" y="881.30" width="18.50" height="127.60" fill="url(#g81)" shape-rendering="crispEdges"/>
<rect x="256.20" y="881.30" width="38.90" height="140.40" fill="url(#g82)" shape-rendering="crispEdges"/>
<rect x="295.10" y="881.30" width="38.90" height="151.90" fill="url(#g83)" shape-rendering="crispEdges"/>
<path d="M88.2 883.1 L97.8 885.0 L101.0 890.1 L115.0 892.0 L120.1 901.0 L139.9 901.6 L159.1 897.2 L178.9 892.7 L199.9 889.5 L216.6 883.7 L257.5 882.9 L303.4 882.1" stroke="#f5e9e6" stroke-width="1.1" fill="none" stroke-linejoin="round"/>
<path d="M88.2 887.6 L97.8 892.0 L104.2 897.2 L110.5 899.1 L114.4 904.8 L123.3 906.7 L139.9 912.5 L159.1 909.9 L178.9 912.5 L198.0 917.0 L216.6 913.1 L225.5 906.1 L237.0 901.0 L254.9 900.3" stroke="#f5e9e6" stroke-width="1.1" fill="none" stroke-linejoin="round"/>
<path d="M279.2 901.0 L302.2 902.3 L333.5 901.6" stroke="#f5e9e6" stroke-width="1.1" fill="none" stroke-linejoin="round"/>
<path d="M88.2 892.0 L97.8 897.2 L108.0 903.5 L123.3 908.7 L139.9 915.0 L159.1 916.3 L178.9 921.4 L198.0 927.2 L216.6 929.1 L225.5 925.9 L247.3 922.7 L257.5 917.6 L274.1 913.8 L289.4 909.3 L314.9 910.6 L333.5 911.2" stroke="#f5e9e6" stroke-width="1.1" fill="none" stroke-linejoin="round"/>
<path d="M88.2 897.2 L97.8 902.3 L110.5 907.4 L123.3 911.2 L139.9 917.6 L159.1 918.9 L178.9 924.6 L198.0 930.4 L216.6 931.0 L238.3 928.4 L254.9 934.2 L276.6 936.1 L303.4 935.5 L311.1 930.4 L322.6 926.5 L333.5 924.6" stroke="#f5e9e6" stroke-width="1.1" fill="none" stroke-linejoin="round"/>
<path d="M88.2 901.0 L101.6 907.4 L120.1 912.5 L139.9 920.1 L159.1 921.4 L178.9 927.2 L198.0 931.6 L216.6 934.2 L238.3 935.5 L254.9 940.6 L263.9 941.9" stroke="#f5e9e6" stroke-width="1.1" fill="none" stroke-linejoin="round"/>
<path d="M283.0 943.1 L333.5 944.4" stroke="#f5e9e6" stroke-width="1.1" fill="none" stroke-linejoin="round"/>
<path d="M88.2 903.5 L101.6 909.3 L120.1 915.0 L136.1 922.7 L139.9 924.6 L159.1 923.3 L178.9 929.1 L198.0 933.6 L216.6 936.7 L238.3 937.4 L251.1 942.5 L263.9 944.4" stroke="#f5e9e6" stroke-width="1.1" fill="none" stroke-linejoin="round"/>
<path d="M283.0 945.4 L333.5 948.9" stroke="#f5e9e6" stroke-width="1.1" fill="none" stroke-linejoin="round"/>
<path d="M88.2 908.7 L101.0 910.6 L120.1 917.0 L139.9 926.5 L159.1 925.9 L178.9 931.6 L198.0 936.1 L216.6 939.3 L238.3 941.9 L257.5 946.3 L284.3 947.6 L333.5 952.1" stroke="#f5e9e6" stroke-width="1.1" fill="none" stroke-linejoin="round"/>
<path d="M101.0 915.7 L120.1 918.9 L139.9 929.1 L159.1 927.8 L178.9 934.8 L198.0 939.3 L216.6 943.1 L238.3 945.7 L257.5 949.5 L284.3 949.5 L302.2 950.8 L333.5 954.6" stroke="#f5e9e6" stroke-width="1.1" fill="none" stroke-linejoin="round"/>
<path d="M120.1 922.7 L139.9 930.4 L159.1 930.4 L178.9 938.0 L198.0 943.1 L216.6 951.4 L238.3 950.2 L257.5 954.6 L281.7 954.6 L302.2 955.9 L314.9 958.5 L333.5 961.0" stroke="#f5e9e6" stroke-width="1.1" fill="none" stroke-linejoin="round"/>
<path d="M159.1 940.6 L179.5 940.6 L198.0 947.0 L216.6 953.4 L238.3 954.6 L257.5 959.7 L267.7 961.3" stroke="#f5e9e6" stroke-width="1.1" fill="none" stroke-linejoin="round"/>
<path d="M286.8 962.3 L302.2 961.0 L309.8 964.8 L333.5 969.3" stroke="#f5e9e6" stroke-width="1.1" fill="none" stroke-linejoin="round"/>
<path d="M159.1 947.0 L178.9 952.1 L198.0 953.4 L216.6 956.5 L238.3 958.5 L254.9 964.8 L267.7 966.1" stroke="#f5e9e6" stroke-width="1.1" fill="none" stroke-linejoin="round"/>
<path d="M286.8 967.4 L309.8 970.6 L333.5 976.3" stroke="#f5e9e6" stroke-width="1.1" fill="none" stroke-linejoin="round"/>
<path d="M200.0 957.8 L216.6 961.0 L233.2 966.1 L254.9 968.0 L269.0 970.6" stroke="#f5e9e6" stroke-width="1.1" fill="none" stroke-linejoin="round"/>
<path d="M288.1 973.8 L309.8 978.9 L333.5 984.0" stroke="#f5e9e6" stroke-width="1.1" fill="none" stroke-linejoin="round"/>
<path d="M101.6 927.2 L108.0 923.3 L120.1 921.4" stroke="#f5e9e6" stroke-width="1.1" fill="none" stroke-linejoin="round"/>
<path d="M101.6 931.6 L120.1 930.4" stroke="#f5e9e6" stroke-width="1.1" fill="none" stroke-linejoin="round"/>
<path d="M101.6 939.3 L120.1 938.0 L139.9 941.9 L159.1 939.9" stroke="#f5e9e6" stroke-width="1.1" fill="none" stroke-linejoin="round"/>
<path d="M120.1 957.8 L139.9 954.6 L146.3 950.2 L159.1 947.0" stroke="#f5e9e6" stroke-width="1.1" fill="none" stroke-linejoin="round"/>
<path d="M160.4 990.4 L161.0 984.0 L165.5 973.8 L168.0 964.8 L178.2 961.7 L198.0 961.0 L216.5 962.3 L225.0 963.6" stroke="#f5e9e6" stroke-width="1.1" fill="none" stroke-linejoin="round"/>
<path d="M275.4 1008.3 L277.9 1000.6 L286.8 997.4 L299.6 995.5 L302.2 993.6 L333.5 992.3" stroke="#f5e9e6" stroke-width="1.1" fill="none" stroke-linejoin="round"/>
<text x="267.0" y="908.5" font-size="23.00" text-anchor="middle" fill="#ffffff" stroke="#ffffff" stroke-width="0.3" transform="rotate(0 267.0 908.5)">20</text>
<text x="272.8" y="952.5" font-size="23.00" text-anchor="middle" fill="#ffffff" stroke="#ffffff" stroke-width="0.3" transform="rotate(0 272.8 952.5)">16</text>
<text x="276.6" y="973.5" font-size="23.00" text-anchor="middle" fill="#ffffff" stroke="#ffffff" stroke-width="0.3" transform="rotate(10 276.6 973.5)">12</text>
<path d="M88.2 926.5 L101.0 961.0 L120.1 984.0 L139.3 996.1 L159.1 1001.9 L178.9 1007.0 L198.0 1015.9 L216.5 1021.7 L237.7 1026.1 L256.2 1019.8 L295.1 1032.5 L334.0 1044.3" stroke="#000" stroke-width="4.4" fill="none" stroke-linejoin="round"/>
<rect x="87.8" y="881.3" width="246.4" height="205.3" fill="none" stroke="#4a4a4a" stroke-width="1.2"/>
<text x="78.1" y="889.3" font-size="22.30" text-anchor="end" fill="#262626" stroke="#262626" stroke-width="0.3">0</text>
<path d="M87.8 940.0 h3 M334.2 940.0 h-3" stroke="#4a4a4a" stroke-width="1.1"/>
<text x="78.1" y="948.0" font-size="22.30" text-anchor="end" fill="#262626" stroke="#262626" stroke-width="0.3">-10</text>
<path d="M87.8 998.6 h3 M334.2 998.6 h-3" stroke="#4a4a4a" stroke-width="1.1"/>
<text x="78.1" y="1006.6" font-size="22.30" text-anchor="end" fill="#262626" stroke="#262626" stroke-width="0.3">-20</text>
<path d="M87.8 1057.3 h3 M334.2 1057.3 h-3" stroke="#4a4a4a" stroke-width="1.1"/>
<text x="78.1" y="1065.3" font-size="22.30" text-anchor="end" fill="#262626" stroke="#262626" stroke-width="0.3">-30</text>
<path d="M99.5 1086.6 v-3" stroke="#4a4a4a" stroke-width="1.1"/>
<path d="M216.9 1086.6 v-3" stroke="#4a4a4a" stroke-width="1.1"/>
<text x="34.4" y="984.4" font-size="25.00" text-anchor="middle" fill="#262626" stroke="#262626" stroke-width="0.3" textLength="107.5" lengthAdjust="spacingAndGlyphs" transform="rotate(-90 34.4 984.4)">Depth [m]</text>
<text x="80.5" y="877.7" font-size="22.00" text-anchor="start" fill="#000" stroke="#000" stroke-width="0.3" textLength="227.0" lengthAdjust="spacingAndGlyphs">(h) DO -- Sep-10-2020</text>
<rect x="98.0" y="1068.9" width="100.5" height="8.8" fill="url(#g84)" stroke="#555" stroke-width="1"/>
<path d="M112.4 1068.9 v1.6" stroke="#333" stroke-width="0.8"/>
<text x="112.4" y="1056.0" font-size="20.80" text-anchor="middle" fill="#262626" stroke="#262626" stroke-width="0.3">2</text>
<path d="M141.1 1068.9 v1.6" stroke="#333" stroke-width="0.8"/>
<text x="141.1" y="1056.0" font-size="20.80" text-anchor="middle" fill="#262626" stroke="#262626" stroke-width="0.3">4</text>
<path d="M169.8 1068.9 v1.6" stroke="#333" stroke-width="0.8"/>
<text x="169.8" y="1056.0" font-size="20.80" text-anchor="middle" fill="#262626" stroke="#262626" stroke-width="0.3">6</text>
<path d="M198.5 1068.9 v1.6" stroke="#333" stroke-width="0.8"/>
<text x="198.5" y="1056.0" font-size="20.80" text-anchor="middle" fill="#262626" stroke="#262626" stroke-width="0.3">8</text>
<text x="124.0" y="1029.8" font-size="21.5" fill="#262626">mg/L</text>
<rect x="443.80" y="881.30" width="12.80" height="69.50" fill="url(#g85)" shape-rendering="crispEdges"/>
<rect x="456.60" y="881.30" width="19.10" height="90.60" fill="url(#g86)" shape-rendering="crispEdges"/>
<rect x="475.70" y="881.30" width="19.20" height="104.60" fill="url(#g87)" shape-rendering="crispEdges"/>
<rect x="494.90" y="881.30" width="19.80" height="110.40" fill="url(#g88)" shape-rendering="crispEdges"/>
<rect x="514.70" y="881.30" width="19.80" height="114.80" fill="url(#g89)" shape-rendering="crispEdges"/>
<rect x="534.50" y="881.30" width="19.10" height="123.80" fill="url(#g90)" shape-rendering="crispEdges"/>
<rect x="553.60" y="881.30" width="18.60" height="130.20" fill="url(#g91)" shape-rendering="crispEdges"/>
<rect x="572.20" y="881.30" width="21.10" height="133.40" fill="url(#g92)" shape-rendering="crispEdges"/>
<rect x="593.30" y="881.30" width="18.50" height="127.60" fill="url(#g93)" shape-rendering="crispEdges"/>
<rect x="611.80" y="881.30" width="38.90" height="140.40" fill="url(#g94)" shape-rendering="crispEdges"/>
<rect x="650.70" y="881.30" width="38.90" height="151.90" fill="url(#g95)" shape-rendering="crispEdges"/>
<path d="M443.8 883.1 L453.4 885.0 L456.6 890.1 L470.6 892.0 L475.7 901.0 L495.5 901.6 L514.7 897.2 L534.5 892.7 L555.5 889.5 L572.2 883.7 L613.1 882.9 L659.0 882.1" stroke="#151515" stroke-width="1.2" fill="none" stroke-linejoin="round"/>
<path d="M443.8 887.6 L453.4 892.0 L459.8 897.2 L466.1 899.1 L470.0 904.8 L478.9 906.7 L495.5 912.5 L514.7 909.9 L534.5 912.5 L553.6 917.0 L572.2 913.1 L581.1 906.1 L592.6 901.0 L610.5 900.3" stroke="#151515" stroke-width="1.2" fill="none" stroke-linejoin="round"/>
<path d="M634.8 901.0 L657.8 902.3 L689.1 901.6" stroke="#151515" stroke-width="1.2" fill="none" stroke-linejoin="round"/>
<path d="M443.8 892.0 L453.4 897.2 L463.6 903.5 L478.9 908.7 L495.5 915.0 L514.7 916.3 L534.5 921.4 L553.6 927.2 L572.2 929.1 L581.1 925.9 L602.9 922.7 L613.1 917.6 L629.7 913.8 L645.0 909.3 L670.5 910.6 L689.1 911.2" stroke="#151515" stroke-width="1.2" fill="none" stroke-linejoin="round"/>
<path d="M443.8 897.2 L453.4 902.3 L466.1 907.4 L478.9 911.2 L495.5 917.6 L514.7 918.9 L534.5 924.6 L553.6 930.4 L572.2 931.0 L593.9 928.4 L610.5 934.2 L632.2 936.1 L659.0 935.5 L666.7 930.4 L678.2 926.5 L689.1 924.6" stroke="#151515" stroke-width="1.2" fill="none" stroke-linejoin="round"/>
<path d="M443.8 901.0 L457.2 907.4 L475.7 912.5 L495.5 920.1 L514.7 921.4 L534.5 927.2 L553.6 931.6 L572.2 934.2 L593.9 935.5 L610.5 940.6 L619.5 941.9" stroke="#151515" stroke-width="1.2" fill="none" stroke-linejoin="round"/>
<path d="M638.6 943.1 L689.1 944.4" stroke="#151515" stroke-width="1.2" fill="none" stroke-linejoin="round"/>
<path d="M443.8 903.5 L457.2 909.3 L475.7 915.0 L491.7 922.7 L495.5 924.6 L514.7 923.3 L534.5 929.1 L553.6 933.6 L572.2 936.7 L593.9 937.4 L606.7 942.5 L619.5 944.4" stroke="#151515" stroke-width="1.2" fill="none" stroke-linejoin="round"/>
<path d="M638.6 945.4 L689.1 948.9" stroke="#151515" stroke-width="1.2" fill="none" stroke-linejoin="round"/>
<path d="M443.8 908.7 L456.6 910.6 L475.7 917.0 L495.5 926.5 L514.7 925.9 L534.5 931.6 L553.6 936.1 L572.2 939.3 L593.9 941.9 L613.1 946.3 L639.9 947.6 L689.1 952.1" stroke="#151515" stroke-width="1.2" fill="none" stroke-linejoin="round"/>
<path d="M456.6 915.7 L475.7 918.9 L495.5 929.1 L514.7 927.8 L534.5 934.8 L553.6 939.3 L572.2 943.1 L593.9 945.7 L613.1 949.5 L639.9 949.5 L657.8 950.8 L689.1 954.6" stroke="#151515" stroke-width="1.2" fill="none" stroke-linejoin="round"/>
<path d="M475.7 922.7 L495.5 930.4 L514.7 930.4 L534.5 938.0 L553.6 943.1 L572.2 951.4 L593.9 950.2 L613.1 954.6 L637.3 954.6 L657.8 955.9 L670.5 958.5 L689.1 961.0" stroke="#151515" stroke-width="1.2" fill="none" stroke-linejoin="round"/>
<path d="M514.7 940.6 L535.1 940.6 L553.6 947.0 L572.2 953.4 L593.9 954.6 L613.1 959.7 L623.3 961.3" stroke="#151515" stroke-width="1.2" fill="none" stroke-linejoin="round"/>
<path d="M642.4 962.3 L657.8 961.0 L665.4 964.8 L689.1 969.3" stroke="#151515" stroke-width="1.2" fill="none" stroke-linejoin="round"/>
<path d="M514.7 947.0 L534.5 952.1 L553.6 953.4 L572.2 956.5 L593.9 958.5 L610.5 964.8 L623.3 966.1" stroke="#151515" stroke-width="1.2" fill="none" stroke-linejoin="round"/>
<path d="M642.4 967.4 L665.4 970.6 L689.1 976.3" stroke="#151515" stroke-width="1.2" fill="none" stroke-linejoin="round"/>
<path d="M555.6 957.8 L572.2 961.0 L588.8 966.1 L610.5 968.0 L624.6 970.6" stroke="#151515" stroke-width="1.2" fill="none" stroke-linejoin="round"/>
<path d="M643.7 973.8 L665.4 978.9 L689.1 984.0" stroke="#151515" stroke-width="1.2" fill="none" stroke-linejoin="round"/>
<path d="M457.2 927.2 L463.6 923.3 L475.7 921.4" stroke="#151515" stroke-width="1.2" fill="none" stroke-linejoin="round"/>
<path d="M457.2 931.6 L475.7 930.4" stroke="#151515" stroke-width="1.2" fill="none" stroke-linejoin="round"/>
<path d="M457.2 939.3 L475.7 938.0 L495.5 941.9 L514.7 939.9" stroke="#151515" stroke-width="1.2" fill="none" stroke-linejoin="round"/>
<path d="M475.7 957.8 L495.5 954.6 L501.9 950.2 L514.7 947.0" stroke="#151515" stroke-width="1.2" fill="none" stroke-linejoin="round"/>
<path d="M516.0 990.4 L516.6 984.0 L521.1 973.8 L523.6 964.8 L533.8 961.7 L553.6 961.0 L572.1 962.3 L580.6 963.6" stroke="#151515" stroke-width="1.2" fill="none" stroke-linejoin="round"/>
<path d="M631.0 1008.3 L633.5 1000.6 L642.4 997.4 L655.2 995.5 L657.8 993.6 L689.1 992.3" stroke="#151515" stroke-width="1.2" fill="none" stroke-linejoin="round"/>
<text x="622.6" y="908.5" font-size="23.00" text-anchor="middle" fill="#151515" stroke="#151515" stroke-width="0.3" transform="rotate(0 622.6 908.5)">20</text>
<text x="628.4" y="952.5" font-size="23.00" text-anchor="middle" fill="#151515" stroke="#151515" stroke-width="0.3" transform="rotate(0 628.4 952.5)">16</text>
<text x="632.2" y="973.5" font-size="23.00" text-anchor="middle" fill="#151515" stroke="#151515" stroke-width="0.3" transform="rotate(10 632.2 973.5)">12</text>
<path d="M443.8 926.5 L456.6 961.0 L475.7 984.0 L494.9 996.1 L514.7 1001.9 L534.5 1007.0 L553.6 1015.9 L572.1 1021.7 L593.3 1026.1 L611.8 1019.8 L650.7 1032.5 L689.6 1044.3" stroke="#000" stroke-width="4.4" fill="none" stroke-linejoin="round"/>
<rect x="443.4" y="881.3" width="246.4" height="205.3" fill="none" stroke="#4a4a4a" stroke-width="1.2"/>
<text x="433.7" y="889.3" font-size="22.30" text-anchor="end" fill="#262626" stroke="#262626" stroke-width="0.3">0</text>
<path d="M443.4 940.0 h3 M689.8 940.0 h-3" stroke="#4a4a4a" stroke-width="1.1"/>
<text x="433.7" y="948.0" font-size="22.30" text-anchor="end" fill="#262626" stroke="#262626" stroke-width="0.3">-10</text>
<path d="M443.4 998.6 h3 M689.8 998.6 h-3" stroke="#4a4a4a" stroke-width="1.1"/>
<text x="433.7" y="1006.6" font-size="22.30" text-anchor="end" fill="#262626" stroke="#262626" stroke-width="0.3">-20</text>
<path d="M443.4 1057.3 h3 M689.8 1057.3 h-3" stroke="#4a4a4a" stroke-width="1.1"/>
<text x="433.7" y="1065.3" font-size="22.30" text-anchor="end" fill="#262626" stroke="#262626" stroke-width="0.3">-30</text>
<path d="M455.1 1086.6 v-3" stroke="#4a4a4a" stroke-width="1.1"/>
<path d="M572.5 1086.6 v-3" stroke="#4a4a4a" stroke-width="1.1"/>
<text x="390.0" y="984.4" font-size="25.00" text-anchor="middle" fill="#262626" stroke="#262626" stroke-width="0.3" textLength="107.5" lengthAdjust="spacingAndGlyphs" transform="rotate(-90 390.0 984.4)">Depth [m]</text>
<text x="436.1" y="877.7" font-size="22.00" text-anchor="start" fill="#000" stroke="#000" stroke-width="0.3" textLength="247.0" lengthAdjust="spacingAndGlyphs">(i) Chlor. -- Sep-10-2020</text>
<rect x="453.6" y="1068.9" width="100.5" height="8.8" fill="url(#g96)" stroke="#555" stroke-width="1"/>
<path d="M453.6 1068.9 v1.6" stroke="#333" stroke-width="0.8"/>
<text x="453.6" y="1056.0" font-size="20.80" text-anchor="middle" fill="#262626" stroke="#262626" stroke-width="0.3">0</text>
<path d="M503.9 1068.9 v1.6" stroke="#333" stroke-width="0.8"/>
<text x="503.9" y="1056.0" font-size="20.80" text-anchor="middle" fill="#262626" stroke="#262626" stroke-width="0.3">50</text>
<path d="M554.1 1068.9 v1.6" stroke="#333" stroke-width="0.8"/>
<text x="554.9" y="1056.0" font-size="20.80" text-anchor="middle" fill="#262626" stroke="#262626" stroke-width="0.3">100</text>
<text x="483.6" y="1029.8" font-size="20.5" fill="#262626"><tspan font-family="Liberation Serif, serif" font-style="italic" font-size="21">µ</tspan>g/L</text>
<rect x="799.30" y="881.30" width="12.80" height="69.50" fill="url(#g97)" shape-rendering="crispEdges"/>
<rect x="812.10" y="881.30" width="19.10" height="90.60" fill="url(#g98)" shape-rendering="crispEdges"/>
<rect x="831.20" y="881.30" width="19.20" height="104.60" fill="url(#g99)" shape-rendering="crispEdges"/>
<rect x="850.40" y="881.30" width="19.80" height="110.40" fill="url(#g100)" shape-rendering="crispEdges"/>
<rect x="870.20" y="881.30" width="19.80" height="114.80" fill="url(#g101)" shape-rendering="crispEdges"/>
<rect x="890.00" y="881.30" width="19.10" height="123.80" fill="url(#g102)" shape-rendering="crispEdges"/>
<rect x="909.10" y="881.30" width="18.60" height="130.20" fill="url(#g103)" shape-rendering="crispEdges"/>
<rect x="927.70" y="881.30" width="21.10" height="133.40" fill="url(#g104)" shape-rendering="crispEdges"/>
<rect x="948.80" y="881.30" width="18.50" height="127.60" fill="url(#g105)" shape-rendering="crispEdges"/>
<rect x="967.30" y="881.30" width="38.90" height="140.40" fill="url(#g106)" shape-rendering="crispEdges"/>
<rect x="1006.20" y="881.30" width="38.90" height="151.90" fill="url(#g107)" shape-rendering="crispEdges"/>
<path d="M799.3 883.1 L808.9 885.0 L812.1 890.1 L826.1 892.0 L831.2 901.0 L851.0 901.6 L870.2 897.2 L890.0 892.7 L911.0 889.5 L927.7 883.7 L968.6 882.9 L1014.5 882.1" stroke="#151515" stroke-width="1.2" fill="none" stroke-linejoin="round"/>
<path d="M799.3 887.6 L808.9 892.0 L815.3 897.2 L821.6 899.1 L825.5 904.8 L834.4 906.7 L851.0 912.5 L870.2 909.9 L890.0 912.5 L909.1 917.0 L927.7 913.1 L936.6 906.1 L948.1 901.0 L966.0 900.3" stroke="#151515" stroke-width="1.2" fill="none" stroke-linejoin="round"/>
<path d="M990.3 901.0 L1013.3 902.3 L1044.6 901.6" stroke="#151515" stroke-width="1.2" fill="none" stroke-linejoin="round"/>
<path d="M799.3 892.0 L808.9 897.2 L819.1 903.5 L834.4 908.7 L851.0 915.0 L870.2 916.3 L890.0 921.4 L909.1 927.2 L927.7 929.1 L936.6 925.9 L958.4 922.7 L968.6 917.6 L985.2 913.8 L1000.5 909.3 L1026.0 910.6 L1044.6 911.2" stroke="#151515" stroke-width="1.2" fill="none" stroke-linejoin="round"/>
<path d="M799.3 897.2 L808.9 902.3 L821.6 907.4 L834.4 911.2 L851.0 917.6 L870.2 918.9 L890.0 924.6 L909.1 930.4 L927.7 931.0 L949.4 928.4 L966.0 934.2 L987.7 936.1 L1014.5 935.5 L1022.2 930.4 L1033.7 926.5 L1044.6 924.6" stroke="#151515" stroke-width="1.2" fill="none" stroke-linejoin="round"/>
<path d="M799.3 901.0 L812.7 907.4 L831.2 912.5 L851.0 920.1 L870.2 921.4 L890.0 927.2 L909.1 931.6 L927.7 934.2 L949.4 935.5 L966.0 940.6 L975.0 941.9" stroke="#151515" stroke-width="1.2" fill="none" stroke-linejoin="round"/>
<path d="M994.1 943.1 L1044.6 944.4" stroke="#151515" stroke-width="1.2" fill="none" stroke-linejoin="round"/>
<path d="M799.3 903.5 L812.7 909.3 L831.2 915.0 L847.2 922.7 L851.0 924.6 L870.2 923.3 L890.0 929.1 L909.1 933.6 L927.7 936.7 L949.4 937.4 L962.2 942.5 L975.0 944.4" stroke="#151515" stroke-width="1.2" fill="none" stroke-linejoin="round"/>
<path d="M994.1 945.4 L1044.6 948.9" stroke="#151515" stroke-width="1.2" fill="none" stroke-linejoin="round"/>
<path d="M799.3 908.7 L812.1 910.6 L831.2 917.0 L851.0 926.5 L870.2 925.9 L890.0 931.6 L909.1 936.1 L927.7 939.3 L949.4 941.9 L968.6 946.3 L995.4 947.6 L1044.6 952.1" stroke="#151515" stroke-width="1.2" fill="none" stroke-linejoin="round"/>
<path d="M812.1 915.7 L831.2 918.9 L851.0 929.1 L870.2 927.8 L890.0 934.8 L909.1 939.3 L927.7 943.1 L949.4 945.7 L968.6 949.5 L995.4 949.5 L1013.3 950.8 L1044.6 954.6" stroke="#151515" stroke-width="1.2" fill="none" stroke-linejoin="round"/>
<path d="M831.2 922.7 L851.0 930.4 L870.2 930.4 L890.0 938.0 L909.1 943.1 L927.7 951.4 L949.4 950.2 L968.6 954.6 L992.8 954.6 L1013.3 955.9 L1026.0 958.5 L1044.6 961.0" stroke="#151515" stroke-width="1.2" fill="none" stroke-linejoin="round"/>
<path d="M870.2 940.6 L890.6 940.6 L909.1 947.0 L927.7 953.4 L949.4 954.6 L968.6 959.7 L978.8 961.3" stroke="#151515" stroke-width="1.2" fill="none" stroke-linejoin="round"/>
<path d="M997.9 962.3 L1013.3 961.0 L1020.9 964.8 L1044.6 969.3" stroke="#151515" stroke-width="1.2" fill="none" stroke-linejoin="round"/>
<path d="M870.2 947.0 L890.0 952.1 L909.1 953.4 L927.7 956.5 L949.4 958.5 L966.0 964.8 L978.8 966.1" stroke="#151515" stroke-width="1.2" fill="none" stroke-linejoin="round"/>
<path d="M997.9 967.4 L1020.9 970.6 L1044.6 976.3" stroke="#151515" stroke-width="1.2" fill="none" stroke-linejoin="round"/>
<path d="M911.1 957.8 L927.7 961.0 L944.3 966.1 L966.0 968.0 L980.1 970.6" stroke="#151515" stroke-width="1.2" fill="none" stroke-linejoin="round"/>
<path d="M999.2 973.8 L1020.9 978.9 L1044.6 984.0" stroke="#151515" stroke-width="1.2" fill="none" stroke-linejoin="round"/>
<path d="M812.7 927.2 L819.1 923.3 L831.2 921.4" stroke="#151515" stroke-width="1.2" fill="none" stroke-linejoin="round"/>
<path d="M812.7 931.6 L831.2 930.4" stroke="#151515" stroke-width="1.2" fill="none" stroke-linejoin="round"/>
<path d="M812.7 939.3 L831.2 938.0 L851.0 941.9 L870.2 939.9" stroke="#151515" stroke-width="1.2" fill="none" stroke-linejoin="round"/>
<path d="M831.2 957.8 L851.0 954.6 L857.4 950.2 L870.2 947.0" stroke="#151515" stroke-width="1.2" fill="none" stroke-linejoin="round"/>
<path d="M871.5 990.4 L872.1 984.0 L876.6 973.8 L879.1 964.8 L889.3 961.7 L909.1 961.0 L927.6 962.3 L936.1 963.6" stroke="#151515" stroke-width="1.2" fill="none" stroke-linejoin="round"/>
<path d="M986.5 1008.3 L989.0 1000.6 L997.9 997.4 L1010.7 995.5 L1013.3 993.6 L1044.6 992.3" stroke="#151515" stroke-width="1.2" fill="none" stroke-linejoin="round"/>
<text x="978.1" y="908.5" font-size="23.00" text-anchor="middle" fill="#151515" stroke="#151515" stroke-width="0.3" transform="rotate(0 978.1 908.5)">20</text>
<text x="983.9" y="952.5" font-size="23.00" text-anchor="middle" fill="#151515" stroke="#151515" stroke-width="0.3" transform="rotate(0 983.9 952.5)">16</text>
<text x="987.7" y="973.5" font-size="23.00" text-anchor="middle" fill="#151515" stroke="#151515" stroke-width="0.3" transform="rotate(10 987.7 973.5)">12</text>
<path d="M799.3 926.5 L812.1 961.0 L831.2 984.0 L850.4 996.1 L870.2 1001.9 L890.0 1007.0 L909.1 1015.9 L927.6 1021.7 L948.8 1026.1 L967.3 1019.8 L1006.2 1032.5 L1045.1 1044.3" stroke="#000" stroke-width="4.4" fill="none" stroke-linejoin="round"/>
<rect x="798.9" y="881.3" width="246.4" height="205.3" fill="none" stroke="#4a4a4a" stroke-width="1.2"/>
<text x="789.2" y="889.3" font-size="22.30" text-anchor="end" fill="#262626" stroke="#262626" stroke-width="0.3">0</text>
<path d="M798.9 940.0 h3 M1045.3 940.0 h-3" stroke="#4a4a4a" stroke-width="1.1"/>
<text x="789.2" y="948.0" font-size="22.30" text-anchor="end" fill="#262626" stroke="#262626" stroke-width="0.3">-10</text>
<path d="M798.9 998.6 h3 M1045.3 998.6 h-3" stroke="#4a4a4a" stroke-width="1.1"/>
<text x="789.2" y="1006.6" font-size="22.30" text-anchor="end" fill="#262626" stroke="#262626" stroke-width="0.3">-20</text>
<path d="M798.9 1057.3 h3 M1045.3 1057.3 h-3" stroke="#4a4a4a" stroke-width="1.1"/>
<text x="789.2" y="1065.3" font-size="22.30" text-anchor="end" fill="#262626" stroke="#262626" stroke-width="0.3">-30</text>
<path d="M810.6 1086.6 v-3" stroke="#4a4a4a" stroke-width="1.1"/>
<path d="M928.0 1086.6 v-3" stroke="#4a4a4a" stroke-width="1.1"/>
<text x="745.5" y="984.4" font-size="25.00" text-anchor="middle" fill="#262626" stroke="#262626" stroke-width="0.3" textLength="107.5" lengthAdjust="spacingAndGlyphs" transform="rotate(-90 745.5 984.4)">Depth [m]</text>
<text x="791.6" y="877.7" font-size="22.00" text-anchor="start" fill="#000" stroke="#000" stroke-width="0.3" textLength="234.5" lengthAdjust="spacingAndGlyphs">(j) OBS -- Sep-10-2020</text>
<rect x="809.2" y="1068.9" width="100.5" height="8.8" fill="url(#g108)" stroke="#555" stroke-width="1"/>
<path d="M809.2 1068.9 v1.6" stroke="#333" stroke-width="0.8"/>
<text x="809.2" y="1056.0" font-size="20.80" text-anchor="middle" fill="#262626" stroke="#262626" stroke-width="0.3">0</text>
<path d="M909.7 1068.9 v1.6" stroke="#333" stroke-width="0.8"/>
<text x="909.7" y="1056.0" font-size="20.80" text-anchor="middle" fill="#262626" stroke="#262626" stroke-width="0.3">5</text>
<text x="839.2" y="1029.8" font-size="20.5" fill="#262626">NTU</text>
<rect x="88.20" y="1166.30" width="16.00" height="86.10" fill="url(#g109)" shape-rendering="crispEdges"/>
<rect x="104.20" y="1166.30" width="15.90" height="101.40" fill="url(#g110)" shape-rendering="crispEdges"/>
<rect x="120.10" y="1166.30" width="21.10" height="113.60" fill="url(#g111)" shape-rendering="crispEdges"/>
<rect x="141.20" y="1166.30" width="19.20" height="119.90" fill="url(#g112)" shape-rendering="crispEdges"/>
<rect x="160.40" y="1166.30" width="18.50" height="124.40" fill="url(#g113)" shape-rendering="crispEdges"/>
<rect x="178.90" y="1166.30" width="21.70" height="135.30" fill="url(#g114)" shape-rendering="crispEdges"/>
<rect x="200.60" y="1166.30" width="19.80" height="139.70" fill="url(#g115)" shape-rendering="crispEdges"/>
<rect x="220.40" y="1166.30" width="36.40" height="139.10" fill="url(#g116)" shape-rendering="crispEdges"/>
<rect x="256.80" y="1166.30" width="43.50" height="151.90" fill="url(#g117)" shape-rendering="crispEdges"/>
<rect x="300.30" y="1166.30" width="33.70" height="160.20" fill="url(#g118)" shape-rendering="crispEdges"/>
<path d="M179.5 1271.8 L199.9 1273.9 L220.4 1272.2 L257.5 1272.2 L271.5 1271.6" stroke="#ffffff" stroke-width="2.6" fill="none" stroke-linejoin="round"/>
<path d="M88.2 1184.7 L91.4 1192.4 L97.1 1196.8 L104.2 1199.4 L111.2 1196.8 L115.7 1191.7 L118.8 1184.7 L120.1 1175.8 L118.8 1166.8" stroke="#f5e9e6" stroke-width="1.1" fill="none" stroke-linejoin="round"/>
<path d="M128.4 1166.6 L132.3 1171.9 L130.3 1178.3 L136.1 1186.0 L139.3 1192.4 L136.1 1200.0 L137.4 1210.3 L139.9 1215.4 L142.5 1226.9 L146.3 1240.9 L148.9 1249.8 L156.5 1251.8 L166.7 1253.7 L174.4 1258.8 L179.5 1263.9 L193.6 1265.2 L199.9 1267.7 L223.0 1265.2 L257.5 1263.9 L271.5 1260.1 L302.2 1252.4 L334.1 1249.8" stroke="#f5e9e6" stroke-width="1.1" fill="none" stroke-linejoin="round"/>
<path d="M131.0 1267.7 L132.3 1263.9 L138.6 1261.3 L146.3 1262.6 L156.5 1267.7 L166.7 1270.9 L179.5 1271.6 L187.2 1272.2 L196.1 1274.1 L212.7 1274.1" stroke="#f5e9e6" stroke-width="1.1" fill="none" stroke-linejoin="round"/>
<path d="M145.0 1280.5 L145.7 1275.4 L151.4 1272.8 L161.6 1271.6" stroke="#f5e9e6" stroke-width="1.1" fill="none" stroke-linejoin="round"/>
<path d="M155.2 1280.5 L156.5 1275.4 L164.2 1272.8 L174.4 1271.6" stroke="#f5e9e6" stroke-width="1.1" fill="none" stroke-linejoin="round"/>
<path d="M165.5 1285.6 L166.7 1279.2 L174.4 1275.4 L182.1 1274.1" stroke="#f5e9e6" stroke-width="1.1" fill="none" stroke-linejoin="round"/>
<path d="M175.7 1285.6 L176.3 1279.9 L184.6 1277.9 L199.9 1278.6 L212.7 1277.3 L225.0 1275.4" stroke="#f5e9e6" stroke-width="1.1" fill="none" stroke-linejoin="round"/>
<path d="M195.5 1290.7 L197.4 1285.6 L199.9 1284.3" stroke="#f5e9e6" stroke-width="1.1" fill="none" stroke-linejoin="round"/>
<path d="M179.5 1271.6 L184.6 1270.3 L191.0 1271.6 L194.8 1275.4" stroke="#f5e9e6" stroke-width="1.1" fill="none" stroke-linejoin="round"/>
<path d="M187.2 1271.6 L193.6 1270.3 L198.7 1274.1" stroke="#f5e9e6" stroke-width="1.1" fill="none" stroke-linejoin="round"/>
<path d="M200.0 1281.8 L219.2 1281.1 L220.4 1279.2 L257.5 1277.9 L270.2 1275.4" stroke="#f5e9e6" stroke-width="1.1" fill="none" stroke-linejoin="round"/>
<path d="M257.5 1271.6 L263.9 1266.4 L276.6 1263.9 L302.2 1261.3 L314.9 1260.7 L320.1 1256.2 L334.1 1253.0" stroke="#f5e9e6" stroke-width="1.1" fill="none" stroke-linejoin="round"/>
<path d="M302.2 1263.9 L314.9 1262.6 L334.1 1260.1" stroke="#f5e9e6" stroke-width="1.1" fill="none" stroke-linejoin="round"/>
<path d="M302.2 1266.4 L321.3 1265.2 L334.1 1263.9" stroke="#f5e9e6" stroke-width="1.1" fill="none" stroke-linejoin="round"/>
<path d="M306.0 1316.3 L308.6 1299.7 L317.5 1296.5 L325.2 1289.4 L330.3 1282.4 L334.1 1281.8" stroke="#f5e9e6" stroke-width="1.1" fill="none" stroke-linejoin="round"/>
<text x="281.2" y="1277.0" font-size="23.00" text-anchor="middle" fill="#ffffff" stroke="#ffffff" stroke-width="0.3" transform="rotate(8 281.2 1277.0)">16</text>
<text x="288.5" y="1281.0" font-size="23.00" text-anchor="middle" fill="#ffffff" stroke="#ffffff" stroke-width="0.3" transform="rotate(8 288.5 1281.0)">12</text>
<path d="M88.2 1220.5 L104.2 1263.9 L120.1 1278.0 L141.2 1289.4 L160.4 1295.2 L178.9 1300.3 L200.6 1311.1 L220.4 1316.6 L256.8 1316.3 L300.3 1327.8 L334.0 1335.8" stroke="#000" stroke-width="4.4" fill="none" stroke-linejoin="round"/>
<rect x="87.8" y="1166.3" width="246.4" height="205.3" fill="none" stroke="#4a4a4a" stroke-width="1.2"/>
<text x="78.1" y="1174.3" font-size="22.30" text-anchor="end" fill="#262626" stroke="#262626" stroke-width="0.3">0</text>
<path d="M87.8 1225.0 h3 M334.2 1225.0 h-3" stroke="#4a4a4a" stroke-width="1.1"/>
<text x="78.1" y="1233.0" font-size="22.30" text-anchor="end" fill="#262626" stroke="#262626" stroke-width="0.3">-10</text>
<path d="M87.8 1283.6 h3 M334.2 1283.6 h-3" stroke="#4a4a4a" stroke-width="1.1"/>
<text x="78.1" y="1291.6" font-size="22.30" text-anchor="end" fill="#262626" stroke="#262626" stroke-width="0.3">-20</text>
<path d="M87.8 1342.3 h3 M334.2 1342.3 h-3" stroke="#4a4a4a" stroke-width="1.1"/>
<text x="78.1" y="1350.3" font-size="22.30" text-anchor="end" fill="#262626" stroke="#262626" stroke-width="0.3">-30</text>
<path d="M99.5 1371.6 v-3" stroke="#4a4a4a" stroke-width="1.1"/>
<path d="M216.9 1371.6 v-3" stroke="#4a4a4a" stroke-width="1.1"/>
<text x="34.4" y="1269.4" font-size="25.00" text-anchor="middle" fill="#262626" stroke="#262626" stroke-width="0.3" textLength="107.5" lengthAdjust="spacingAndGlyphs" transform="rotate(-90 34.4 1269.4)">Depth [m]</text>
<text x="80.5" y="1162.7" font-size="22.00" text-anchor="start" fill="#000" stroke="#000" stroke-width="0.3" textLength="226.0" lengthAdjust="spacingAndGlyphs">(k) DO -- Sep-16-2020</text>
<rect x="95.6" y="1353.9" width="100.5" height="8.8" fill="url(#g119)" stroke="#555" stroke-width="1"/>
<path d="M110.0 1353.9 v1.6" stroke="#333" stroke-width="0.8"/>
<text x="110.0" y="1341.0" font-size="20.80" text-anchor="middle" fill="#262626" stroke="#262626" stroke-width="0.3">2</text>
<path d="M138.7 1353.9 v1.6" stroke="#333" stroke-width="0.8"/>
<text x="138.7" y="1341.0" font-size="20.80" text-anchor="middle" fill="#262626" stroke="#262626" stroke-width="0.3">4</text>
<path d="M167.4 1353.9 v1.6" stroke="#333" stroke-width="0.8"/>
<text x="167.4" y="1341.0" font-size="20.80" text-anchor="middle" fill="#262626" stroke="#262626" stroke-width="0.3">6</text>
<path d="M196.1 1353.9 v1.6" stroke="#333" stroke-width="0.8"/>
<text x="196.1" y="1341.0" font-size="20.80" text-anchor="middle" fill="#262626" stroke="#262626" stroke-width="0.3">8</text>
<text x="121.6" y="1314.8" font-size="21.5" fill="#262626">mg/L</text>
<rect x="443.80" y="1166.30" width="16.00" height="86.10" fill="url(#g120)" shape-rendering="crispEdges"/>
<rect x="459.80" y="1166.30" width="15.90" height="101.40" fill="url(#g121)" shape-rendering="crispEdges"/>
<rect x="475.70" y="1166.30" width="21.10" height="113.60" fill="url(#g122)" shape-rendering="crispEdges"/>
<rect x="496.80" y="1166.30" width="19.20" height="119.90" fill="url(#g123)" shape-rendering="crispEdges"/>
<rect x="516.00" y="1166.30" width="18.50" height="124.40" fill="url(#g124)" shape-rendering="crispEdges"/>
<rect x="534.50" y="1166.30" width="21.70" height="135.30" fill="url(#g125)" shape-rendering="crispEdges"/>
<rect x="556.20" y="1166.30" width="19.80" height="139.70" fill="url(#g126)" shape-rendering="crispEdges"/>
<rect x="576.00" y="1166.30" width="36.40" height="139.10" fill="url(#g127)" shape-rendering="crispEdges"/>
<rect x="612.40" y="1166.30" width="43.50" height="151.90" fill="url(#g128)" shape-rendering="crispEdges"/>
<rect x="655.90" y="1166.30" width="33.70" height="160.20" fill="url(#g129)" shape-rendering="crispEdges"/>
<path d="M535.1 1271.8 L555.5 1273.9 L576.0 1272.2 L613.1 1272.2 L627.1 1271.6" stroke="#111" stroke-width="2.6" fill="none" stroke-linejoin="round"/>
<path d="M443.8 1184.7 L447.0 1192.4 L452.7 1196.8 L459.8 1199.4 L466.8 1196.8 L471.3 1191.7 L474.4 1184.7 L475.7 1175.8 L474.4 1166.8" stroke="#151515" stroke-width="1.2" fill="none" stroke-linejoin="round"/>
<path d="M484.0 1166.6 L487.9 1171.9 L485.9 1178.3 L491.7 1186.0 L494.9 1192.4 L491.7 1200.0 L493.0 1210.3 L495.5 1215.4 L498.1 1226.9 L501.9 1240.9 L504.5 1249.8 L512.1 1251.8 L522.3 1253.7 L530.0 1258.8 L535.1 1263.9 L549.2 1265.2 L555.5 1267.7 L578.6 1265.2 L613.1 1263.9 L627.1 1260.1 L657.8 1252.4 L689.7 1249.8" stroke="#151515" stroke-width="1.2" fill="none" stroke-linejoin="round"/>
<path d="M486.6 1267.7 L487.9 1263.9 L494.2 1261.3 L501.9 1262.6 L512.1 1267.7 L522.3 1270.9 L535.1 1271.6 L542.8 1272.2 L551.7 1274.1 L568.3 1274.1" stroke="#151515" stroke-width="1.2" fill="none" stroke-linejoin="round"/>
<path d="M500.6 1280.5 L501.3 1275.4 L507.0 1272.8 L517.2 1271.6" stroke="#151515" stroke-width="1.2" fill="none" stroke-linejoin="round"/>
<path d="M510.8 1280.5 L512.1 1275.4 L519.8 1272.8 L530.0 1271.6" stroke="#151515" stroke-width="1.2" fill="none" stroke-linejoin="round"/>
<path d="M521.1 1285.6 L522.3 1279.2 L530.0 1275.4 L537.7 1274.1" stroke="#151515" stroke-width="1.2" fill="none" stroke-linejoin="round"/>
<path d="M531.3 1285.6 L531.9 1279.9 L540.2 1277.9 L555.5 1278.6 L568.3 1277.3 L580.6 1275.4" stroke="#151515" stroke-width="1.2" fill="none" stroke-linejoin="round"/>
<path d="M551.1 1290.7 L553.0 1285.6 L555.5 1284.3" stroke="#151515" stroke-width="1.2" fill="none" stroke-linejoin="round"/>
<path d="M535.1 1271.6 L540.2 1270.3 L546.6 1271.6 L550.4 1275.4" stroke="#151515" stroke-width="1.2" fill="none" stroke-linejoin="round"/>
<path d="M542.8 1271.6 L549.2 1270.3 L554.3 1274.1" stroke="#151515" stroke-width="1.2" fill="none" stroke-linejoin="round"/>
<path d="M555.6 1281.8 L574.8 1281.1 L576.0 1279.2 L613.1 1277.9 L625.8 1275.4" stroke="#151515" stroke-width="1.2" fill="none" stroke-linejoin="round"/>
<path d="M613.1 1271.6 L619.5 1266.4 L632.2 1263.9 L657.8 1261.3 L670.5 1260.7 L675.7 1256.2 L689.7 1253.0" stroke="#151515" stroke-width="1.2" fill="none" stroke-linejoin="round"/>
<path d="M657.8 1263.9 L670.5 1262.6 L689.7 1260.1" stroke="#151515" stroke-width="1.2" fill="none" stroke-linejoin="round"/>
<path d="M657.8 1266.4 L676.9 1265.2 L689.7 1263.9" stroke="#151515" stroke-width="1.2" fill="none" stroke-linejoin="round"/>
<path d="M661.6 1316.3 L664.2 1299.7 L673.1 1296.5 L680.8 1289.4 L685.9 1282.4 L689.7 1281.8" stroke="#151515" stroke-width="1.2" fill="none" stroke-linejoin="round"/>
<text x="636.8" y="1277.0" font-size="23.00" text-anchor="middle" fill="#151515" stroke="#151515" stroke-width="0.3" transform="rotate(8 636.8 1277.0)">16</text>
<text x="644.1" y="1281.0" font-size="23.00" text-anchor="middle" fill="#151515" stroke="#151515" stroke-width="0.3" transform="rotate(8 644.1 1281.0)">12</text>
<path d="M443.8 1220.5 L459.8 1263.9 L475.7 1278.0 L496.8 1289.4 L516.0 1295.2 L534.5 1300.3 L556.2 1311.1 L576.0 1316.6 L612.4 1316.3 L655.9 1327.8 L689.6 1335.8" stroke="#000" stroke-width="4.4" fill="none" stroke-linejoin="round"/>
<rect x="443.4" y="1166.3" width="246.4" height="205.3" fill="none" stroke="#4a4a4a" stroke-width="1.2"/>
<text x="433.7" y="1174.3" font-size="22.30" text-anchor="end" fill="#262626" stroke="#262626" stroke-width="0.3">0</text>
<path d="M443.4 1225.0 h3 M689.8 1225.0 h-3" stroke="#4a4a4a" stroke-width="1.1"/>
<text x="433.7" y="1233.0" font-size="22.30" text-anchor="end" fill="#262626" stroke="#262626" stroke-width="0.3">-10</text>
<path d="M443.4 1283.6 h3 M689.8 1283.6 h-3" stroke="#4a4a4a" stroke-width="1.1"/>
<text x="433.7" y="1291.6" font-size="22.30" text-anchor="end" fill="#262626" stroke="#262626" stroke-width="0.3">-20</text>
<path d="M443.4 1342.3 h3 M689.8 1342.3 h-3" stroke="#4a4a4a" stroke-width="1.1"/>
<text x="433.7" y="1350.3" font-size="22.30" text-anchor="end" fill="#262626" stroke="#262626" stroke-width="0.3">-30</text>
<path d="M455.1 1371.6 v-3" stroke="#4a4a4a" stroke-width="1.1"/>
<path d="M572.5 1371.6 v-3" stroke="#4a4a4a" stroke-width="1.1"/>
<text x="390.0" y="1269.4" font-size="25.00" text-anchor="middle" fill="#262626" stroke="#262626" stroke-width="0.3" textLength="107.5" lengthAdjust="spacingAndGlyphs" transform="rotate(-90 390.0 1269.4)">Depth [m]</text>
<text x="436.1" y="1162.7" font-size="22.00" text-anchor="start" fill="#000" stroke="#000" stroke-width="0.3" textLength="247.5" lengthAdjust="spacingAndGlyphs">(l) Chlor. -- Sep-16-2020</text>
<rect x="451.2" y="1353.9" width="100.5" height="8.8" fill="url(#g130)" stroke="#555" stroke-width="1"/>
<path d="M451.2 1353.9 v1.6" stroke="#333" stroke-width="0.8"/>
<text x="451.2" y="1341.0" font-size="20.80" text-anchor="middle" fill="#262626" stroke="#262626" stroke-width="0.3">0</text>
<path d="M501.4 1353.9 v1.6" stroke="#333" stroke-width="0.8"/>
<text x="501.4" y="1341.0" font-size="20.80" text-anchor="middle" fill="#262626" stroke="#262626" stroke-width="0.3">50</text>
<path d="M551.7 1353.9 v1.6" stroke="#333" stroke-width="0.8"/>
<text x="552.5" y="1341.0" font-size="20.80" text-anchor="middle" fill="#262626" stroke="#262626" stroke-width="0.3">100</text>
<text x="481.2" y="1314.8" font-size="20.5" fill="#262626"><tspan font-family="Liberation Serif, serif" font-style="italic" font-size="21">µ</tspan>g/L</text>
<rect x="799.30" y="1166.30" width="16.00" height="86.10" fill="url(#g131)" shape-rendering="crispEdges"/>
<rect x="815.30" y="1166.30" width="15.90" height="101.40" fill="url(#g132)" shape-rendering="crispEdges"/>
<rect x="831.20" y="1166.30" width="21.10" height="113.60" fill="url(#g133)" shape-rendering="crispEdges"/>
<rect x="852.30" y="1166.30" width="19.20" height="119.90" fill="url(#g134)" shape-rendering="crispEdges"/>
<rect x="871.50" y="1166.30" width="18.50" height="124.40" fill="url(#g135)" shape-rendering="crispEdges"/>
<rect x="890.00" y="1166.30" width="21.70" height="135.30" fill="url(#g136)" shape-rendering="crispEdges"/>
<rect x="911.70" y="1166.30" width="19.80" height="139.70" fill="url(#g137)" shape-rendering="crispEdges"/>
<rect x="931.50" y="1166.30" width="36.40" height="139.10" fill="url(#g138)" shape-rendering="crispEdges"/>
<rect x="967.90" y="1166.30" width="43.50" height="151.90" fill="url(#g139)" shape-rendering="crispEdges"/>
<rect x="1011.40" y="1166.30" width="33.70" height="160.20" fill="url(#g140)" shape-rendering="crispEdges"/>
<rect x="799.3" y="1177.5" width="16.0" height="2.5" fill="#d9cb7b" opacity="0.27" shape-rendering="crispEdges"/><rect x="799.3" y="1182.6" width="16.0" height="2.5" fill="#d9cc7c" opacity="0.25" shape-rendering="crispEdges"/><rect x="799.3" y="1185.5" width="16.0" height="1.0" fill="#dbd181" opacity="0.31" shape-rendering="crispEdges"/><rect x="815.3" y="1173.5" width="15.9" height="1.0" fill="#dfda8c" opacity="0.28" shape-rendering="crispEdges"/><rect x="815.3" y="1175.2" width="15.9" height="2.0" fill="#dbd181" opacity="0.27" shape-rendering="crispEdges"/><rect x="815.3" y="1177.7" width="15.9" height="1.0" fill="#dacf7f" opacity="0.33" shape-rendering="crispEdges"/><rect x="815.3" y="1191.1" width="15.9" height="1.0" fill="#dcd383" opacity="0.23" shape-rendering="crispEdges"/><rect x="815.3" y="1195.2" width="15.9" height="1.0" fill="#d9cb7b" opacity="0.31" shape-rendering="crispEdges"/><rect x="815.3" y="1202.5" width="15.9" height="1.0" fill="#dcd484" opacity="0.45" shape-rendering="crispEdges"/><rect x="815.3" y="1205.8" width="15.9" height="1.0" fill="#d9cd7c" opacity="0.29" shape-rendering="crispEdges"/><rect x="815.3" y="1207.7" width="15.9" height="2.0" fill="#dacd7d" opacity="0.25" shape-rendering="crispEdges"/><rect x="815.3" y="1210.3" width="15.9" height="1.0" fill="#dcd484" opacity="0.33" shape-rendering="crispEdges"/><rect x="831.2" y="1172.9" width="21.1" height="2.5" fill="#dfda8c" opacity="0.39" shape-rendering="crispEdges"/><rect x="831.2" y="1177.0" width="21.1" height="1.0" fill="#e0df91" opacity="0.42" shape-rendering="crispEdges"/><rect x="831.2" y="1188.9" width="21.1" height="1.0" fill="#ddd686" opacity="0.42" shape-rendering="crispEdges"/><rect x="831.2" y="1193.2" width="21.1" height="1.0" fill="#deda8b" opacity="0.28" shape-rendering="crispEdges"/><rect x="831.2" y="1198.2" width="21.1" height="1.5" fill="#ddd687" opacity="0.24" shape-rendering="crispEdges"/><rect x="831.2" y="1202.2" width="21.1" height="2.5" fill="#dcd485" opacity="0.44" shape-rendering="crispEdges"/><rect x="831.2" y="1211.3" width="21.1" height="1.0" fill="#ddd888" opacity="0.28" shape-rendering="crispEdges"/><rect x="852.3" y="1171.5" width="19.2" height="1.0" fill="#dcd586" opacity="0.25" shape-rendering="crispEdges"/><rect x="852.3" y="1182.6" width="19.2" height="1.0" fill="#d8c979" opacity="0.44" shape-rendering="crispEdges"/><rect x="852.3" y="1184.7" width="19.2" height="2.5" fill="#dbd181" opacity="0.29" shape-rendering="crispEdges"/><rect x="852.3" y="1190.3" width="19.2" height="1.0" fill="#e0dd8f" opacity="0.32" shape-rendering="crispEdges"/><rect x="852.3" y="1193.0" width="19.2" height="1.5" fill="#ddd687" opacity="0.35" shape-rendering="crispEdges"/><rect x="852.3" y="1195.0" width="19.2" height="2.0" fill="#d8c877" opacity="0.37" shape-rendering="crispEdges"/><rect x="852.3" y="1201.8" width="19.2" height="1.0" fill="#dcd484" opacity="0.31" shape-rendering="crispEdges"/><rect x="852.3" y="1204.7" width="19.2" height="2.5" fill="#dbd080" opacity="0.33" shape-rendering="crispEdges"/><rect x="852.3" y="1209.5" width="19.2" height="1.0" fill="#e0dd8f" opacity="0.35" shape-rendering="crispEdges"/><rect x="871.5" y="1186.9" width="18.5" height="2.5" fill="#e0df90" opacity="0.24" shape-rendering="crispEdges"/><rect x="871.5" y="1188.8" width="18.5" height="1.5" fill="#d8ca7a" opacity="0.39" shape-rendering="crispEdges"/><rect x="871.5" y="1196.2" width="18.5" height="2.5" fill="#dfdd8e" opacity="0.39" shape-rendering="crispEdges"/><rect x="871.5" y="1201.5" width="18.5" height="1.0" fill="#dcd384" opacity="0.36" shape-rendering="crispEdges"/><rect x="871.5" y="1207.1" width="18.5" height="1.0" fill="#ddd687" opacity="0.26" shape-rendering="crispEdges"/><rect x="871.5" y="1216.3" width="18.5" height="2.0" fill="#dcd384" opacity="0.28" shape-rendering="crispEdges"/><rect x="871.5" y="1219.6" width="18.5" height="2.0" fill="#d9cc7c" opacity="0.39" shape-rendering="crispEdges"/><rect x="871.5" y="1222.0" width="18.5" height="1.0" fill="#dbd181" opacity="0.30" shape-rendering="crispEdges"/><rect x="871.5" y="1224.1" width="18.5" height="1.0" fill="#dace7e" opacity="0.44" shape-rendering="crispEdges"/><rect x="871.5" y="1226.9" width="18.5" height="2.0" fill="#dcd484" opacity="0.43" shape-rendering="crispEdges"/><rect x="871.5" y="1232.1" width="18.5" height="2.5" fill="#dcd384" opacity="0.30" shape-rendering="crispEdges"/><rect x="890.0" y="1177.1" width="21.7" height="1.0" fill="#ded889" opacity="0.36" shape-rendering="crispEdges"/><rect x="890.0" y="1181.7" width="21.7" height="1.5" fill="#ddd888" opacity="0.40" shape-rendering="crispEdges"/><rect x="890.0" y="1183.3" width="21.7" height="2.0" fill="#dfda8c" opacity="0.40" shape-rendering="crispEdges"/><rect x="890.0" y="1193.1" width="21.7" height="2.5" fill="#dad080" opacity="0.41" shape-rendering="crispEdges"/><rect x="890.0" y="1201.3" width="21.7" height="1.0" fill="#dace7e" opacity="0.39" shape-rendering="crispEdges"/><rect x="890.0" y="1205.2" width="21.7" height="1.0" fill="#ded889" opacity="0.30" shape-rendering="crispEdges"/><rect x="890.0" y="1222.9" width="21.7" height="2.0" fill="#dfdc8d" opacity="0.33" shape-rendering="crispEdges"/><rect x="890.0" y="1241.6" width="21.7" height="1.0" fill="#dfdd8e" opacity="0.42" shape-rendering="crispEdges"/><rect x="911.7" y="1175.4" width="19.8" height="2.0" fill="#d8c877" opacity="0.44" shape-rendering="crispEdges"/><rect x="911.7" y="1187.7" width="19.8" height="1.0" fill="#e0de90" opacity="0.30" shape-rendering="crispEdges"/><rect x="911.7" y="1191.1" width="19.8" height="1.0" fill="#deda8b" opacity="0.42" shape-rendering="crispEdges"/><rect x="911.7" y="1194.5" width="19.8" height="2.5" fill="#ddd788" opacity="0.40" shape-rendering="crispEdges"/><rect x="911.7" y="1196.6" width="19.8" height="2.5" fill="#d8ca79" opacity="0.34" shape-rendering="crispEdges"/><rect x="911.7" y="1201.2" width="19.8" height="2.0" fill="#dbd182" opacity="0.38" shape-rendering="crispEdges"/><rect x="911.7" y="1206.1" width="19.8" height="2.5" fill="#ded889" opacity="0.39" shape-rendering="crispEdges"/><rect x="911.7" y="1218.7" width="19.8" height="2.5" fill="#deda8b" opacity="0.42" shape-rendering="crispEdges"/><rect x="911.7" y="1228.6" width="19.8" height="2.5" fill="#dfdc8e" opacity="0.23" shape-rendering="crispEdges"/><rect x="911.7" y="1239.5" width="19.8" height="1.0" fill="#e0dd8f" opacity="0.35" shape-rendering="crispEdges"/><rect x="911.7" y="1248.5" width="19.8" height="2.0" fill="#dcd384" opacity="0.30" shape-rendering="crispEdges"/><rect x="931.5" y="1181.5" width="36.4" height="1.0" fill="#d8c979" opacity="0.25" shape-rendering="crispEdges"/><rect x="931.5" y="1186.5" width="36.4" height="1.0" fill="#dfdb8c" opacity="0.23" shape-rendering="crispEdges"/><rect x="931.5" y="1191.9" width="36.4" height="2.0" fill="#dace7e" opacity="0.25" shape-rendering="crispEdges"/><rect x="931.5" y="1195.7" width="36.4" height="1.0" fill="#dacf7e" opacity="0.42" shape-rendering="crispEdges"/><rect x="931.5" y="1210.3" width="36.4" height="1.0" fill="#d9cb7b" opacity="0.36" shape-rendering="crispEdges"/><rect x="931.5" y="1215.7" width="36.4" height="1.5" fill="#d8ca79" opacity="0.30" shape-rendering="crispEdges"/><rect x="931.5" y="1226.6" width="36.4" height="1.0" fill="#dfdc8d" opacity="0.24" shape-rendering="crispEdges"/><rect x="931.5" y="1229.8" width="36.4" height="2.0" fill="#dbd282" opacity="0.38" shape-rendering="crispEdges"/><rect x="931.5" y="1237.3" width="36.4" height="2.5" fill="#dacf7f" opacity="0.43" shape-rendering="crispEdges"/><rect x="931.5" y="1243.2" width="36.4" height="2.5" fill="#dbd080" opacity="0.30" shape-rendering="crispEdges"/><rect x="967.9" y="1173.4" width="43.5" height="1.0" fill="#e0de90" opacity="0.35" shape-rendering="crispEdges"/><rect x="967.9" y="1179.4" width="43.5" height="1.0" fill="#dfdb8c" opacity="0.26" shape-rendering="crispEdges"/><rect x="967.9" y="1186.3" width="43.5" height="2.0" fill="#e0dd8f" opacity="0.25" shape-rendering="crispEdges"/><rect x="967.9" y="1189.5" width="43.5" height="1.5" fill="#dcd585" opacity="0.36" shape-rendering="crispEdges"/><rect x="967.9" y="1196.4" width="43.5" height="2.0" fill="#ddd687" opacity="0.31" shape-rendering="crispEdges"/><rect x="967.9" y="1206.9" width="43.5" height="2.0" fill="#dbd282" opacity="0.27" shape-rendering="crispEdges"/><rect x="967.9" y="1211.1" width="43.5" height="1.5" fill="#ded889" opacity="0.25" shape-rendering="crispEdges"/><rect x="967.9" y="1215.9" width="43.5" height="2.0" fill="#dfdc8d" opacity="0.30" shape-rendering="crispEdges"/><rect x="967.9" y="1219.8" width="43.5" height="2.0" fill="#d9cd7d" opacity="0.32" shape-rendering="crispEdges"/><rect x="967.9" y="1224.6" width="43.5" height="1.5" fill="#ded889" opacity="0.25" shape-rendering="crispEdges"/><rect x="967.9" y="1235.6" width="43.5" height="1.5" fill="#d8c978" opacity="0.37" shape-rendering="crispEdges"/><rect x="967.9" y="1261.7" width="43.5" height="2.0" fill="#dcd383" opacity="0.40" shape-rendering="crispEdges"/><rect x="1011.4" y="1172.7" width="33.7" height="1.5" fill="#ded98a" opacity="0.43" shape-rendering="crispEdges"/><rect x="1011.4" y="1193.7" width="33.7" height="2.5" fill="#dacf7f" opacity="0.44" shape-rendering="crispEdges"/><rect x="1011.4" y="1209.7" width="33.7" height="2.0" fill="#dcd586" opacity="0.34" shape-rendering="crispEdges"/><rect x="1011.4" y="1213.9" width="33.7" height="1.5" fill="#dcd484" opacity="0.29" shape-rendering="crispEdges"/><rect x="1011.4" y="1224.4" width="33.7" height="1.0" fill="#dbd181" opacity="0.37" shape-rendering="crispEdges"/><rect x="1011.4" y="1229.5" width="33.7" height="2.0" fill="#e0de8f" opacity="0.45" shape-rendering="crispEdges"/><rect x="1011.4" y="1235.2" width="33.7" height="1.0" fill="#dcd585" opacity="0.33" shape-rendering="crispEdges"/><rect x="1011.4" y="1241.1" width="33.7" height="2.5" fill="#dfdd8e" opacity="0.41" shape-rendering="crispEdges"/><rect x="1011.4" y="1246.7" width="33.7" height="1.0" fill="#dbd181" opacity="0.25" shape-rendering="crispEdges"/><rect x="1011.4" y="1251.0" width="33.7" height="1.0" fill="#d9cb7a" opacity="0.31" shape-rendering="crispEdges"/><rect x="1011.4" y="1253.2" width="33.7" height="1.0" fill="#dacf7f" opacity="0.33" shape-rendering="crispEdges"/>
<path d="M890.6 1271.8 L911.0 1273.9 L931.5 1272.2 L968.6 1272.2 L982.6 1271.6" stroke="#111" stroke-width="2.6" fill="none" stroke-linejoin="round"/>
<path d="M799.3 1184.7 L802.5 1192.4 L808.2 1196.8 L815.3 1199.4 L822.3 1196.8 L826.8 1191.7 L829.9 1184.7 L831.2 1175.8 L829.9 1166.8" stroke="#151515" stroke-width="1.2" fill="none" stroke-linejoin="round"/>
<path d="M839.5 1166.6 L843.4 1171.9 L841.4 1178.3 L847.2 1186.0 L850.4 1192.4 L847.2 1200.0 L848.5 1210.3 L851.0 1215.4 L853.6 1226.9 L857.4 1240.9 L860.0 1249.8 L867.6 1251.8 L877.8 1253.7 L885.5 1258.8 L890.6 1263.9 L904.7 1265.2 L911.0 1267.7 L934.1 1265.2 L968.6 1263.9 L982.6 1260.1 L1013.3 1252.4 L1045.2 1249.8" stroke="#151515" stroke-width="1.2" fill="none" stroke-linejoin="round"/>
<path d="M842.1 1267.7 L843.4 1263.9 L849.7 1261.3 L857.4 1262.6 L867.6 1267.7 L877.8 1270.9 L890.6 1271.6 L898.3 1272.2 L907.2 1274.1 L923.8 1274.1" stroke="#151515" stroke-width="1.2" fill="none" stroke-linejoin="round"/>
<path d="M856.1 1280.5 L856.8 1275.4 L862.5 1272.8 L872.7 1271.6" stroke="#151515" stroke-width="1.2" fill="none" stroke-linejoin="round"/>
<path d="M866.3 1280.5 L867.6 1275.4 L875.3 1272.8 L885.5 1271.6" stroke="#151515" stroke-width="1.2" fill="none" stroke-linejoin="round"/>
<path d="M876.6 1285.6 L877.8 1279.2 L885.5 1275.4 L893.2 1274.1" stroke="#151515" stroke-width="1.2" fill="none" stroke-linejoin="round"/>
<path d="M886.8 1285.6 L887.4 1279.9 L895.7 1277.9 L911.0 1278.6 L923.8 1277.3 L936.1 1275.4" stroke="#151515" stroke-width="1.2" fill="none" stroke-linejoin="round"/>
<path d="M906.6 1290.7 L908.5 1285.6 L911.0 1284.3" stroke="#151515" stroke-width="1.2" fill="none" stroke-linejoin="round"/>
<path d="M890.6 1271.6 L895.7 1270.3 L902.1 1271.6 L905.9 1275.4" stroke="#151515" stroke-width="1.2" fill="none" stroke-linejoin="round"/>
<path d="M898.3 1271.6 L904.7 1270.3 L909.8 1274.1" stroke="#151515" stroke-width="1.2" fill="none" stroke-linejoin="round"/>
<path d="M911.1 1281.8 L930.3 1281.1 L931.5 1279.2 L968.6 1277.9 L981.3 1275.4" stroke="#151515" stroke-width="1.2" fill="none" stroke-linejoin="round"/>
<path d="M968.6 1271.6 L975.0 1266.4 L987.7 1263.9 L1013.3 1261.3 L1026.0 1260.7 L1031.2 1256.2 L1045.2 1253.0" stroke="#151515" stroke-width="1.2" fill="none" stroke-linejoin="round"/>
<path d="M1013.3 1263.9 L1026.0 1262.6 L1045.2 1260.1" stroke="#151515" stroke-width="1.2" fill="none" stroke-linejoin="round"/>
<path d="M1013.3 1266.4 L1032.4 1265.2 L1045.2 1263.9" stroke="#151515" stroke-width="1.2" fill="none" stroke-linejoin="round"/>
<path d="M1017.1 1316.3 L1019.7 1299.7 L1028.6 1296.5 L1036.3 1289.4 L1041.4 1282.4 L1045.2 1281.8" stroke="#151515" stroke-width="1.2" fill="none" stroke-linejoin="round"/>
<text x="992.3" y="1277.0" font-size="23.00" text-anchor="middle" fill="#151515" stroke="#151515" stroke-width="0.3" transform="rotate(8 992.3 1277.0)">16</text>
<text x="999.6" y="1281.0" font-size="23.00" text-anchor="middle" fill="#151515" stroke="#151515" stroke-width="0.3" transform="rotate(8 999.6 1281.0)">12</text>
<path d="M799.3 1220.5 L815.3 1263.9 L831.2 1278.0 L852.3 1289.4 L871.5 1295.2 L890.0 1300.3 L911.7 1311.1 L931.5 1316.6 L967.9 1316.3 L1011.4 1327.8 L1045.1 1335.8" stroke="#000" stroke-width="4.4" fill="none" stroke-linejoin="round"/>
<rect x="798.9" y="1166.3" width="246.4" height="205.3" fill="none" stroke="#4a4a4a" stroke-width="1.2"/>
<text x="789.2" y="1174.3" font-size="22.30" text-anchor="end" fill="#262626" stroke="#262626" stroke-width="0.3">0</text>
<path d="M798.9 1225.0 h3 M1045.3 1225.0 h-3" stroke="#4a4a4a" stroke-width="1.1"/>
<text x="789.2" y="1233.0" font-size="22.30" text-anchor="end" fill="#262626" stroke="#262626" stroke-width="0.3">-10</text>
<path d="M798.9 1283.6 h3 M1045.3 1283.6 h-3" stroke="#4a4a4a" stroke-width="1.1"/>
<text x="789.2" y="1291.6" font-size="22.30" text-anchor="end" fill="#262626" stroke="#262626" stroke-width="0.3">-20</text>
<path d="M798.9 1342.3 h3 M1045.3 1342.3 h-3" stroke="#4a4a4a" stroke-width="1.1"/>
<text x="789.2" y="1350.3" font-size="22.30" text-anchor="end" fill="#262626" stroke="#262626" stroke-width="0.3">-30</text>
<path d="M810.6 1371.6 v-3" stroke="#4a4a4a" stroke-width="1.1"/>
<path d="M928.0 1371.6 v-3" stroke="#4a4a4a" stroke-width="1.1"/>
<text x="745.5" y="1269.4" font-size="25.00" text-anchor="middle" fill="#262626" stroke="#262626" stroke-width="0.3" textLength="107.5" lengthAdjust="spacingAndGlyphs" transform="rotate(-90 745.5 1269.4)">Depth [m]</text>
<text x="791.6" y="1162.7" font-size="22.00" text-anchor="start" fill="#000" stroke="#000" stroke-width="0.3" textLength="248.0" lengthAdjust="spacingAndGlyphs">(m) OBS -- Sep-16-2020</text>
<rect x="811.5" y="1353.9" width="100.5" height="8.8" fill="url(#g141)" stroke="#555" stroke-width="1"/>
<path d="M811.5 1353.9 v1.6" stroke="#333" stroke-width="0.8"/>
<text x="811.5" y="1341.0" font-size="20.80" text-anchor="middle" fill="#262626" stroke="#262626" stroke-width="0.3">0</text>
<path d="M912.0 1353.9 v1.6" stroke="#333" stroke-width="0.8"/>
<text x="912.0" y="1341.0" font-size="20.80" text-anchor="middle" fill="#262626" stroke="#262626" stroke-width="0.3">5</text>
<text x="841.5" y="1314.8" font-size="20.5" fill="#262626">NTU</text>
<rect x="87.80" y="1451.30" width="16.70" height="71.40" fill="url(#g142)" shape-rendering="crispEdges"/>
<rect x="104.50" y="1451.30" width="37.40" height="100.40" fill="url(#g143)" shape-rendering="crispEdges"/>
<rect x="141.90" y="1451.30" width="37.50" height="110.10" fill="url(#g144)" shape-rendering="crispEdges"/>
<rect x="179.40" y="1451.30" width="37.30" height="124.80" fill="url(#g145)" shape-rendering="crispEdges"/>
<rect x="216.70" y="1451.30" width="39.60" height="126.70" fill="url(#g146)" shape-rendering="crispEdges"/>
<rect x="256.30" y="1451.30" width="39.40" height="136.70" fill="url(#g147)" shape-rendering="crispEdges"/>
<rect x="295.70" y="1451.30" width="38.30" height="146.70" fill="url(#g148)" shape-rendering="crispEdges"/>
<path d="M121.1 1522.7 L125.3 1516.8 L132.4 1512.1 L146.7 1510.2 L163.3 1509.2" stroke="#f5e9e6" stroke-width="1.1" fill="none" stroke-linejoin="round"/>
<path d="M185.8 1508.5 L215.5 1509.0 L222.6 1511.6 L232.1 1518.0 L241.6 1523.4 L251.1 1527.5 L265.3 1531.0 L277.2 1532.9 L281.9 1536.3 L277.2 1539.3 L270.5 1540.5 L272.4 1545.3 L277.2 1548.8 L279.5 1554.3 L289.0 1556.7 L303.3 1557.1 L319.9 1554.8 L327.0 1551.2 L334.6 1549.5" stroke="#f5e9e6" stroke-width="1.1" fill="none" stroke-linejoin="round"/>
<text x="174.0" y="1517.0" font-size="23.00" text-anchor="middle" fill="#ffffff" stroke="#ffffff" stroke-width="0.3" transform="rotate(0 174.0 1517.0)">16</text>
<path d="M87.8 1495.5 L104.5 1534.6 L141.9 1563.5 L179.4 1572.6 L216.7 1587.5 L256.3 1588.5 L295.7 1599.8 L334.0 1608.0" stroke="#000" stroke-width="4.4" fill="none" stroke-linejoin="round"/>
<rect x="87.8" y="1451.3" width="246.4" height="204.3" fill="none" stroke="#4a4a4a" stroke-width="1.2"/>
<text x="78.1" y="1459.3" font-size="22.30" text-anchor="end" fill="#262626" stroke="#262626" stroke-width="0.3">0</text>
<path d="M87.8 1509.7 h3 M334.2 1509.7 h-3" stroke="#4a4a4a" stroke-width="1.1"/>
<text x="78.1" y="1517.7" font-size="22.30" text-anchor="end" fill="#262626" stroke="#262626" stroke-width="0.3">-10</text>
<path d="M87.8 1568.0 h3 M334.2 1568.0 h-3" stroke="#4a4a4a" stroke-width="1.1"/>
<text x="78.1" y="1576.0" font-size="22.30" text-anchor="end" fill="#262626" stroke="#262626" stroke-width="0.3">-20</text>
<path d="M87.8 1626.4 h3 M334.2 1626.4 h-3" stroke="#4a4a4a" stroke-width="1.1"/>
<text x="78.1" y="1634.4" font-size="22.30" text-anchor="end" fill="#262626" stroke="#262626" stroke-width="0.3">-30</text>
<path d="M99.5 1655.6 v-3" stroke="#4a4a4a" stroke-width="1.1"/>
<path d="M216.9 1655.6 v-3" stroke="#4a4a4a" stroke-width="1.1"/>
<text x="99.5" y="1685.6" font-size="21.50" text-anchor="middle" fill="#262626" stroke="#262626" stroke-width="0.3" textLength="56.0" lengthAdjust="spacingAndGlyphs">41.75</text>
<text x="216.9" y="1685.6" font-size="21.50" text-anchor="middle" fill="#262626" stroke="#262626" stroke-width="0.3" textLength="43.5" lengthAdjust="spacingAndGlyphs">41.8</text>
<text x="334.2" y="1685.6" font-size="21.50" text-anchor="middle" fill="#262626" stroke="#262626" stroke-width="0.3" textLength="56.0" lengthAdjust="spacingAndGlyphs">41.85</text>
<text x="34.4" y="1553.9" font-size="25.00" text-anchor="middle" fill="#262626" stroke="#262626" stroke-width="0.3" textLength="107.5" lengthAdjust="spacingAndGlyphs" transform="rotate(-90 34.4 1553.9)">Depth [m]</text>
<text x="80.5" y="1447.7" font-size="22.00" text-anchor="start" fill="#000" stroke="#000" stroke-width="0.3" textLength="226.0" lengthAdjust="spacingAndGlyphs">(n) DO -- Sep-24-2020</text>
<rect x="98.0" y="1638.9" width="100.5" height="8.8" fill="url(#g149)" stroke="#555" stroke-width="1"/>
<path d="M112.4 1638.9 v1.6" stroke="#333" stroke-width="0.8"/>
<text x="112.4" y="1626.0" font-size="20.80" text-anchor="middle" fill="#262626" stroke="#262626" stroke-width="0.3">2</text>
<path d="M141.1 1638.9 v1.6" stroke="#333" stroke-width="0.8"/>
<text x="141.1" y="1626.0" font-size="20.80" text-anchor="middle" fill="#262626" stroke="#262626" stroke-width="0.3">4</text>
<path d="M169.8 1638.9 v1.6" stroke="#333" stroke-width="0.8"/>
<text x="169.8" y="1626.0" font-size="20.80" text-anchor="middle" fill="#262626" stroke="#262626" stroke-width="0.3">6</text>
<path d="M198.5 1638.9 v1.6" stroke="#333" stroke-width="0.8"/>
<text x="198.5" y="1626.0" font-size="20.80" text-anchor="middle" fill="#262626" stroke="#262626" stroke-width="0.3">8</text>
<text x="124.0" y="1599.8" font-size="21.5" fill="#262626">mg/L</text>
<rect x="443.40" y="1451.30" width="16.70" height="71.40" fill="url(#g150)" shape-rendering="crispEdges"/>
<rect x="460.10" y="1451.30" width="37.40" height="100.40" fill="url(#g151)" shape-rendering="crispEdges"/>
<rect x="497.50" y="1451.30" width="37.50" height="110.10" fill="url(#g152)" shape-rendering="crispEdges"/>
<rect x="535.00" y="1451.30" width="37.30" height="124.80" fill="url(#g153)" shape-rendering="crispEdges"/>
<rect x="572.30" y="1451.30" width="39.60" height="126.70" fill="url(#g154)" shape-rendering="crispEdges"/>
<rect x="611.90" y="1451.30" width="39.40" height="136.70" fill="url(#g155)" shape-rendering="crispEdges"/>
<rect x="651.30" y="1451.30" width="38.30" height="146.70" fill="url(#g156)" shape-rendering="crispEdges"/>
<rect x="443.4" y="1480.4" width="16.7" height="2.0" fill="#a6da9c" opacity="0.41" shape-rendering="crispEdges"/><rect x="443.4" y="1482.4" width="16.7" height="1.0" fill="#b5e2ab" opacity="0.35" shape-rendering="crispEdges"/><rect x="443.4" y="1487.8" width="16.7" height="1.0" fill="#bde8b4" opacity="0.49" shape-rendering="crispEdges"/><rect x="443.4" y="1489.9" width="16.7" height="1.0" fill="#bbe6b2" opacity="0.36" shape-rendering="crispEdges"/><rect x="443.4" y="1515.1" width="16.7" height="1.5" fill="#b5e2ab" opacity="0.58" shape-rendering="crispEdges"/><rect x="460.1" y="1456.0" width="37.4" height="2.5" fill="#afdfa5" opacity="0.48" shape-rendering="crispEdges"/><rect x="460.1" y="1460.7" width="37.4" height="1.5" fill="#a8da9e" opacity="0.44" shape-rendering="crispEdges"/><rect x="460.1" y="1468.3" width="37.4" height="1.0" fill="#a3d89a" opacity="0.41" shape-rendering="crispEdges"/><rect x="460.1" y="1475.0" width="37.4" height="1.0" fill="#b3e2aa" opacity="0.51" shape-rendering="crispEdges"/><rect x="460.1" y="1481.3" width="37.4" height="2.0" fill="#b7e4ad" opacity="0.41" shape-rendering="crispEdges"/><rect x="460.1" y="1495.8" width="37.4" height="2.5" fill="#b6e3ac" opacity="0.34" shape-rendering="crispEdges"/><rect x="460.1" y="1515.3" width="37.4" height="2.5" fill="#b1e0a7" opacity="0.42" shape-rendering="crispEdges"/><rect x="460.1" y="1526.5" width="37.4" height="1.0" fill="#a8db9e" opacity="0.40" shape-rendering="crispEdges"/><rect x="460.1" y="1533.0" width="37.4" height="2.0" fill="#bfe9b5" opacity="0.43" shape-rendering="crispEdges"/><rect x="497.5" y="1466.5" width="37.5" height="2.0" fill="#a5d99b" opacity="0.33" shape-rendering="crispEdges"/><rect x="497.5" y="1479.5" width="37.5" height="2.0" fill="#b9e5b0" opacity="0.53" shape-rendering="crispEdges"/><rect x="497.5" y="1484.9" width="37.5" height="1.5" fill="#acdda2" opacity="0.50" shape-rendering="crispEdges"/><rect x="497.5" y="1489.8" width="37.5" height="1.5" fill="#a7da9d" opacity="0.38" shape-rendering="crispEdges"/><rect x="497.5" y="1501.5" width="37.5" height="1.0" fill="#afdfa5" opacity="0.30" shape-rendering="crispEdges"/><rect x="497.5" y="1505.5" width="37.5" height="1.5" fill="#b3e1a9" opacity="0.55" shape-rendering="crispEdges"/><rect x="497.5" y="1553.3" width="37.5" height="2.5" fill="#b1e0a8" opacity="0.58" shape-rendering="crispEdges"/><rect x="535.0" y="1461.6" width="37.3" height="1.0" fill="#bce7b2" opacity="0.48" shape-rendering="crispEdges"/><rect x="535.0" y="1465.9" width="37.3" height="1.0" fill="#aedea4" opacity="0.31" shape-rendering="crispEdges"/><rect x="535.0" y="1469.5" width="37.3" height="1.0" fill="#a5d99c" opacity="0.33" shape-rendering="crispEdges"/><rect x="535.0" y="1479.3" width="37.3" height="1.5" fill="#b6e3ac" opacity="0.48" shape-rendering="crispEdges"/><rect x="535.0" y="1483.5" width="37.3" height="1.5" fill="#c2ebb9" opacity="0.42" shape-rendering="crispEdges"/><rect x="535.0" y="1486.2" width="37.3" height="1.0" fill="#acdda2" opacity="0.46" shape-rendering="crispEdges"/><rect x="535.0" y="1494.9" width="37.3" height="2.5" fill="#b7e4ad" opacity="0.47" shape-rendering="crispEdges"/><rect x="535.0" y="1508.5" width="37.3" height="1.0" fill="#bde8b4" opacity="0.41" shape-rendering="crispEdges"/><rect x="535.0" y="1512.2" width="37.3" height="1.0" fill="#aedfa5" opacity="0.41" shape-rendering="crispEdges"/><rect x="535.0" y="1517.7" width="37.3" height="1.0" fill="#b8e4ae" opacity="0.57" shape-rendering="crispEdges"/><rect x="535.0" y="1521.6" width="37.3" height="2.5" fill="#b6e3ac" opacity="0.43" shape-rendering="crispEdges"/><rect x="535.0" y="1524.1" width="37.3" height="2.0" fill="#b6e3ac" opacity="0.56" shape-rendering="crispEdges"/><rect x="535.0" y="1531.2" width="37.3" height="1.5" fill="#b5e2ab" opacity="0.40" shape-rendering="crispEdges"/><rect x="535.0" y="1545.4" width="37.3" height="1.0" fill="#a7da9e" opacity="0.30" shape-rendering="crispEdges"/><rect x="535.0" y="1549.3" width="37.3" height="2.0" fill="#a9db9f" opacity="0.37" shape-rendering="crispEdges"/><rect x="535.0" y="1552.0" width="37.3" height="1.5" fill="#b9e5af" opacity="0.48" shape-rendering="crispEdges"/><rect x="535.0" y="1567.8" width="37.3" height="2.5" fill="#c1eab8" opacity="0.40" shape-rendering="crispEdges"/><rect x="572.3" y="1460.0" width="39.6" height="2.5" fill="#b3e1a9" opacity="0.57" shape-rendering="crispEdges"/><rect x="572.3" y="1482.0" width="39.6" height="1.0" fill="#a5d99b" opacity="0.44" shape-rendering="crispEdges"/><rect x="572.3" y="1487.0" width="39.6" height="1.0" fill="#acdda2" opacity="0.43" shape-rendering="crispEdges"/><rect x="572.3" y="1495.3" width="39.6" height="2.0" fill="#acdda2" opacity="0.57" shape-rendering="crispEdges"/><rect x="572.3" y="1509.1" width="39.6" height="1.0" fill="#addda3" opacity="0.31" shape-rendering="crispEdges"/><rect x="572.3" y="1531.9" width="39.6" height="2.0" fill="#bde8b4" opacity="0.48" shape-rendering="crispEdges"/><rect x="572.3" y="1535.3" width="39.6" height="2.5" fill="#bbe6b2" opacity="0.47" shape-rendering="crispEdges"/><rect x="572.3" y="1544.5" width="39.6" height="2.5" fill="#bee8b4" opacity="0.43" shape-rendering="crispEdges"/><rect x="572.3" y="1554.3" width="39.6" height="1.5" fill="#bde8b4" opacity="0.49" shape-rendering="crispEdges"/><rect x="572.3" y="1571.3" width="39.6" height="1.0" fill="#a6da9d" opacity="0.44" shape-rendering="crispEdges"/><rect x="611.9" y="1456.6" width="39.4" height="1.0" fill="#addea3" opacity="0.33" shape-rendering="crispEdges"/><rect x="611.9" y="1461.1" width="39.4" height="1.0" fill="#b2e0a8" opacity="0.44" shape-rendering="crispEdges"/><rect x="611.9" y="1470.1" width="39.4" height="2.5" fill="#c1eab8" opacity="0.52" shape-rendering="crispEdges"/><rect x="611.9" y="1471.9" width="39.4" height="2.0" fill="#acdda2" opacity="0.37" shape-rendering="crispEdges"/><rect x="611.9" y="1483.6" width="39.4" height="1.5" fill="#a4d89a" opacity="0.51" shape-rendering="crispEdges"/><rect x="611.9" y="1488.7" width="39.4" height="1.5" fill="#addea3" opacity="0.54" shape-rendering="crispEdges"/><rect x="611.9" y="1503.3" width="39.4" height="1.0" fill="#bce7b3" opacity="0.36" shape-rendering="crispEdges"/><rect x="611.9" y="1511.5" width="39.4" height="2.0" fill="#b3e1a9" opacity="0.57" shape-rendering="crispEdges"/><rect x="611.9" y="1515.8" width="39.4" height="2.0" fill="#b3e1a9" opacity="0.36" shape-rendering="crispEdges"/><rect x="611.9" y="1520.3" width="39.4" height="2.0" fill="#a6da9c" opacity="0.44" shape-rendering="crispEdges"/><rect x="611.9" y="1524.2" width="39.4" height="1.0" fill="#aadca0" opacity="0.50" shape-rendering="crispEdges"/><rect x="611.9" y="1531.9" width="39.4" height="1.0" fill="#acdda3" opacity="0.44" shape-rendering="crispEdges"/><rect x="611.9" y="1537.6" width="39.4" height="1.5" fill="#b9e5af" opacity="0.50" shape-rendering="crispEdges"/><rect x="611.9" y="1542.4" width="39.4" height="1.0" fill="#abdca1" opacity="0.47" shape-rendering="crispEdges"/><rect x="611.9" y="1557.0" width="39.4" height="1.5" fill="#b9e5af" opacity="0.52" shape-rendering="crispEdges"/><rect x="611.9" y="1561.7" width="39.4" height="1.0" fill="#bce7b3" opacity="0.36" shape-rendering="crispEdges"/><rect x="611.9" y="1568.2" width="39.4" height="2.0" fill="#c0eab7" opacity="0.53" shape-rendering="crispEdges"/><rect x="611.9" y="1571.6" width="39.4" height="2.5" fill="#a7da9d" opacity="0.55" shape-rendering="crispEdges"/><rect x="611.9" y="1580.3" width="39.4" height="2.0" fill="#bfe9b6" opacity="0.44" shape-rendering="crispEdges"/><rect x="651.3" y="1479.0" width="38.3" height="1.0" fill="#bfe9b6" opacity="0.39" shape-rendering="crispEdges"/><rect x="651.3" y="1492.0" width="38.3" height="1.0" fill="#b4e2aa" opacity="0.41" shape-rendering="crispEdges"/><rect x="651.3" y="1499.3" width="38.3" height="1.0" fill="#a4d99b" opacity="0.39" shape-rendering="crispEdges"/><rect x="651.3" y="1505.3" width="38.3" height="1.5" fill="#b2e1a9" opacity="0.53" shape-rendering="crispEdges"/><rect x="651.3" y="1508.0" width="38.3" height="1.0" fill="#bee8b4" opacity="0.32" shape-rendering="crispEdges"/><rect x="651.3" y="1510.6" width="38.3" height="2.0" fill="#a3d899" opacity="0.50" shape-rendering="crispEdges"/><rect x="651.3" y="1526.5" width="38.3" height="1.5" fill="#b6e3ac" opacity="0.53" shape-rendering="crispEdges"/><rect x="651.3" y="1528.0" width="38.3" height="1.0" fill="#afdfa6" opacity="0.43" shape-rendering="crispEdges"/><rect x="651.3" y="1543.6" width="38.3" height="2.0" fill="#b0dfa6" opacity="0.40" shape-rendering="crispEdges"/><rect x="651.3" y="1546.5" width="38.3" height="2.0" fill="#acdda2" opacity="0.39" shape-rendering="crispEdges"/><rect x="651.3" y="1552.3" width="38.3" height="1.0" fill="#a3d899" opacity="0.55" shape-rendering="crispEdges"/><rect x="651.3" y="1555.8" width="38.3" height="2.5" fill="#c1ebb8" opacity="0.46" shape-rendering="crispEdges"/><rect x="651.3" y="1557.8" width="38.3" height="1.5" fill="#c1ebb9" opacity="0.48" shape-rendering="crispEdges"/><rect x="651.3" y="1575.8" width="38.3" height="1.5" fill="#b4e2aa" opacity="0.37" shape-rendering="crispEdges"/><rect x="651.3" y="1580.0" width="38.3" height="1.0" fill="#a9dba0" opacity="0.58" shape-rendering="crispEdges"/><rect x="651.3" y="1588.1" width="38.3" height="2.0" fill="#acdda2" opacity="0.36" shape-rendering="crispEdges"/>
<path d="M476.7 1522.7 L480.9 1516.8 L488.0 1512.1 L502.3 1510.2 L518.9 1509.2" stroke="#151515" stroke-width="1.2" fill="none" stroke-linejoin="round"/>
<path d="M541.4 1508.5 L571.1 1509.0 L578.2 1511.6 L587.7 1518.0 L597.2 1523.4 L606.7 1527.5 L620.9 1531.0 L632.8 1532.9 L637.5 1536.3 L632.8 1539.3 L626.1 1540.5 L628.0 1545.3 L632.8 1548.8 L635.1 1554.3 L644.6 1556.7 L658.9 1557.1 L675.5 1554.8 L682.6 1551.2 L690.2 1549.5" stroke="#151515" stroke-width="1.2" fill="none" stroke-linejoin="round"/>
<text x="529.6" y="1517.0" font-size="23.00" text-anchor="middle" fill="#151515" stroke="#151515" stroke-width="0.3" transform="rotate(0 529.6 1517.0)">16</text>
<path d="M443.4 1495.5 L460.1 1534.6 L497.5 1563.5 L535.0 1572.6 L572.3 1587.5 L611.9 1588.5 L651.3 1599.8 L689.6 1608.0" stroke="#000" stroke-width="4.4" fill="none" stroke-linejoin="round"/>
<rect x="443.4" y="1451.3" width="246.4" height="204.3" fill="none" stroke="#4a4a4a" stroke-width="1.2"/>
<text x="433.7" y="1459.3" font-size="22.30" text-anchor="end" fill="#262626" stroke="#262626" stroke-width="0.3">0</text>
<path d="M443.4 1509.7 h3 M689.8 1509.7 h-3" stroke="#4a4a4a" stroke-width="1.1"/>
<text x="433.7" y="1517.7" font-size="22.30" text-anchor="end" fill="#262626" stroke="#262626" stroke-width="0.3">-10</text>
<path d="M443.4 1568.0 h3 M689.8 1568.0 h-3" stroke="#4a4a4a" stroke-width="1.1"/>
<text x="433.7" y="1576.0" font-size="22.30" text-anchor="end" fill="#262626" stroke="#262626" stroke-width="0.3">-20</text>
<path d="M443.4 1626.4 h3 M689.8 1626.4 h-3" stroke="#4a4a4a" stroke-width="1.1"/>
<text x="433.7" y="1634.4" font-size="22.30" text-anchor="end" fill="#262626" stroke="#262626" stroke-width="0.3">-30</text>
<path d="M455.1 1655.6 v-3" stroke="#4a4a4a" stroke-width="1.1"/>
<path d="M572.5 1655.6 v-3" stroke="#4a4a4a" stroke-width="1.1"/>
<text x="455.1" y="1685.6" font-size="21.50" text-anchor="middle" fill="#262626" stroke="#262626" stroke-width="0.3" textLength="56.0" lengthAdjust="spacingAndGlyphs">41.75</text>
<text x="572.5" y="1685.6" font-size="21.50" text-anchor="middle" fill="#262626" stroke="#262626" stroke-width="0.3" textLength="43.5" lengthAdjust="spacingAndGlyphs">41.8</text>
<text x="689.8" y="1685.6" font-size="21.50" text-anchor="middle" fill="#262626" stroke="#262626" stroke-width="0.3" textLength="56.0" lengthAdjust="spacingAndGlyphs">41.85</text>
<text x="390.0" y="1553.9" font-size="25.00" text-anchor="middle" fill="#262626" stroke="#262626" stroke-width="0.3" textLength="107.5" lengthAdjust="spacingAndGlyphs" transform="rotate(-90 390.0 1553.9)">Depth [m]</text>
<text x="436.1" y="1447.7" font-size="22.00" text-anchor="start" fill="#000" stroke="#000" stroke-width="0.3" textLength="255.0" lengthAdjust="spacingAndGlyphs">(o) Chlor. -- Sep-24-2020</text>
<rect x="453.6" y="1638.9" width="100.5" height="8.8" fill="url(#g157)" stroke="#555" stroke-width="1"/>
<path d="M453.6 1638.9 v1.6" stroke="#333" stroke-width="0.8"/>
<text x="453.6" y="1626.0" font-size="20.80" text-anchor="middle" fill="#262626" stroke="#262626" stroke-width="0.3">0</text>
<path d="M503.9 1638.9 v1.6" stroke="#333" stroke-width="0.8"/>
<text x="503.9" y="1626.0" font-size="20.80" text-anchor="middle" fill="#262626" stroke="#262626" stroke-width="0.3">50</text>
<path d="M554.1 1638.9 v1.6" stroke="#333" stroke-width="0.8"/>
<text x="554.9" y="1626.0" font-size="20.80" text-anchor="middle" fill="#262626" stroke="#262626" stroke-width="0.3">100</text>
<text x="483.6" y="1599.8" font-size="20.5" fill="#262626"><tspan font-family="Liberation Serif, serif" font-style="italic" font-size="21">µ</tspan>g/L</text>
<rect x="798.90" y="1451.30" width="16.70" height="71.40" fill="url(#g158)" shape-rendering="crispEdges"/>
<rect x="815.60" y="1451.30" width="37.40" height="100.40" fill="url(#g159)" shape-rendering="crispEdges"/>
<rect x="853.00" y="1451.30" width="37.50" height="110.10" fill="url(#g160)" shape-rendering="crispEdges"/>
<rect x="890.50" y="1451.30" width="37.30" height="124.80" fill="url(#g161)" shape-rendering="crispEdges"/>
<rect x="927.80" y="1451.30" width="39.60" height="126.70" fill="url(#g162)" shape-rendering="crispEdges"/>
<rect x="967.40" y="1451.30" width="39.40" height="136.70" fill="url(#g163)" shape-rendering="crispEdges"/>
<rect x="1006.80" y="1451.30" width="38.30" height="146.70" fill="url(#g164)" shape-rendering="crispEdges"/>
<rect x="798.9" y="1456.3" width="16.7" height="1.0" fill="#ddd586" opacity="0.46" shape-rendering="crispEdges"/><rect x="798.9" y="1459.4" width="16.7" height="2.5" fill="#d9cc7c" opacity="0.33" shape-rendering="crispEdges"/><rect x="798.9" y="1462.8" width="16.7" height="2.5" fill="#d4bf6d" opacity="0.55" shape-rendering="crispEdges"/><rect x="798.9" y="1464.8" width="16.7" height="2.5" fill="#c69e52" opacity="0.47" shape-rendering="crispEdges"/><rect x="798.9" y="1472.6" width="16.7" height="1.0" fill="#d0b665" opacity="0.47" shape-rendering="crispEdges"/><rect x="798.9" y="1477.2" width="16.7" height="2.5" fill="#cfb161" opacity="0.41" shape-rendering="crispEdges"/><rect x="798.9" y="1481.2" width="16.7" height="1.0" fill="#cfb362" opacity="0.45" shape-rendering="crispEdges"/><rect x="798.9" y="1491.8" width="16.7" height="1.0" fill="#cdae5e" opacity="0.37" shape-rendering="crispEdges"/><rect x="798.9" y="1495.9" width="16.7" height="1.5" fill="#ccac5c" opacity="0.39" shape-rendering="crispEdges"/><rect x="798.9" y="1501.8" width="16.7" height="2.0" fill="#dacf7f" opacity="0.40" shape-rendering="crispEdges"/><rect x="798.9" y="1507.5" width="16.7" height="1.0" fill="#ccaa5b" opacity="0.47" shape-rendering="crispEdges"/><rect x="798.9" y="1512.9" width="16.7" height="1.5" fill="#d0b463" opacity="0.47" shape-rendering="crispEdges"/><rect x="815.6" y="1462.6" width="37.4" height="1.0" fill="#ddd687" opacity="0.51" shape-rendering="crispEdges"/><rect x="815.6" y="1472.2" width="37.4" height="2.0" fill="#c9a254" opacity="0.40" shape-rendering="crispEdges"/><rect x="815.6" y="1477.9" width="37.4" height="2.5" fill="#dcd383" opacity="0.32" shape-rendering="crispEdges"/><rect x="815.6" y="1482.9" width="37.4" height="1.0" fill="#d5c06f" opacity="0.58" shape-rendering="crispEdges"/><rect x="815.6" y="1486.6" width="37.4" height="2.0" fill="#d1b766" opacity="0.57" shape-rendering="crispEdges"/><rect x="815.6" y="1494.6" width="37.4" height="1.5" fill="#ceaf5f" opacity="0.41" shape-rendering="crispEdges"/><rect x="815.6" y="1497.1" width="37.4" height="1.0" fill="#d9cb7b" opacity="0.37" shape-rendering="crispEdges"/><rect x="815.6" y="1500.8" width="37.4" height="1.5" fill="#d7c877" opacity="0.34" shape-rendering="crispEdges"/><rect x="815.6" y="1504.7" width="37.4" height="1.5" fill="#c69e51" opacity="0.51" shape-rendering="crispEdges"/><rect x="815.6" y="1508.5" width="37.4" height="1.0" fill="#d3bc6b" opacity="0.56" shape-rendering="crispEdges"/><rect x="815.6" y="1514.3" width="37.4" height="2.5" fill="#d5c16f" opacity="0.42" shape-rendering="crispEdges"/><rect x="815.6" y="1516.3" width="37.4" height="1.0" fill="#dace7e" opacity="0.60" shape-rendering="crispEdges"/><rect x="815.6" y="1519.8" width="37.4" height="2.5" fill="#ddd788" opacity="0.30" shape-rendering="crispEdges"/><rect x="815.6" y="1521.9" width="37.4" height="1.5" fill="#cfb362" opacity="0.32" shape-rendering="crispEdges"/><rect x="815.6" y="1524.4" width="37.4" height="1.5" fill="#c69e51" opacity="0.48" shape-rendering="crispEdges"/><rect x="815.6" y="1528.0" width="37.4" height="2.0" fill="#c49b50" opacity="0.44" shape-rendering="crispEdges"/><rect x="815.6" y="1531.7" width="37.4" height="1.0" fill="#ccab5b" opacity="0.52" shape-rendering="crispEdges"/><rect x="815.6" y="1535.3" width="37.4" height="2.5" fill="#ded98a" opacity="0.59" shape-rendering="crispEdges"/><rect x="815.6" y="1539.2" width="37.4" height="2.5" fill="#c8a153" opacity="0.53" shape-rendering="crispEdges"/><rect x="815.6" y="1542.1" width="37.4" height="1.0" fill="#cdae5e" opacity="0.38" shape-rendering="crispEdges"/><rect x="853.0" y="1456.5" width="37.5" height="1.0" fill="#d1b866" opacity="0.53" shape-rendering="crispEdges"/><rect x="853.0" y="1459.4" width="37.5" height="1.0" fill="#cba758" opacity="0.55" shape-rendering="crispEdges"/><rect x="853.0" y="1464.3" width="37.5" height="2.5" fill="#d2ba69" opacity="0.52" shape-rendering="crispEdges"/><rect x="853.0" y="1473.8" width="37.5" height="2.5" fill="#c69e51" opacity="0.43" shape-rendering="crispEdges"/><rect x="853.0" y="1485.4" width="37.5" height="1.0" fill="#dcd484" opacity="0.44" shape-rendering="crispEdges"/><rect x="853.0" y="1488.4" width="37.5" height="2.5" fill="#caa557" opacity="0.44" shape-rendering="crispEdges"/><rect x="853.0" y="1494.7" width="37.5" height="2.0" fill="#cba95a" opacity="0.53" shape-rendering="crispEdges"/><rect x="853.0" y="1498.3" width="37.5" height="1.5" fill="#dcd585" opacity="0.58" shape-rendering="crispEdges"/><rect x="853.0" y="1503.1" width="37.5" height="1.0" fill="#cdac5d" opacity="0.35" shape-rendering="crispEdges"/><rect x="853.0" y="1505.2" width="37.5" height="2.0" fill="#cba758" opacity="0.34" shape-rendering="crispEdges"/><rect x="853.0" y="1514.8" width="37.5" height="2.5" fill="#d1b766" opacity="0.31" shape-rendering="crispEdges"/><rect x="853.0" y="1528.0" width="37.5" height="2.5" fill="#d9cb7a" opacity="0.48" shape-rendering="crispEdges"/><rect x="853.0" y="1530.7" width="37.5" height="1.0" fill="#ddd687" opacity="0.52" shape-rendering="crispEdges"/><rect x="853.0" y="1536.2" width="37.5" height="2.5" fill="#d4bf6d" opacity="0.58" shape-rendering="crispEdges"/><rect x="853.0" y="1540.0" width="37.5" height="2.5" fill="#d2b968" opacity="0.56" shape-rendering="crispEdges"/><rect x="853.0" y="1545.0" width="37.5" height="1.0" fill="#dacf7f" opacity="0.44" shape-rendering="crispEdges"/><rect x="853.0" y="1549.8" width="37.5" height="1.5" fill="#ceaf5f" opacity="0.46" shape-rendering="crispEdges"/><rect x="890.5" y="1458.8" width="37.3" height="1.0" fill="#d8c877" opacity="0.53" shape-rendering="crispEdges"/><rect x="890.5" y="1462.6" width="37.3" height="1.0" fill="#d4bd6c" opacity="0.48" shape-rendering="crispEdges"/><rect x="890.5" y="1466.3" width="37.3" height="1.5" fill="#d3bd6b" opacity="0.46" shape-rendering="crispEdges"/><rect x="890.5" y="1480.4" width="37.3" height="2.5" fill="#c8a254" opacity="0.36" shape-rendering="crispEdges"/><rect x="890.5" y="1483.9" width="37.3" height="2.0" fill="#d4bd6c" opacity="0.32" shape-rendering="crispEdges"/><rect x="890.5" y="1486.5" width="37.3" height="1.5" fill="#cba95a" opacity="0.57" shape-rendering="crispEdges"/><rect x="890.5" y="1493.1" width="37.3" height="1.0" fill="#c69d51" opacity="0.37" shape-rendering="crispEdges"/><rect x="890.5" y="1498.9" width="37.3" height="2.0" fill="#dad080" opacity="0.50" shape-rendering="crispEdges"/><rect x="890.5" y="1507.4" width="37.3" height="2.0" fill="#dacd7d" opacity="0.40" shape-rendering="crispEdges"/><rect x="890.5" y="1512.2" width="37.3" height="2.5" fill="#d3bc6a" opacity="0.51" shape-rendering="crispEdges"/><rect x="890.5" y="1515.4" width="37.3" height="1.5" fill="#d2b968" opacity="0.32" shape-rendering="crispEdges"/><rect x="890.5" y="1527.2" width="37.3" height="1.5" fill="#d8c878" opacity="0.57" shape-rendering="crispEdges"/><rect x="890.5" y="1542.6" width="37.3" height="2.5" fill="#d0b665" opacity="0.51" shape-rendering="crispEdges"/><rect x="890.5" y="1544.5" width="37.3" height="1.0" fill="#d4bf6d" opacity="0.32" shape-rendering="crispEdges"/><rect x="890.5" y="1550.2" width="37.3" height="1.5" fill="#dcd585" opacity="0.56" shape-rendering="crispEdges"/><rect x="890.5" y="1555.5" width="37.3" height="2.5" fill="#d4bf6d" opacity="0.57" shape-rendering="crispEdges"/><rect x="890.5" y="1559.8" width="37.3" height="1.0" fill="#c79f52" opacity="0.59" shape-rendering="crispEdges"/><rect x="890.5" y="1562.5" width="37.3" height="1.5" fill="#cfb262" opacity="0.46" shape-rendering="crispEdges"/><rect x="890.5" y="1564.9" width="37.3" height="1.0" fill="#d8c978" opacity="0.54" shape-rendering="crispEdges"/><rect x="890.5" y="1570.9" width="37.3" height="1.0" fill="#ccac5c" opacity="0.47" shape-rendering="crispEdges"/><rect x="927.8" y="1455.7" width="39.6" height="2.0" fill="#dcd384" opacity="0.55" shape-rendering="crispEdges"/><rect x="927.8" y="1459.1" width="39.6" height="2.0" fill="#c59c51" opacity="0.39" shape-rendering="crispEdges"/><rect x="927.8" y="1461.6" width="39.6" height="1.0" fill="#caa657" opacity="0.51" shape-rendering="crispEdges"/><rect x="927.8" y="1465.9" width="39.6" height="1.5" fill="#c59c50" opacity="0.55" shape-rendering="crispEdges"/><rect x="927.8" y="1467.5" width="39.6" height="1.5" fill="#d4be6c" opacity="0.32" shape-rendering="crispEdges"/><rect x="927.8" y="1472.0" width="39.6" height="2.5" fill="#ceb05f" opacity="0.38" shape-rendering="crispEdges"/><rect x="927.8" y="1474.6" width="39.6" height="2.0" fill="#dace7e" opacity="0.38" shape-rendering="crispEdges"/><rect x="927.8" y="1476.1" width="39.6" height="1.5" fill="#c59c51" opacity="0.46" shape-rendering="crispEdges"/><rect x="927.8" y="1481.6" width="39.6" height="1.0" fill="#d6c473" opacity="0.33" shape-rendering="crispEdges"/><rect x="927.8" y="1484.3" width="39.6" height="1.0" fill="#d2ba68" opacity="0.30" shape-rendering="crispEdges"/><rect x="927.8" y="1487.0" width="39.6" height="2.0" fill="#d0b564" opacity="0.42" shape-rendering="crispEdges"/><rect x="927.8" y="1489.9" width="39.6" height="1.0" fill="#d0b564" opacity="0.46" shape-rendering="crispEdges"/><rect x="927.8" y="1494.8" width="39.6" height="2.5" fill="#d5c16f" opacity="0.40" shape-rendering="crispEdges"/><rect x="927.8" y="1500.7" width="39.6" height="2.5" fill="#cfb161" opacity="0.31" shape-rendering="crispEdges"/><rect x="927.8" y="1515.4" width="39.6" height="2.5" fill="#ccab5b" opacity="0.47" shape-rendering="crispEdges"/><rect x="927.8" y="1520.6" width="39.6" height="2.5" fill="#cba859" opacity="0.51" shape-rendering="crispEdges"/><rect x="927.8" y="1526.4" width="39.6" height="1.0" fill="#ded889" opacity="0.34" shape-rendering="crispEdges"/><rect x="927.8" y="1529.5" width="39.6" height="2.0" fill="#d1b665" opacity="0.49" shape-rendering="crispEdges"/><rect x="927.8" y="1533.8" width="39.6" height="2.0" fill="#d8c978" opacity="0.44" shape-rendering="crispEdges"/><rect x="927.8" y="1541.2" width="39.6" height="2.5" fill="#ddd687" opacity="0.52" shape-rendering="crispEdges"/><rect x="927.8" y="1543.8" width="39.6" height="1.5" fill="#d9cb7a" opacity="0.53" shape-rendering="crispEdges"/><rect x="927.8" y="1546.4" width="39.6" height="2.0" fill="#d2ba68" opacity="0.41" shape-rendering="crispEdges"/><rect x="927.8" y="1550.0" width="39.6" height="1.0" fill="#cfb362" opacity="0.49" shape-rendering="crispEdges"/><rect x="927.8" y="1551.9" width="39.6" height="1.5" fill="#ceb160" opacity="0.51" shape-rendering="crispEdges"/><rect x="927.8" y="1556.2" width="39.6" height="2.0" fill="#ddd687" opacity="0.38" shape-rendering="crispEdges"/><rect x="927.8" y="1560.7" width="39.6" height="2.0" fill="#d7c776" opacity="0.45" shape-rendering="crispEdges"/><rect x="927.8" y="1564.3" width="39.6" height="1.0" fill="#c49b50" opacity="0.46" shape-rendering="crispEdges"/><rect x="927.8" y="1567.2" width="39.6" height="2.0" fill="#ded98a" opacity="0.44" shape-rendering="crispEdges"/><rect x="967.4" y="1456.8" width="39.4" height="1.0" fill="#c8a153" opacity="0.58" shape-rendering="crispEdges"/><rect x="967.4" y="1458.7" width="39.4" height="2.5" fill="#d8c979" opacity="0.41" shape-rendering="crispEdges"/><rect x="967.4" y="1462.9" width="39.4" height="1.5" fill="#c9a254" opacity="0.51" shape-rendering="crispEdges"/><rect x="967.4" y="1469.1" width="39.4" height="1.0" fill="#c69e52" opacity="0.50" shape-rendering="crispEdges"/><rect x="967.4" y="1475.8" width="39.4" height="1.0" fill="#caa557" opacity="0.30" shape-rendering="crispEdges"/><rect x="967.4" y="1490.2" width="39.4" height="2.0" fill="#d5c16f" opacity="0.56" shape-rendering="crispEdges"/><rect x="967.4" y="1499.7" width="39.4" height="1.5" fill="#cfb261" opacity="0.34" shape-rendering="crispEdges"/><rect x="967.4" y="1505.6" width="39.4" height="1.5" fill="#dace7e" opacity="0.41" shape-rendering="crispEdges"/><rect x="967.4" y="1516.6" width="39.4" height="2.5" fill="#d1b766" opacity="0.52" shape-rendering="crispEdges"/><rect x="967.4" y="1526.2" width="39.4" height="1.0" fill="#c8a153" opacity="0.47" shape-rendering="crispEdges"/><rect x="967.4" y="1528.5" width="39.4" height="1.5" fill="#d7c776" opacity="0.52" shape-rendering="crispEdges"/><rect x="967.4" y="1534.4" width="39.4" height="1.0" fill="#d7c776" opacity="0.47" shape-rendering="crispEdges"/><rect x="967.4" y="1537.7" width="39.4" height="1.0" fill="#ddd586" opacity="0.45" shape-rendering="crispEdges"/><rect x="967.4" y="1542.8" width="39.4" height="2.0" fill="#c8a153" opacity="0.60" shape-rendering="crispEdges"/><rect x="967.4" y="1546.3" width="39.4" height="1.0" fill="#d8ca7a" opacity="0.35" shape-rendering="crispEdges"/><rect x="967.4" y="1550.3" width="39.4" height="1.5" fill="#d8c979" opacity="0.47" shape-rendering="crispEdges"/><rect x="967.4" y="1559.2" width="39.4" height="2.5" fill="#d9cd7c" opacity="0.38" shape-rendering="crispEdges"/><rect x="967.4" y="1564.1" width="39.4" height="2.5" fill="#c69d51" opacity="0.34" shape-rendering="crispEdges"/><rect x="967.4" y="1567.8" width="39.4" height="1.0" fill="#dcd485" opacity="0.57" shape-rendering="crispEdges"/><rect x="967.4" y="1571.1" width="39.4" height="2.0" fill="#c69e51" opacity="0.55" shape-rendering="crispEdges"/><rect x="967.4" y="1576.5" width="39.4" height="1.0" fill="#d4bf6d" opacity="0.53" shape-rendering="crispEdges"/><rect x="1006.8" y="1457.0" width="38.3" height="2.5" fill="#c9a456" opacity="0.59" shape-rendering="crispEdges"/><rect x="1006.8" y="1459.6" width="38.3" height="1.0" fill="#dbd080" opacity="0.59" shape-rendering="crispEdges"/><rect x="1006.8" y="1471.8" width="38.3" height="1.0" fill="#deda8b" opacity="0.34" shape-rendering="crispEdges"/><rect x="1006.8" y="1475.9" width="38.3" height="1.5" fill="#c69d51" opacity="0.49" shape-rendering="crispEdges"/><rect x="1006.8" y="1479.7" width="38.3" height="1.0" fill="#dcd484" opacity="0.39" shape-rendering="crispEdges"/><rect x="1006.8" y="1485.5" width="38.3" height="1.5" fill="#d9cc7b" opacity="0.48" shape-rendering="crispEdges"/><rect x="1006.8" y="1487.0" width="38.3" height="2.0" fill="#d8c877" opacity="0.39" shape-rendering="crispEdges"/><rect x="1006.8" y="1492.3" width="38.3" height="2.5" fill="#d9cb7a" opacity="0.37" shape-rendering="crispEdges"/><rect x="1006.8" y="1501.0" width="38.3" height="2.0" fill="#c9a354" opacity="0.49" shape-rendering="crispEdges"/><rect x="1006.8" y="1502.9" width="38.3" height="2.0" fill="#c7a052" opacity="0.37" shape-rendering="crispEdges"/><rect x="1006.8" y="1504.5" width="38.3" height="2.0" fill="#d6c371" opacity="0.42" shape-rendering="crispEdges"/><rect x="1006.8" y="1506.1" width="38.3" height="2.5" fill="#ddd686" opacity="0.45" shape-rendering="crispEdges"/><rect x="1006.8" y="1510.8" width="38.3" height="1.5" fill="#ccaa5b" opacity="0.39" shape-rendering="crispEdges"/><rect x="1006.8" y="1516.6" width="38.3" height="1.0" fill="#c8a254" opacity="0.45" shape-rendering="crispEdges"/><rect x="1006.8" y="1522.2" width="38.3" height="2.5" fill="#dbd181" opacity="0.42" shape-rendering="crispEdges"/><rect x="1006.8" y="1526.8" width="38.3" height="1.0" fill="#dace7e" opacity="0.43" shape-rendering="crispEdges"/><rect x="1006.8" y="1531.5" width="38.3" height="1.0" fill="#c49a50" opacity="0.58" shape-rendering="crispEdges"/><rect x="1006.8" y="1534.5" width="38.3" height="2.5" fill="#ccab5b" opacity="0.31" shape-rendering="crispEdges"/><rect x="1006.8" y="1539.0" width="38.3" height="1.5" fill="#c59b50" opacity="0.43" shape-rendering="crispEdges"/><rect x="1006.8" y="1541.0" width="38.3" height="1.0" fill="#d6c372" opacity="0.59" shape-rendering="crispEdges"/><rect x="1006.8" y="1545.5" width="38.3" height="1.5" fill="#caa658" opacity="0.43" shape-rendering="crispEdges"/><rect x="1006.8" y="1547.2" width="38.3" height="1.5" fill="#d1b766" opacity="0.43" shape-rendering="crispEdges"/><rect x="1006.8" y="1553.8" width="38.3" height="1.0" fill="#caa758" opacity="0.53" shape-rendering="crispEdges"/><rect x="1006.8" y="1555.5" width="38.3" height="1.0" fill="#cba759" opacity="0.32" shape-rendering="crispEdges"/><rect x="1006.8" y="1557.8" width="38.3" height="2.5" fill="#d6c473" opacity="0.38" shape-rendering="crispEdges"/><rect x="1006.8" y="1563.6" width="38.3" height="1.5" fill="#ccab5b" opacity="0.51" shape-rendering="crispEdges"/><rect x="1006.8" y="1569.3" width="38.3" height="2.5" fill="#c8a153" opacity="0.49" shape-rendering="crispEdges"/><rect x="1006.8" y="1575.1" width="38.3" height="1.0" fill="#dcd384" opacity="0.51" shape-rendering="crispEdges"/><rect x="1006.8" y="1588.9" width="38.3" height="2.0" fill="#dace7e" opacity="0.54" shape-rendering="crispEdges"/>
<path d="M832.2 1522.7 L836.4 1516.8 L843.5 1512.1 L857.8 1510.2 L874.4 1509.2" stroke="#151515" stroke-width="1.2" fill="none" stroke-linejoin="round"/>
<path d="M896.9 1508.5 L926.6 1509.0 L933.7 1511.6 L943.2 1518.0 L952.7 1523.4 L962.2 1527.5 L976.4 1531.0 L988.3 1532.9 L993.0 1536.3 L988.3 1539.3 L981.6 1540.5 L983.5 1545.3 L988.3 1548.8 L990.6 1554.3 L1000.1 1556.7 L1014.4 1557.1 L1031.0 1554.8 L1038.1 1551.2 L1045.7 1549.5" stroke="#151515" stroke-width="1.2" fill="none" stroke-linejoin="round"/>
<text x="885.1" y="1517.0" font-size="23.00" text-anchor="middle" fill="#151515" stroke="#151515" stroke-width="0.3" transform="rotate(0 885.1 1517.0)">16</text>
<path d="M798.9 1495.5 L815.6 1534.6 L853.0 1563.5 L890.5 1572.6 L927.8 1587.5 L967.4 1588.5 L1006.8 1599.8 L1045.1 1608.0" stroke="#000" stroke-width="4.4" fill="none" stroke-linejoin="round"/>
<rect x="798.9" y="1451.3" width="246.4" height="204.3" fill="none" stroke="#4a4a4a" stroke-width="1.2"/>
<text x="789.2" y="1459.3" font-size="22.30" text-anchor="end" fill="#262626" stroke="#262626" stroke-width="0.3">0</text>
<path d="M798.9 1509.7 h3 M1045.3 1509.7 h-3" stroke="#4a4a4a" stroke-width="1.1"/>
<text x="789.2" y="1517.7" font-size="22.30" text-anchor="end" fill="#262626" stroke="#262626" stroke-width="0.3">-10</text>
<path d="M798.9 1568.0 h3 M1045.3 1568.0 h-3" stroke="#4a4a4a" stroke-width="1.1"/>
<text x="789.2" y="1576.0" font-size="22.30" text-anchor="end" fill="#262626" stroke="#262626" stroke-width="0.3">-20</text>
<path d="M798.9 1626.4 h3 M1045.3 1626.4 h-3" stroke="#4a4a4a" stroke-width="1.1"/>
<text x="789.2" y="1634.4" font-size="22.30" text-anchor="end" fill="#262626" stroke="#262626" stroke-width="0.3">-30</text>
<path d="M810.6 1655.6 v-3" stroke="#4a4a4a" stroke-width="1.1"/>
<path d="M928.0 1655.6 v-3" stroke="#4a4a4a" stroke-width="1.1"/>
<text x="810.6" y="1685.6" font-size="21.50" text-anchor="middle" fill="#262626" stroke="#262626" stroke-width="0.3" textLength="56.0" lengthAdjust="spacingAndGlyphs">41.75</text>
<text x="928.0" y="1685.6" font-size="21.50" text-anchor="middle" fill="#262626" stroke="#262626" stroke-width="0.3" textLength="43.5" lengthAdjust="spacingAndGlyphs">41.8</text>
<text x="1045.3" y="1685.6" font-size="21.50" text-anchor="middle" fill="#262626" stroke="#262626" stroke-width="0.3" textLength="56.0" lengthAdjust="spacingAndGlyphs">41.85</text>
<text x="745.5" y="1553.9" font-size="25.00" text-anchor="middle" fill="#262626" stroke="#262626" stroke-width="0.3" textLength="107.5" lengthAdjust="spacingAndGlyphs" transform="rotate(-90 745.5 1553.9)">Depth [m]</text>
<text x="791.6" y="1447.7" font-size="22.00" text-anchor="start" fill="#000" stroke="#000" stroke-width="0.3" textLength="242.0" lengthAdjust="spacingAndGlyphs">(p) OBS -- Sep-24-2020</text>
<rect x="809.2" y="1638.9" width="100.5" height="8.8" fill="url(#g165)" stroke="#555" stroke-width="1"/>
<path d="M809.2 1638.9 v1.6" stroke="#333" stroke-width="0.8"/>
<text x="809.2" y="1626.0" font-size="20.80" text-anchor="middle" fill="#262626" stroke="#262626" stroke-width="0.3">0</text>
<path d="M909.7 1638.9 v1.6" stroke="#333" stroke-width="0.8"/>
<text x="909.7" y="1626.0" font-size="20.80" text-anchor="middle" fill="#262626" stroke="#262626" stroke-width="0.3">5</text>
<text x="839.2" y="1599.8" font-size="20.5" fill="#262626">NTU</text></svg></body></html>
